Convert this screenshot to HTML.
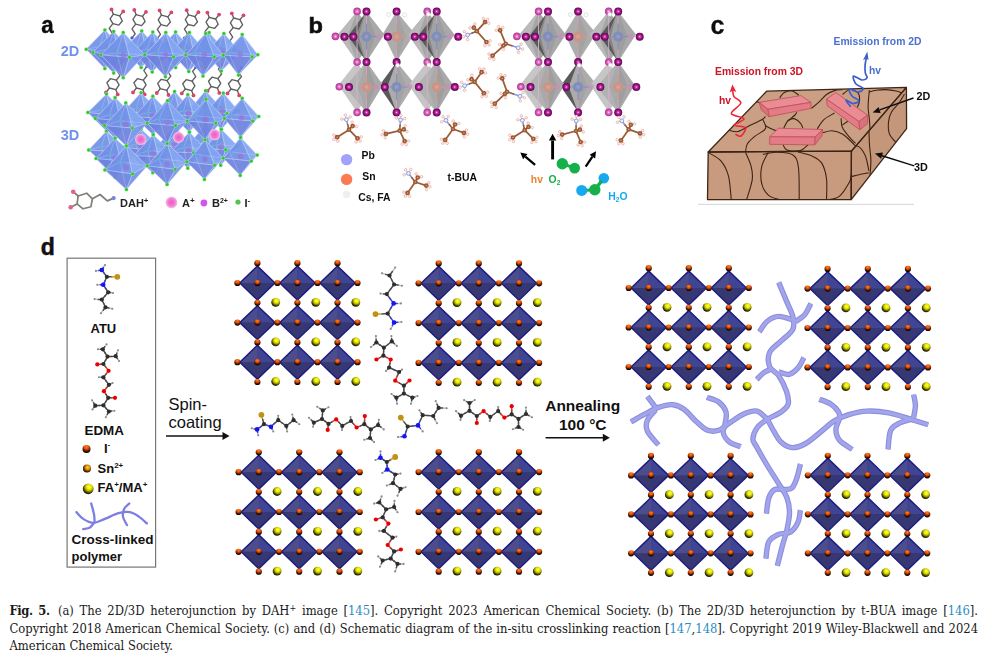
<!DOCTYPE html>
<html lang="en"><head><meta charset="utf-8"><title>Fig. 5</title>
<style>
html,body{margin:0;padding:0;background:#fff;}
body{width:985px;height:659px;position:relative;overflow:hidden;}
svg{position:absolute;left:0;top:0;}
.cap{position:absolute;left:0;top:0;width:985px;height:659px;font-family:"DejaVu Serif Condensed","Liberation Serif",serif;font-size:12.86px;color:#1a1a1a;}
.ln{position:absolute;left:9.5px;width:968.5px;height:17px;line-height:17px;white-space:nowrap;}
.j{text-align:justify;text-align-last:justify;white-space:normal;}
.r{color:#2a8dc4;}
b{letter-spacing:-0.4px;}
.sp{display:inline-block;width:8.3px;}
sup{font-size:9px;line-height:0;vertical-align:4px;}
</style></head>
<body>
<svg width="985" height="659" viewBox="0 0 985 659">

<defs>
 <filter id="b3" x="-5%" y="-5%" width="110%" height="110%"><feGaussianBlur stdDeviation="0.45"/></filter>
 <filter id="b5" x="-5%" y="-5%" width="110%" height="110%"><feGaussianBlur stdDeviation="0.6"/></filter>
 <filter id="b8" x="-5%" y="-5%" width="110%" height="110%"><feGaussianBlur stdDeviation="0.8"/></filter>
 <radialGradient id="gO" cx="0.5" cy="0.22" r="0.8"><stop offset="0" stop-color="#ff801c"/><stop offset="0.3" stop-color="#ee5a0a"/><stop offset="0.5" stop-color="#b03a04"/><stop offset="0.68" stop-color="#4e1800"/><stop offset="0.85" stop-color="#1a0600"/><stop offset="1" stop-color="#000"/></radialGradient>
 <radialGradient id="gY" cx="0.58" cy="0.34" r="0.74"><stop offset="0" stop-color="#ffff60"/><stop offset="0.3" stop-color="#eaea00"/><stop offset="0.5" stop-color="#a8a800"/><stop offset="0.7" stop-color="#484800"/><stop offset="0.88" stop-color="#141400"/><stop offset="1" stop-color="#000"/></radialGradient>
 <radialGradient id="gSn" cx="0.58" cy="0.36" r="0.74"><stop offset="0" stop-color="#ffd038"/><stop offset="0.3" stop-color="#eca000"/><stop offset="0.5" stop-color="#a86400"/><stop offset="0.7" stop-color="#482400"/><stop offset="0.88" stop-color="#140800"/><stop offset="1" stop-color="#000"/></radialGradient>
 <radialGradient id="gI" cx="0.5" cy="0.5" r="0.5"><stop offset="0" stop-color="#ffd8f4"/><stop offset="0.22" stop-color="#d848b4"/><stop offset="0.55" stop-color="#a01486"/><stop offset="1" stop-color="#5a0450"/></radialGradient>
 <radialGradient id="gIb" cx="0.5" cy="0.5" r="0.5"><stop offset="0" stop-color="#ffe8fa"/><stop offset="0.25" stop-color="#ee88d2"/><stop offset="0.6" stop-color="#d250b0"/><stop offset="1" stop-color="#a83890"/></radialGradient>
 <radialGradient id="gPb" cx="0.5" cy="0.5" r="0.5"><stop offset="0" stop-color="#9aa4c6"/><stop offset="0.6" stop-color="#7f8cba"/><stop offset="1" stop-color="#8a92b4"/></radialGradient>
 <radialGradient id="gSnb" cx="0.5" cy="0.5" r="0.5"><stop offset="0" stop-color="#d8a89c"/><stop offset="0.6" stop-color="#cc9286"/><stop offset="1" stop-color="#c09a92"/></radialGradient>
 <radialGradient id="gA" cx="0.5" cy="0.5" r="0.5"><stop offset="0" stop-color="#ec5cc2"/><stop offset="0.55" stop-color="#f07ad0"/><stop offset="0.85" stop-color="#f6a6e0"/><stop offset="1" stop-color="#fbd0f0"/></radialGradient>
 <radialGradient id="gG" cx="0.5" cy="0.5" r="0.5"><stop offset="0" stop-color="#28b428"/><stop offset="0.55" stop-color="#38d038"/><stop offset="1" stop-color="#8ce88c"/></radialGradient>
</defs>

<!-- panel d lattice blocks -->
<g filter="url(#b3)"><polygon points="239.8,283.0 257.4,266.1 275.0,283.0 257.4,299.9" fill="#3f407f"/><polygon points="239.8,283.0 257.4,266.1 257.4,283.0" fill="#4b4e8c"/><polygon points="257.4,266.1 275.0,283.0 257.4,283.0" fill="#414493"/><polygon points="239.8,283.0 257.4,299.9 257.4,283.0" fill="#38396f"/><polygon points="257.4,299.9 275.0,283.0 257.4,283.0" fill="#353775"/><polygon points="239.8,283.0 257.4,266.1 275.0,283.0 257.4,299.9" fill="none" stroke="#1f1f80" stroke-width="1.5" stroke-linejoin="round"/><polygon points="279.8,283.0 297.4,266.1 315.1,283.0 297.4,299.9" fill="#3f407f"/><polygon points="279.8,283.0 297.4,266.1 297.4,283.0" fill="#4b4e8c"/><polygon points="297.4,266.1 315.1,283.0 297.4,283.0" fill="#414493"/><polygon points="279.8,283.0 297.4,299.9 297.4,283.0" fill="#38396f"/><polygon points="297.4,299.9 315.1,283.0 297.4,283.0" fill="#353775"/><polygon points="279.8,283.0 297.4,266.1 315.1,283.0 297.4,299.9" fill="none" stroke="#1f1f80" stroke-width="1.5" stroke-linejoin="round"/><polygon points="319.9,283.0 337.5,266.1 355.1,283.0 337.5,299.9" fill="#3f407f"/><polygon points="319.9,283.0 337.5,266.1 337.5,283.0" fill="#4b4e8c"/><polygon points="337.5,266.1 355.1,283.0 337.5,283.0" fill="#414493"/><polygon points="319.9,283.0 337.5,299.9 337.5,283.0" fill="#38396f"/><polygon points="337.5,299.9 355.1,283.0 337.5,283.0" fill="#353775"/><polygon points="319.9,283.0 337.5,266.1 355.1,283.0 337.5,299.9" fill="none" stroke="#1f1f80" stroke-width="1.5" stroke-linejoin="round"/><polygon points="239.8,322.6 257.4,305.7 275.0,322.6 257.4,339.5" fill="#3f407f"/><polygon points="239.8,322.6 257.4,305.7 257.4,322.6" fill="#4b4e8c"/><polygon points="257.4,305.7 275.0,322.6 257.4,322.6" fill="#414493"/><polygon points="239.8,322.6 257.4,339.5 257.4,322.6" fill="#38396f"/><polygon points="257.4,339.5 275.0,322.6 257.4,322.6" fill="#353775"/><polygon points="239.8,322.6 257.4,305.7 275.0,322.6 257.4,339.5" fill="none" stroke="#1f1f80" stroke-width="1.5" stroke-linejoin="round"/><polygon points="279.8,322.6 297.4,305.7 315.1,322.6 297.4,339.5" fill="#3f407f"/><polygon points="279.8,322.6 297.4,305.7 297.4,322.6" fill="#4b4e8c"/><polygon points="297.4,305.7 315.1,322.6 297.4,322.6" fill="#414493"/><polygon points="279.8,322.6 297.4,339.5 297.4,322.6" fill="#38396f"/><polygon points="297.4,339.5 315.1,322.6 297.4,322.6" fill="#353775"/><polygon points="279.8,322.6 297.4,305.7 315.1,322.6 297.4,339.5" fill="none" stroke="#1f1f80" stroke-width="1.5" stroke-linejoin="round"/><polygon points="319.9,322.6 337.5,305.7 355.1,322.6 337.5,339.5" fill="#3f407f"/><polygon points="319.9,322.6 337.5,305.7 337.5,322.6" fill="#4b4e8c"/><polygon points="337.5,305.7 355.1,322.6 337.5,322.6" fill="#414493"/><polygon points="319.9,322.6 337.5,339.5 337.5,322.6" fill="#38396f"/><polygon points="337.5,339.5 355.1,322.6 337.5,322.6" fill="#353775"/><polygon points="319.9,322.6 337.5,305.7 355.1,322.6 337.5,339.5" fill="none" stroke="#1f1f80" stroke-width="1.5" stroke-linejoin="round"/><polygon points="239.8,362.2 257.4,345.3 275.0,362.2 257.4,379.1" fill="#3f407f"/><polygon points="239.8,362.2 257.4,345.3 257.4,362.2" fill="#4b4e8c"/><polygon points="257.4,345.3 275.0,362.2 257.4,362.2" fill="#414493"/><polygon points="239.8,362.2 257.4,379.1 257.4,362.2" fill="#38396f"/><polygon points="257.4,379.1 275.0,362.2 257.4,362.2" fill="#353775"/><polygon points="239.8,362.2 257.4,345.3 275.0,362.2 257.4,379.1" fill="none" stroke="#1f1f80" stroke-width="1.5" stroke-linejoin="round"/><polygon points="279.8,362.2 297.4,345.3 315.1,362.2 297.4,379.1" fill="#3f407f"/><polygon points="279.8,362.2 297.4,345.3 297.4,362.2" fill="#4b4e8c"/><polygon points="297.4,345.3 315.1,362.2 297.4,362.2" fill="#414493"/><polygon points="279.8,362.2 297.4,379.1 297.4,362.2" fill="#38396f"/><polygon points="297.4,379.1 315.1,362.2 297.4,362.2" fill="#353775"/><polygon points="279.8,362.2 297.4,345.3 315.1,362.2 297.4,379.1" fill="none" stroke="#1f1f80" stroke-width="1.5" stroke-linejoin="round"/><polygon points="319.9,362.2 337.5,345.3 355.1,362.2 337.5,379.1" fill="#3f407f"/><polygon points="319.9,362.2 337.5,345.3 337.5,362.2" fill="#4b4e8c"/><polygon points="337.5,345.3 355.1,362.2 337.5,362.2" fill="#414493"/><polygon points="319.9,362.2 337.5,379.1 337.5,362.2" fill="#38396f"/><polygon points="337.5,379.1 355.1,362.2 337.5,362.2" fill="#353775"/><polygon points="319.9,362.2 337.5,345.3 355.1,362.2 337.5,379.1" fill="none" stroke="#1f1f80" stroke-width="1.5" stroke-linejoin="round"/><circle cx="237.4" cy="283.0" r="3.1" fill="url(#gO)"/><circle cx="237.4" cy="322.6" r="3.1" fill="url(#gO)"/><circle cx="237.4" cy="362.2" r="3.1" fill="url(#gO)"/><circle cx="257.4" cy="263.2" r="3.1" fill="url(#gO)"/><circle cx="257.4" cy="283.0" r="3.1" fill="url(#gO)"/><circle cx="257.4" cy="302.8" r="3.1" fill="url(#gO)"/><circle cx="257.4" cy="322.6" r="3.1" fill="url(#gO)"/><circle cx="257.4" cy="342.4" r="3.1" fill="url(#gO)"/><circle cx="257.4" cy="362.2" r="3.1" fill="url(#gO)"/><circle cx="257.4" cy="382.0" r="3.1" fill="url(#gO)"/><circle cx="277.4" cy="283.0" r="3.1" fill="url(#gO)"/><circle cx="277.4" cy="322.6" r="3.1" fill="url(#gO)"/><circle cx="277.4" cy="362.2" r="3.1" fill="url(#gO)"/><circle cx="297.4" cy="263.2" r="3.1" fill="url(#gO)"/><circle cx="297.4" cy="283.0" r="3.1" fill="url(#gO)"/><circle cx="297.4" cy="302.8" r="3.1" fill="url(#gO)"/><circle cx="297.4" cy="322.6" r="3.1" fill="url(#gO)"/><circle cx="297.4" cy="342.4" r="3.1" fill="url(#gO)"/><circle cx="297.4" cy="362.2" r="3.1" fill="url(#gO)"/><circle cx="297.4" cy="382.0" r="3.1" fill="url(#gO)"/><circle cx="317.5" cy="283.0" r="3.1" fill="url(#gO)"/><circle cx="317.5" cy="322.6" r="3.1" fill="url(#gO)"/><circle cx="317.5" cy="362.2" r="3.1" fill="url(#gO)"/><circle cx="337.5" cy="263.2" r="3.1" fill="url(#gO)"/><circle cx="337.5" cy="283.0" r="3.1" fill="url(#gO)"/><circle cx="337.5" cy="302.8" r="3.1" fill="url(#gO)"/><circle cx="337.5" cy="322.6" r="3.1" fill="url(#gO)"/><circle cx="337.5" cy="342.4" r="3.1" fill="url(#gO)"/><circle cx="337.5" cy="362.2" r="3.1" fill="url(#gO)"/><circle cx="337.5" cy="382.0" r="3.1" fill="url(#gO)"/><circle cx="357.5" cy="283.0" r="3.1" fill="url(#gO)"/><circle cx="357.5" cy="322.6" r="3.1" fill="url(#gO)"/><circle cx="357.5" cy="362.2" r="3.1" fill="url(#gO)"/><circle cx="275.7" cy="302.3" r="4.4" fill="url(#gY)"/><circle cx="315.8" cy="302.3" r="4.4" fill="url(#gY)"/><circle cx="355.8" cy="302.3" r="4.4" fill="url(#gY)"/><circle cx="275.7" cy="341.9" r="4.4" fill="url(#gY)"/><circle cx="315.8" cy="341.9" r="4.4" fill="url(#gY)"/><circle cx="355.8" cy="341.9" r="4.4" fill="url(#gY)"/><circle cx="275.7" cy="381.5" r="4.4" fill="url(#gY)"/><circle cx="315.8" cy="381.5" r="4.4" fill="url(#gY)"/><circle cx="355.8" cy="381.5" r="4.4" fill="url(#gY)"/></g>
<g filter="url(#b3)"><polygon points="421.1,283.3 438.7,266.4 456.3,283.3 438.7,300.2" fill="#3f407f"/><polygon points="421.1,283.3 438.7,266.4 438.7,283.3" fill="#4b4e8c"/><polygon points="438.7,266.4 456.3,283.3 438.7,283.3" fill="#414493"/><polygon points="421.1,283.3 438.7,300.2 438.7,283.3" fill="#38396f"/><polygon points="438.7,300.2 456.3,283.3 438.7,283.3" fill="#353775"/><polygon points="421.1,283.3 438.7,266.4 456.3,283.3 438.7,300.2" fill="none" stroke="#1f1f80" stroke-width="1.5" stroke-linejoin="round"/><polygon points="461.2,283.3 478.8,266.4 496.4,283.3 478.8,300.2" fill="#3f407f"/><polygon points="461.2,283.3 478.8,266.4 478.8,283.3" fill="#4b4e8c"/><polygon points="478.8,266.4 496.4,283.3 478.8,283.3" fill="#414493"/><polygon points="461.2,283.3 478.8,300.2 478.8,283.3" fill="#38396f"/><polygon points="478.8,300.2 496.4,283.3 478.8,283.3" fill="#353775"/><polygon points="461.2,283.3 478.8,266.4 496.4,283.3 478.8,300.2" fill="none" stroke="#1f1f80" stroke-width="1.5" stroke-linejoin="round"/><polygon points="501.4,283.3 519.0,266.4 536.6,283.3 519.0,300.2" fill="#3f407f"/><polygon points="501.4,283.3 519.0,266.4 519.0,283.3" fill="#4b4e8c"/><polygon points="519.0,266.4 536.6,283.3 519.0,283.3" fill="#414493"/><polygon points="501.4,283.3 519.0,300.2 519.0,283.3" fill="#38396f"/><polygon points="519.0,300.2 536.6,283.3 519.0,283.3" fill="#353775"/><polygon points="501.4,283.3 519.0,266.4 536.6,283.3 519.0,300.2" fill="none" stroke="#1f1f80" stroke-width="1.5" stroke-linejoin="round"/><polygon points="421.1,323.1 438.7,306.2 456.3,323.1 438.7,340.0" fill="#3f407f"/><polygon points="421.1,323.1 438.7,306.2 438.7,323.1" fill="#4b4e8c"/><polygon points="438.7,306.2 456.3,323.1 438.7,323.1" fill="#414493"/><polygon points="421.1,323.1 438.7,340.0 438.7,323.1" fill="#38396f"/><polygon points="438.7,340.0 456.3,323.1 438.7,323.1" fill="#353775"/><polygon points="421.1,323.1 438.7,306.2 456.3,323.1 438.7,340.0" fill="none" stroke="#1f1f80" stroke-width="1.5" stroke-linejoin="round"/><polygon points="461.2,323.1 478.8,306.2 496.4,323.1 478.8,340.0" fill="#3f407f"/><polygon points="461.2,323.1 478.8,306.2 478.8,323.1" fill="#4b4e8c"/><polygon points="478.8,306.2 496.4,323.1 478.8,323.1" fill="#414493"/><polygon points="461.2,323.1 478.8,340.0 478.8,323.1" fill="#38396f"/><polygon points="478.8,340.0 496.4,323.1 478.8,323.1" fill="#353775"/><polygon points="461.2,323.1 478.8,306.2 496.4,323.1 478.8,340.0" fill="none" stroke="#1f1f80" stroke-width="1.5" stroke-linejoin="round"/><polygon points="501.4,323.1 519.0,306.2 536.6,323.1 519.0,340.0" fill="#3f407f"/><polygon points="501.4,323.1 519.0,306.2 519.0,323.1" fill="#4b4e8c"/><polygon points="519.0,306.2 536.6,323.1 519.0,323.1" fill="#414493"/><polygon points="501.4,323.1 519.0,340.0 519.0,323.1" fill="#38396f"/><polygon points="519.0,340.0 536.6,323.1 519.0,323.1" fill="#353775"/><polygon points="501.4,323.1 519.0,306.2 536.6,323.1 519.0,340.0" fill="none" stroke="#1f1f80" stroke-width="1.5" stroke-linejoin="round"/><polygon points="421.1,362.9 438.7,346.0 456.3,362.9 438.7,379.8" fill="#3f407f"/><polygon points="421.1,362.9 438.7,346.0 438.7,362.9" fill="#4b4e8c"/><polygon points="438.7,346.0 456.3,362.9 438.7,362.9" fill="#414493"/><polygon points="421.1,362.9 438.7,379.8 438.7,362.9" fill="#38396f"/><polygon points="438.7,379.8 456.3,362.9 438.7,362.9" fill="#353775"/><polygon points="421.1,362.9 438.7,346.0 456.3,362.9 438.7,379.8" fill="none" stroke="#1f1f80" stroke-width="1.5" stroke-linejoin="round"/><polygon points="461.2,362.9 478.8,346.0 496.4,362.9 478.8,379.8" fill="#3f407f"/><polygon points="461.2,362.9 478.8,346.0 478.8,362.9" fill="#4b4e8c"/><polygon points="478.8,346.0 496.4,362.9 478.8,362.9" fill="#414493"/><polygon points="461.2,362.9 478.8,379.8 478.8,362.9" fill="#38396f"/><polygon points="478.8,379.8 496.4,362.9 478.8,362.9" fill="#353775"/><polygon points="461.2,362.9 478.8,346.0 496.4,362.9 478.8,379.8" fill="none" stroke="#1f1f80" stroke-width="1.5" stroke-linejoin="round"/><polygon points="501.4,362.9 519.0,346.0 536.6,362.9 519.0,379.8" fill="#3f407f"/><polygon points="501.4,362.9 519.0,346.0 519.0,362.9" fill="#4b4e8c"/><polygon points="519.0,346.0 536.6,362.9 519.0,362.9" fill="#414493"/><polygon points="501.4,362.9 519.0,379.8 519.0,362.9" fill="#38396f"/><polygon points="519.0,379.8 536.6,362.9 519.0,362.9" fill="#353775"/><polygon points="501.4,362.9 519.0,346.0 536.6,362.9 519.0,379.8" fill="none" stroke="#1f1f80" stroke-width="1.5" stroke-linejoin="round"/><circle cx="418.6" cy="283.3" r="3.1" fill="url(#gO)"/><circle cx="418.6" cy="323.1" r="3.1" fill="url(#gO)"/><circle cx="418.6" cy="362.9" r="3.1" fill="url(#gO)"/><circle cx="438.7" cy="263.4" r="3.1" fill="url(#gO)"/><circle cx="438.7" cy="283.3" r="3.1" fill="url(#gO)"/><circle cx="438.7" cy="303.2" r="3.1" fill="url(#gO)"/><circle cx="438.7" cy="323.1" r="3.1" fill="url(#gO)"/><circle cx="438.7" cy="343.0" r="3.1" fill="url(#gO)"/><circle cx="438.7" cy="362.9" r="3.1" fill="url(#gO)"/><circle cx="438.7" cy="382.8" r="3.1" fill="url(#gO)"/><circle cx="458.8" cy="283.3" r="3.1" fill="url(#gO)"/><circle cx="458.8" cy="323.1" r="3.1" fill="url(#gO)"/><circle cx="458.8" cy="362.9" r="3.1" fill="url(#gO)"/><circle cx="478.8" cy="263.4" r="3.1" fill="url(#gO)"/><circle cx="478.8" cy="283.3" r="3.1" fill="url(#gO)"/><circle cx="478.8" cy="303.2" r="3.1" fill="url(#gO)"/><circle cx="478.8" cy="323.1" r="3.1" fill="url(#gO)"/><circle cx="478.8" cy="343.0" r="3.1" fill="url(#gO)"/><circle cx="478.8" cy="362.9" r="3.1" fill="url(#gO)"/><circle cx="478.8" cy="382.8" r="3.1" fill="url(#gO)"/><circle cx="498.9" cy="283.3" r="3.1" fill="url(#gO)"/><circle cx="498.9" cy="323.1" r="3.1" fill="url(#gO)"/><circle cx="498.9" cy="362.9" r="3.1" fill="url(#gO)"/><circle cx="519.0" cy="263.4" r="3.1" fill="url(#gO)"/><circle cx="519.0" cy="283.3" r="3.1" fill="url(#gO)"/><circle cx="519.0" cy="303.2" r="3.1" fill="url(#gO)"/><circle cx="519.0" cy="323.1" r="3.1" fill="url(#gO)"/><circle cx="519.0" cy="343.0" r="3.1" fill="url(#gO)"/><circle cx="519.0" cy="362.9" r="3.1" fill="url(#gO)"/><circle cx="519.0" cy="382.8" r="3.1" fill="url(#gO)"/><circle cx="539.1" cy="283.3" r="3.1" fill="url(#gO)"/><circle cx="539.1" cy="323.1" r="3.1" fill="url(#gO)"/><circle cx="539.1" cy="362.9" r="3.1" fill="url(#gO)"/><circle cx="457.0" cy="302.6" r="4.4" fill="url(#gY)"/><circle cx="497.1" cy="302.6" r="4.4" fill="url(#gY)"/><circle cx="537.3" cy="302.6" r="4.4" fill="url(#gY)"/><circle cx="457.0" cy="342.4" r="4.4" fill="url(#gY)"/><circle cx="497.1" cy="342.4" r="4.4" fill="url(#gY)"/><circle cx="537.3" cy="342.4" r="4.4" fill="url(#gY)"/><circle cx="457.0" cy="382.2" r="4.4" fill="url(#gY)"/><circle cx="497.1" cy="382.2" r="4.4" fill="url(#gY)"/><circle cx="537.3" cy="382.2" r="4.4" fill="url(#gY)"/></g>
<g filter="url(#b3)"><polygon points="241.2,472.2 258.8,455.3 276.4,472.2 258.8,489.1" fill="#3f407f"/><polygon points="241.2,472.2 258.8,455.3 258.8,472.2" fill="#4b4e8c"/><polygon points="258.8,455.3 276.4,472.2 258.8,472.2" fill="#414493"/><polygon points="241.2,472.2 258.8,489.1 258.8,472.2" fill="#38396f"/><polygon points="258.8,489.1 276.4,472.2 258.8,472.2" fill="#353775"/><polygon points="241.2,472.2 258.8,455.3 276.4,472.2 258.8,489.1" fill="none" stroke="#1f1f80" stroke-width="1.5" stroke-linejoin="round"/><polygon points="281.6,472.2 299.2,455.3 316.8,472.2 299.2,489.1" fill="#3f407f"/><polygon points="281.6,472.2 299.2,455.3 299.2,472.2" fill="#4b4e8c"/><polygon points="299.2,455.3 316.8,472.2 299.2,472.2" fill="#414493"/><polygon points="281.6,472.2 299.2,489.1 299.2,472.2" fill="#38396f"/><polygon points="299.2,489.1 316.8,472.2 299.2,472.2" fill="#353775"/><polygon points="281.6,472.2 299.2,455.3 316.8,472.2 299.2,489.1" fill="none" stroke="#1f1f80" stroke-width="1.5" stroke-linejoin="round"/><polygon points="321.9,472.2 339.5,455.3 357.1,472.2 339.5,489.1" fill="#3f407f"/><polygon points="321.9,472.2 339.5,455.3 339.5,472.2" fill="#4b4e8c"/><polygon points="339.5,455.3 357.1,472.2 339.5,472.2" fill="#414493"/><polygon points="321.9,472.2 339.5,489.1 339.5,472.2" fill="#38396f"/><polygon points="339.5,489.1 357.1,472.2 339.5,472.2" fill="#353775"/><polygon points="321.9,472.2 339.5,455.3 357.1,472.2 339.5,489.1" fill="none" stroke="#1f1f80" stroke-width="1.5" stroke-linejoin="round"/><polygon points="241.2,512.0 258.8,495.1 276.4,512.0 258.8,528.9" fill="#3f407f"/><polygon points="241.2,512.0 258.8,495.1 258.8,512.0" fill="#4b4e8c"/><polygon points="258.8,495.1 276.4,512.0 258.8,512.0" fill="#414493"/><polygon points="241.2,512.0 258.8,528.9 258.8,512.0" fill="#38396f"/><polygon points="258.8,528.9 276.4,512.0 258.8,512.0" fill="#353775"/><polygon points="241.2,512.0 258.8,495.1 276.4,512.0 258.8,528.9" fill="none" stroke="#1f1f80" stroke-width="1.5" stroke-linejoin="round"/><polygon points="281.6,512.0 299.2,495.1 316.8,512.0 299.2,528.9" fill="#3f407f"/><polygon points="281.6,512.0 299.2,495.1 299.2,512.0" fill="#4b4e8c"/><polygon points="299.2,495.1 316.8,512.0 299.2,512.0" fill="#414493"/><polygon points="281.6,512.0 299.2,528.9 299.2,512.0" fill="#38396f"/><polygon points="299.2,528.9 316.8,512.0 299.2,512.0" fill="#353775"/><polygon points="281.6,512.0 299.2,495.1 316.8,512.0 299.2,528.9" fill="none" stroke="#1f1f80" stroke-width="1.5" stroke-linejoin="round"/><polygon points="321.9,512.0 339.5,495.1 357.1,512.0 339.5,528.9" fill="#3f407f"/><polygon points="321.9,512.0 339.5,495.1 339.5,512.0" fill="#4b4e8c"/><polygon points="339.5,495.1 357.1,512.0 339.5,512.0" fill="#414493"/><polygon points="321.9,512.0 339.5,528.9 339.5,512.0" fill="#38396f"/><polygon points="339.5,528.9 357.1,512.0 339.5,512.0" fill="#353775"/><polygon points="321.9,512.0 339.5,495.1 357.1,512.0 339.5,528.9" fill="none" stroke="#1f1f80" stroke-width="1.5" stroke-linejoin="round"/><polygon points="241.2,551.8 258.8,534.9 276.4,551.8 258.8,568.7" fill="#3f407f"/><polygon points="241.2,551.8 258.8,534.9 258.8,551.8" fill="#4b4e8c"/><polygon points="258.8,534.9 276.4,551.8 258.8,551.8" fill="#414493"/><polygon points="241.2,551.8 258.8,568.7 258.8,551.8" fill="#38396f"/><polygon points="258.8,568.7 276.4,551.8 258.8,551.8" fill="#353775"/><polygon points="241.2,551.8 258.8,534.9 276.4,551.8 258.8,568.7" fill="none" stroke="#1f1f80" stroke-width="1.5" stroke-linejoin="round"/><polygon points="281.6,551.8 299.2,534.9 316.8,551.8 299.2,568.7" fill="#3f407f"/><polygon points="281.6,551.8 299.2,534.9 299.2,551.8" fill="#4b4e8c"/><polygon points="299.2,534.9 316.8,551.8 299.2,551.8" fill="#414493"/><polygon points="281.6,551.8 299.2,568.7 299.2,551.8" fill="#38396f"/><polygon points="299.2,568.7 316.8,551.8 299.2,551.8" fill="#353775"/><polygon points="281.6,551.8 299.2,534.9 316.8,551.8 299.2,568.7" fill="none" stroke="#1f1f80" stroke-width="1.5" stroke-linejoin="round"/><polygon points="321.9,551.8 339.5,534.9 357.1,551.8 339.5,568.7" fill="#3f407f"/><polygon points="321.9,551.8 339.5,534.9 339.5,551.8" fill="#4b4e8c"/><polygon points="339.5,534.9 357.1,551.8 339.5,551.8" fill="#414493"/><polygon points="321.9,551.8 339.5,568.7 339.5,551.8" fill="#38396f"/><polygon points="339.5,568.7 357.1,551.8 339.5,551.8" fill="#353775"/><polygon points="321.9,551.8 339.5,534.9 357.1,551.8 339.5,568.7" fill="none" stroke="#1f1f80" stroke-width="1.5" stroke-linejoin="round"/><circle cx="238.6" cy="472.2" r="3.1" fill="url(#gO)"/><circle cx="238.6" cy="512.0" r="3.1" fill="url(#gO)"/><circle cx="238.6" cy="551.8" r="3.1" fill="url(#gO)"/><circle cx="258.8" cy="452.3" r="3.1" fill="url(#gO)"/><circle cx="258.8" cy="472.2" r="3.1" fill="url(#gO)"/><circle cx="258.8" cy="492.1" r="3.1" fill="url(#gO)"/><circle cx="258.8" cy="512.0" r="3.1" fill="url(#gO)"/><circle cx="258.8" cy="531.9" r="3.1" fill="url(#gO)"/><circle cx="258.8" cy="551.8" r="3.1" fill="url(#gO)"/><circle cx="258.8" cy="571.7" r="3.1" fill="url(#gO)"/><circle cx="279.0" cy="472.2" r="3.1" fill="url(#gO)"/><circle cx="279.0" cy="512.0" r="3.1" fill="url(#gO)"/><circle cx="279.0" cy="551.8" r="3.1" fill="url(#gO)"/><circle cx="299.2" cy="452.3" r="3.1" fill="url(#gO)"/><circle cx="299.2" cy="472.2" r="3.1" fill="url(#gO)"/><circle cx="299.2" cy="492.1" r="3.1" fill="url(#gO)"/><circle cx="299.2" cy="512.0" r="3.1" fill="url(#gO)"/><circle cx="299.2" cy="531.9" r="3.1" fill="url(#gO)"/><circle cx="299.2" cy="551.8" r="3.1" fill="url(#gO)"/><circle cx="299.2" cy="571.7" r="3.1" fill="url(#gO)"/><circle cx="319.3" cy="472.2" r="3.1" fill="url(#gO)"/><circle cx="319.3" cy="512.0" r="3.1" fill="url(#gO)"/><circle cx="319.3" cy="551.8" r="3.1" fill="url(#gO)"/><circle cx="339.5" cy="452.3" r="3.1" fill="url(#gO)"/><circle cx="339.5" cy="472.2" r="3.1" fill="url(#gO)"/><circle cx="339.5" cy="492.1" r="3.1" fill="url(#gO)"/><circle cx="339.5" cy="512.0" r="3.1" fill="url(#gO)"/><circle cx="339.5" cy="531.9" r="3.1" fill="url(#gO)"/><circle cx="339.5" cy="551.8" r="3.1" fill="url(#gO)"/><circle cx="339.5" cy="571.7" r="3.1" fill="url(#gO)"/><circle cx="359.7" cy="472.2" r="3.1" fill="url(#gO)"/><circle cx="359.7" cy="512.0" r="3.1" fill="url(#gO)"/><circle cx="359.7" cy="551.8" r="3.1" fill="url(#gO)"/><circle cx="277.1" cy="491.5" r="4.4" fill="url(#gY)"/><circle cx="317.5" cy="491.5" r="4.4" fill="url(#gY)"/><circle cx="357.8" cy="491.5" r="4.4" fill="url(#gY)"/><circle cx="277.1" cy="531.3" r="4.4" fill="url(#gY)"/><circle cx="317.5" cy="531.3" r="4.4" fill="url(#gY)"/><circle cx="357.8" cy="531.3" r="4.4" fill="url(#gY)"/><circle cx="277.1" cy="571.1" r="4.4" fill="url(#gY)"/><circle cx="317.5" cy="571.1" r="4.4" fill="url(#gY)"/><circle cx="357.8" cy="571.1" r="4.4" fill="url(#gY)"/></g>
<g filter="url(#b3)"><polygon points="421.1,472.1 438.7,455.2 456.3,472.1 438.7,489.0" fill="#3f407f"/><polygon points="421.1,472.1 438.7,455.2 438.7,472.1" fill="#4b4e8c"/><polygon points="438.7,455.2 456.3,472.1 438.7,472.1" fill="#414493"/><polygon points="421.1,472.1 438.7,489.0 438.7,472.1" fill="#38396f"/><polygon points="438.7,489.0 456.3,472.1 438.7,472.1" fill="#353775"/><polygon points="421.1,472.1 438.7,455.2 456.3,472.1 438.7,489.0" fill="none" stroke="#1f1f80" stroke-width="1.5" stroke-linejoin="round"/><polygon points="461.2,472.1 478.8,455.2 496.4,472.1 478.8,489.0" fill="#3f407f"/><polygon points="461.2,472.1 478.8,455.2 478.8,472.1" fill="#4b4e8c"/><polygon points="478.8,455.2 496.4,472.1 478.8,472.1" fill="#414493"/><polygon points="461.2,472.1 478.8,489.0 478.8,472.1" fill="#38396f"/><polygon points="478.8,489.0 496.4,472.1 478.8,472.1" fill="#353775"/><polygon points="461.2,472.1 478.8,455.2 496.4,472.1 478.8,489.0" fill="none" stroke="#1f1f80" stroke-width="1.5" stroke-linejoin="round"/><polygon points="501.4,472.1 519.0,455.2 536.6,472.1 519.0,489.0" fill="#3f407f"/><polygon points="501.4,472.1 519.0,455.2 519.0,472.1" fill="#4b4e8c"/><polygon points="519.0,455.2 536.6,472.1 519.0,472.1" fill="#414493"/><polygon points="501.4,472.1 519.0,489.0 519.0,472.1" fill="#38396f"/><polygon points="519.0,489.0 536.6,472.1 519.0,472.1" fill="#353775"/><polygon points="501.4,472.1 519.0,455.2 536.6,472.1 519.0,489.0" fill="none" stroke="#1f1f80" stroke-width="1.5" stroke-linejoin="round"/><polygon points="421.1,512.0 438.7,495.1 456.3,512.0 438.7,528.9" fill="#3f407f"/><polygon points="421.1,512.0 438.7,495.1 438.7,512.0" fill="#4b4e8c"/><polygon points="438.7,495.1 456.3,512.0 438.7,512.0" fill="#414493"/><polygon points="421.1,512.0 438.7,528.9 438.7,512.0" fill="#38396f"/><polygon points="438.7,528.9 456.3,512.0 438.7,512.0" fill="#353775"/><polygon points="421.1,512.0 438.7,495.1 456.3,512.0 438.7,528.9" fill="none" stroke="#1f1f80" stroke-width="1.5" stroke-linejoin="round"/><polygon points="461.2,512.0 478.8,495.1 496.4,512.0 478.8,528.9" fill="#3f407f"/><polygon points="461.2,512.0 478.8,495.1 478.8,512.0" fill="#4b4e8c"/><polygon points="478.8,495.1 496.4,512.0 478.8,512.0" fill="#414493"/><polygon points="461.2,512.0 478.8,528.9 478.8,512.0" fill="#38396f"/><polygon points="478.8,528.9 496.4,512.0 478.8,512.0" fill="#353775"/><polygon points="461.2,512.0 478.8,495.1 496.4,512.0 478.8,528.9" fill="none" stroke="#1f1f80" stroke-width="1.5" stroke-linejoin="round"/><polygon points="501.4,512.0 519.0,495.1 536.6,512.0 519.0,528.9" fill="#3f407f"/><polygon points="501.4,512.0 519.0,495.1 519.0,512.0" fill="#4b4e8c"/><polygon points="519.0,495.1 536.6,512.0 519.0,512.0" fill="#414493"/><polygon points="501.4,512.0 519.0,528.9 519.0,512.0" fill="#38396f"/><polygon points="519.0,528.9 536.6,512.0 519.0,512.0" fill="#353775"/><polygon points="501.4,512.0 519.0,495.1 536.6,512.0 519.0,528.9" fill="none" stroke="#1f1f80" stroke-width="1.5" stroke-linejoin="round"/><polygon points="421.1,551.8 438.7,534.9 456.3,551.8 438.7,568.7" fill="#3f407f"/><polygon points="421.1,551.8 438.7,534.9 438.7,551.8" fill="#4b4e8c"/><polygon points="438.7,534.9 456.3,551.8 438.7,551.8" fill="#414493"/><polygon points="421.1,551.8 438.7,568.7 438.7,551.8" fill="#38396f"/><polygon points="438.7,568.7 456.3,551.8 438.7,551.8" fill="#353775"/><polygon points="421.1,551.8 438.7,534.9 456.3,551.8 438.7,568.7" fill="none" stroke="#1f1f80" stroke-width="1.5" stroke-linejoin="round"/><polygon points="461.2,551.8 478.8,534.9 496.4,551.8 478.8,568.7" fill="#3f407f"/><polygon points="461.2,551.8 478.8,534.9 478.8,551.8" fill="#4b4e8c"/><polygon points="478.8,534.9 496.4,551.8 478.8,551.8" fill="#414493"/><polygon points="461.2,551.8 478.8,568.7 478.8,551.8" fill="#38396f"/><polygon points="478.8,568.7 496.4,551.8 478.8,551.8" fill="#353775"/><polygon points="461.2,551.8 478.8,534.9 496.4,551.8 478.8,568.7" fill="none" stroke="#1f1f80" stroke-width="1.5" stroke-linejoin="round"/><polygon points="501.4,551.8 519.0,534.9 536.6,551.8 519.0,568.7" fill="#3f407f"/><polygon points="501.4,551.8 519.0,534.9 519.0,551.8" fill="#4b4e8c"/><polygon points="519.0,534.9 536.6,551.8 519.0,551.8" fill="#414493"/><polygon points="501.4,551.8 519.0,568.7 519.0,551.8" fill="#38396f"/><polygon points="519.0,568.7 536.6,551.8 519.0,551.8" fill="#353775"/><polygon points="501.4,551.8 519.0,534.9 536.6,551.8 519.0,568.7" fill="none" stroke="#1f1f80" stroke-width="1.5" stroke-linejoin="round"/><circle cx="418.6" cy="472.1" r="3.1" fill="url(#gO)"/><circle cx="418.6" cy="512.0" r="3.1" fill="url(#gO)"/><circle cx="418.6" cy="551.8" r="3.1" fill="url(#gO)"/><circle cx="438.7" cy="452.2" r="3.1" fill="url(#gO)"/><circle cx="438.7" cy="472.1" r="3.1" fill="url(#gO)"/><circle cx="438.7" cy="492.0" r="3.1" fill="url(#gO)"/><circle cx="438.7" cy="512.0" r="3.1" fill="url(#gO)"/><circle cx="438.7" cy="531.9" r="3.1" fill="url(#gO)"/><circle cx="438.7" cy="551.8" r="3.1" fill="url(#gO)"/><circle cx="438.7" cy="571.7" r="3.1" fill="url(#gO)"/><circle cx="458.8" cy="472.1" r="3.1" fill="url(#gO)"/><circle cx="458.8" cy="512.0" r="3.1" fill="url(#gO)"/><circle cx="458.8" cy="551.8" r="3.1" fill="url(#gO)"/><circle cx="478.8" cy="452.2" r="3.1" fill="url(#gO)"/><circle cx="478.8" cy="472.1" r="3.1" fill="url(#gO)"/><circle cx="478.8" cy="492.0" r="3.1" fill="url(#gO)"/><circle cx="478.8" cy="512.0" r="3.1" fill="url(#gO)"/><circle cx="478.8" cy="531.9" r="3.1" fill="url(#gO)"/><circle cx="478.8" cy="551.8" r="3.1" fill="url(#gO)"/><circle cx="478.8" cy="571.7" r="3.1" fill="url(#gO)"/><circle cx="498.9" cy="472.1" r="3.1" fill="url(#gO)"/><circle cx="498.9" cy="512.0" r="3.1" fill="url(#gO)"/><circle cx="498.9" cy="551.8" r="3.1" fill="url(#gO)"/><circle cx="519.0" cy="452.2" r="3.1" fill="url(#gO)"/><circle cx="519.0" cy="472.1" r="3.1" fill="url(#gO)"/><circle cx="519.0" cy="492.0" r="3.1" fill="url(#gO)"/><circle cx="519.0" cy="512.0" r="3.1" fill="url(#gO)"/><circle cx="519.0" cy="531.9" r="3.1" fill="url(#gO)"/><circle cx="519.0" cy="551.8" r="3.1" fill="url(#gO)"/><circle cx="519.0" cy="571.7" r="3.1" fill="url(#gO)"/><circle cx="539.1" cy="472.1" r="3.1" fill="url(#gO)"/><circle cx="539.1" cy="512.0" r="3.1" fill="url(#gO)"/><circle cx="539.1" cy="551.8" r="3.1" fill="url(#gO)"/><circle cx="457.0" cy="491.4" r="4.4" fill="url(#gY)"/><circle cx="497.1" cy="491.4" r="4.4" fill="url(#gY)"/><circle cx="537.3" cy="491.4" r="4.4" fill="url(#gY)"/><circle cx="457.0" cy="531.2" r="4.4" fill="url(#gY)"/><circle cx="497.1" cy="531.2" r="4.4" fill="url(#gY)"/><circle cx="537.3" cy="531.2" r="4.4" fill="url(#gY)"/><circle cx="457.0" cy="571.1" r="4.4" fill="url(#gY)"/><circle cx="497.1" cy="571.1" r="4.4" fill="url(#gY)"/><circle cx="537.3" cy="571.1" r="4.4" fill="url(#gY)"/></g>
<g filter="url(#b3)"><polygon points="631.1,288.0 648.7,271.1 666.3,288.0 648.7,304.9" fill="#3f407f"/><polygon points="631.1,288.0 648.7,271.1 648.7,288.0" fill="#4b4e8c"/><polygon points="648.7,271.1 666.3,288.0 648.7,288.0" fill="#414493"/><polygon points="631.1,288.0 648.7,304.9 648.7,288.0" fill="#38396f"/><polygon points="648.7,304.9 666.3,288.0 648.7,288.0" fill="#353775"/><polygon points="631.1,288.0 648.7,271.1 666.3,288.0 648.7,304.9" fill="none" stroke="#1f1f80" stroke-width="1.5" stroke-linejoin="round"/><polygon points="671.1,288.0 688.8,271.1 706.4,288.0 688.8,304.9" fill="#3f407f"/><polygon points="671.1,288.0 688.8,271.1 688.8,288.0" fill="#4b4e8c"/><polygon points="688.8,271.1 706.4,288.0 688.8,288.0" fill="#414493"/><polygon points="671.1,288.0 688.8,304.9 688.8,288.0" fill="#38396f"/><polygon points="688.8,304.9 706.4,288.0 688.8,288.0" fill="#353775"/><polygon points="671.1,288.0 688.8,271.1 706.4,288.0 688.8,304.9" fill="none" stroke="#1f1f80" stroke-width="1.5" stroke-linejoin="round"/><polygon points="711.2,288.0 728.8,271.1 746.4,288.0 728.8,304.9" fill="#3f407f"/><polygon points="711.2,288.0 728.8,271.1 728.8,288.0" fill="#4b4e8c"/><polygon points="728.8,271.1 746.4,288.0 728.8,288.0" fill="#414493"/><polygon points="711.2,288.0 728.8,304.9 728.8,288.0" fill="#38396f"/><polygon points="728.8,304.9 746.4,288.0 728.8,288.0" fill="#353775"/><polygon points="711.2,288.0 728.8,271.1 746.4,288.0 728.8,304.9" fill="none" stroke="#1f1f80" stroke-width="1.5" stroke-linejoin="round"/><polygon points="631.1,327.5 648.7,310.6 666.3,327.5 648.7,344.4" fill="#3f407f"/><polygon points="631.1,327.5 648.7,310.6 648.7,327.5" fill="#4b4e8c"/><polygon points="648.7,310.6 666.3,327.5 648.7,327.5" fill="#414493"/><polygon points="631.1,327.5 648.7,344.4 648.7,327.5" fill="#38396f"/><polygon points="648.7,344.4 666.3,327.5 648.7,327.5" fill="#353775"/><polygon points="631.1,327.5 648.7,310.6 666.3,327.5 648.7,344.4" fill="none" stroke="#1f1f80" stroke-width="1.5" stroke-linejoin="round"/><polygon points="671.1,327.5 688.8,310.6 706.4,327.5 688.8,344.4" fill="#3f407f"/><polygon points="671.1,327.5 688.8,310.6 688.8,327.5" fill="#4b4e8c"/><polygon points="688.8,310.6 706.4,327.5 688.8,327.5" fill="#414493"/><polygon points="671.1,327.5 688.8,344.4 688.8,327.5" fill="#38396f"/><polygon points="688.8,344.4 706.4,327.5 688.8,327.5" fill="#353775"/><polygon points="671.1,327.5 688.8,310.6 706.4,327.5 688.8,344.4" fill="none" stroke="#1f1f80" stroke-width="1.5" stroke-linejoin="round"/><polygon points="711.2,327.5 728.8,310.6 746.4,327.5 728.8,344.4" fill="#3f407f"/><polygon points="711.2,327.5 728.8,310.6 728.8,327.5" fill="#4b4e8c"/><polygon points="728.8,310.6 746.4,327.5 728.8,327.5" fill="#414493"/><polygon points="711.2,327.5 728.8,344.4 728.8,327.5" fill="#38396f"/><polygon points="728.8,344.4 746.4,327.5 728.8,327.5" fill="#353775"/><polygon points="711.2,327.5 728.8,310.6 746.4,327.5 728.8,344.4" fill="none" stroke="#1f1f80" stroke-width="1.5" stroke-linejoin="round"/><polygon points="631.1,367.0 648.7,350.1 666.3,367.0 648.7,383.9" fill="#3f407f"/><polygon points="631.1,367.0 648.7,350.1 648.7,367.0" fill="#4b4e8c"/><polygon points="648.7,350.1 666.3,367.0 648.7,367.0" fill="#414493"/><polygon points="631.1,367.0 648.7,383.9 648.7,367.0" fill="#38396f"/><polygon points="648.7,383.9 666.3,367.0 648.7,367.0" fill="#353775"/><polygon points="631.1,367.0 648.7,350.1 666.3,367.0 648.7,383.9" fill="none" stroke="#1f1f80" stroke-width="1.5" stroke-linejoin="round"/><polygon points="671.1,367.0 688.8,350.1 706.4,367.0 688.8,383.9" fill="#3f407f"/><polygon points="671.1,367.0 688.8,350.1 688.8,367.0" fill="#4b4e8c"/><polygon points="688.8,350.1 706.4,367.0 688.8,367.0" fill="#414493"/><polygon points="671.1,367.0 688.8,383.9 688.8,367.0" fill="#38396f"/><polygon points="688.8,383.9 706.4,367.0 688.8,367.0" fill="#353775"/><polygon points="671.1,367.0 688.8,350.1 706.4,367.0 688.8,383.9" fill="none" stroke="#1f1f80" stroke-width="1.5" stroke-linejoin="round"/><polygon points="711.2,367.0 728.8,350.1 746.4,367.0 728.8,383.9" fill="#3f407f"/><polygon points="711.2,367.0 728.8,350.1 728.8,367.0" fill="#4b4e8c"/><polygon points="728.8,350.1 746.4,367.0 728.8,367.0" fill="#414493"/><polygon points="711.2,367.0 728.8,383.9 728.8,367.0" fill="#38396f"/><polygon points="728.8,383.9 746.4,367.0 728.8,367.0" fill="#353775"/><polygon points="711.2,367.0 728.8,350.1 746.4,367.0 728.8,383.9" fill="none" stroke="#1f1f80" stroke-width="1.5" stroke-linejoin="round"/><circle cx="628.7" cy="288.0" r="3.1" fill="url(#gO)"/><circle cx="628.7" cy="327.5" r="3.1" fill="url(#gO)"/><circle cx="628.7" cy="367.0" r="3.1" fill="url(#gO)"/><circle cx="648.7" cy="268.2" r="3.1" fill="url(#gO)"/><circle cx="648.7" cy="288.0" r="3.1" fill="url(#gO)"/><circle cx="648.7" cy="307.8" r="3.1" fill="url(#gO)"/><circle cx="648.7" cy="327.5" r="3.1" fill="url(#gO)"/><circle cx="648.7" cy="347.2" r="3.1" fill="url(#gO)"/><circle cx="648.7" cy="367.0" r="3.1" fill="url(#gO)"/><circle cx="648.7" cy="386.8" r="3.1" fill="url(#gO)"/><circle cx="668.7" cy="288.0" r="3.1" fill="url(#gO)"/><circle cx="668.7" cy="327.5" r="3.1" fill="url(#gO)"/><circle cx="668.7" cy="367.0" r="3.1" fill="url(#gO)"/><circle cx="688.8" cy="268.2" r="3.1" fill="url(#gO)"/><circle cx="688.8" cy="288.0" r="3.1" fill="url(#gO)"/><circle cx="688.8" cy="307.8" r="3.1" fill="url(#gO)"/><circle cx="688.8" cy="327.5" r="3.1" fill="url(#gO)"/><circle cx="688.8" cy="347.2" r="3.1" fill="url(#gO)"/><circle cx="688.8" cy="367.0" r="3.1" fill="url(#gO)"/><circle cx="688.8" cy="386.8" r="3.1" fill="url(#gO)"/><circle cx="708.8" cy="288.0" r="3.1" fill="url(#gO)"/><circle cx="708.8" cy="327.5" r="3.1" fill="url(#gO)"/><circle cx="708.8" cy="367.0" r="3.1" fill="url(#gO)"/><circle cx="728.8" cy="268.2" r="3.1" fill="url(#gO)"/><circle cx="728.8" cy="288.0" r="3.1" fill="url(#gO)"/><circle cx="728.8" cy="307.8" r="3.1" fill="url(#gO)"/><circle cx="728.8" cy="327.5" r="3.1" fill="url(#gO)"/><circle cx="728.8" cy="347.2" r="3.1" fill="url(#gO)"/><circle cx="728.8" cy="367.0" r="3.1" fill="url(#gO)"/><circle cx="728.8" cy="386.8" r="3.1" fill="url(#gO)"/><circle cx="748.8" cy="288.0" r="3.1" fill="url(#gO)"/><circle cx="748.8" cy="327.5" r="3.1" fill="url(#gO)"/><circle cx="748.8" cy="367.0" r="3.1" fill="url(#gO)"/><circle cx="667.0" cy="307.3" r="4.4" fill="url(#gY)"/><circle cx="707.0" cy="307.3" r="4.4" fill="url(#gY)"/><circle cx="747.1" cy="307.3" r="4.4" fill="url(#gY)"/><circle cx="667.0" cy="346.8" r="4.4" fill="url(#gY)"/><circle cx="707.0" cy="346.8" r="4.4" fill="url(#gY)"/><circle cx="747.1" cy="346.8" r="4.4" fill="url(#gY)"/><circle cx="667.0" cy="386.3" r="4.4" fill="url(#gY)"/><circle cx="707.0" cy="386.3" r="4.4" fill="url(#gY)"/><circle cx="747.1" cy="386.3" r="4.4" fill="url(#gY)"/></g>
<g filter="url(#b3)"><polygon points="810.0,288.6 827.6,271.7 845.2,288.6 827.6,305.5" fill="#3f407f"/><polygon points="810.0,288.6 827.6,271.7 827.6,288.6" fill="#4b4e8c"/><polygon points="827.6,271.7 845.2,288.6 827.6,288.6" fill="#414493"/><polygon points="810.0,288.6 827.6,305.5 827.6,288.6" fill="#38396f"/><polygon points="827.6,305.5 845.2,288.6 827.6,288.6" fill="#353775"/><polygon points="810.0,288.6 827.6,271.7 845.2,288.6 827.6,305.5" fill="none" stroke="#1f1f80" stroke-width="1.5" stroke-linejoin="round"/><polygon points="850.1,288.6 867.8,271.7 885.4,288.6 867.8,305.5" fill="#3f407f"/><polygon points="850.1,288.6 867.8,271.7 867.8,288.6" fill="#4b4e8c"/><polygon points="867.8,271.7 885.4,288.6 867.8,288.6" fill="#414493"/><polygon points="850.1,288.6 867.8,305.5 867.8,288.6" fill="#38396f"/><polygon points="867.8,305.5 885.4,288.6 867.8,288.6" fill="#353775"/><polygon points="850.1,288.6 867.8,271.7 885.4,288.6 867.8,305.5" fill="none" stroke="#1f1f80" stroke-width="1.5" stroke-linejoin="round"/><polygon points="890.3,288.6 907.9,271.7 925.5,288.6 907.9,305.5" fill="#3f407f"/><polygon points="890.3,288.6 907.9,271.7 907.9,288.6" fill="#4b4e8c"/><polygon points="907.9,271.7 925.5,288.6 907.9,288.6" fill="#414493"/><polygon points="890.3,288.6 907.9,305.5 907.9,288.6" fill="#38396f"/><polygon points="907.9,305.5 925.5,288.6 907.9,288.6" fill="#353775"/><polygon points="890.3,288.6 907.9,271.7 925.5,288.6 907.9,305.5" fill="none" stroke="#1f1f80" stroke-width="1.5" stroke-linejoin="round"/><polygon points="810.0,328.0 827.6,311.1 845.2,328.0 827.6,344.9" fill="#3f407f"/><polygon points="810.0,328.0 827.6,311.1 827.6,328.0" fill="#4b4e8c"/><polygon points="827.6,311.1 845.2,328.0 827.6,328.0" fill="#414493"/><polygon points="810.0,328.0 827.6,344.9 827.6,328.0" fill="#38396f"/><polygon points="827.6,344.9 845.2,328.0 827.6,328.0" fill="#353775"/><polygon points="810.0,328.0 827.6,311.1 845.2,328.0 827.6,344.9" fill="none" stroke="#1f1f80" stroke-width="1.5" stroke-linejoin="round"/><polygon points="850.1,328.0 867.8,311.1 885.4,328.0 867.8,344.9" fill="#3f407f"/><polygon points="850.1,328.0 867.8,311.1 867.8,328.0" fill="#4b4e8c"/><polygon points="867.8,311.1 885.4,328.0 867.8,328.0" fill="#414493"/><polygon points="850.1,328.0 867.8,344.9 867.8,328.0" fill="#38396f"/><polygon points="867.8,344.9 885.4,328.0 867.8,328.0" fill="#353775"/><polygon points="850.1,328.0 867.8,311.1 885.4,328.0 867.8,344.9" fill="none" stroke="#1f1f80" stroke-width="1.5" stroke-linejoin="round"/><polygon points="890.3,328.0 907.9,311.1 925.5,328.0 907.9,344.9" fill="#3f407f"/><polygon points="890.3,328.0 907.9,311.1 907.9,328.0" fill="#4b4e8c"/><polygon points="907.9,311.1 925.5,328.0 907.9,328.0" fill="#414493"/><polygon points="890.3,328.0 907.9,344.9 907.9,328.0" fill="#38396f"/><polygon points="907.9,344.9 925.5,328.0 907.9,328.0" fill="#353775"/><polygon points="890.3,328.0 907.9,311.1 925.5,328.0 907.9,344.9" fill="none" stroke="#1f1f80" stroke-width="1.5" stroke-linejoin="round"/><polygon points="810.0,367.4 827.6,350.5 845.2,367.4 827.6,384.3" fill="#3f407f"/><polygon points="810.0,367.4 827.6,350.5 827.6,367.4" fill="#4b4e8c"/><polygon points="827.6,350.5 845.2,367.4 827.6,367.4" fill="#414493"/><polygon points="810.0,367.4 827.6,384.3 827.6,367.4" fill="#38396f"/><polygon points="827.6,384.3 845.2,367.4 827.6,367.4" fill="#353775"/><polygon points="810.0,367.4 827.6,350.5 845.2,367.4 827.6,384.3" fill="none" stroke="#1f1f80" stroke-width="1.5" stroke-linejoin="round"/><polygon points="850.1,367.4 867.8,350.5 885.4,367.4 867.8,384.3" fill="#3f407f"/><polygon points="850.1,367.4 867.8,350.5 867.8,367.4" fill="#4b4e8c"/><polygon points="867.8,350.5 885.4,367.4 867.8,367.4" fill="#414493"/><polygon points="850.1,367.4 867.8,384.3 867.8,367.4" fill="#38396f"/><polygon points="867.8,384.3 885.4,367.4 867.8,367.4" fill="#353775"/><polygon points="850.1,367.4 867.8,350.5 885.4,367.4 867.8,384.3" fill="none" stroke="#1f1f80" stroke-width="1.5" stroke-linejoin="round"/><polygon points="890.3,367.4 907.9,350.5 925.5,367.4 907.9,384.3" fill="#3f407f"/><polygon points="890.3,367.4 907.9,350.5 907.9,367.4" fill="#4b4e8c"/><polygon points="907.9,350.5 925.5,367.4 907.9,367.4" fill="#414493"/><polygon points="890.3,367.4 907.9,384.3 907.9,367.4" fill="#38396f"/><polygon points="907.9,384.3 925.5,367.4 907.9,367.4" fill="#353775"/><polygon points="890.3,367.4 907.9,350.5 925.5,367.4 907.9,384.3" fill="none" stroke="#1f1f80" stroke-width="1.5" stroke-linejoin="round"/><circle cx="807.5" cy="288.6" r="3.1" fill="url(#gO)"/><circle cx="807.5" cy="328.0" r="3.1" fill="url(#gO)"/><circle cx="807.5" cy="367.4" r="3.1" fill="url(#gO)"/><circle cx="827.6" cy="268.9" r="3.1" fill="url(#gO)"/><circle cx="827.6" cy="288.6" r="3.1" fill="url(#gO)"/><circle cx="827.6" cy="308.3" r="3.1" fill="url(#gO)"/><circle cx="827.6" cy="328.0" r="3.1" fill="url(#gO)"/><circle cx="827.6" cy="347.7" r="3.1" fill="url(#gO)"/><circle cx="827.6" cy="367.4" r="3.1" fill="url(#gO)"/><circle cx="827.6" cy="387.1" r="3.1" fill="url(#gO)"/><circle cx="847.7" cy="288.6" r="3.1" fill="url(#gO)"/><circle cx="847.7" cy="328.0" r="3.1" fill="url(#gO)"/><circle cx="847.7" cy="367.4" r="3.1" fill="url(#gO)"/><circle cx="867.8" cy="268.9" r="3.1" fill="url(#gO)"/><circle cx="867.8" cy="288.6" r="3.1" fill="url(#gO)"/><circle cx="867.8" cy="308.3" r="3.1" fill="url(#gO)"/><circle cx="867.8" cy="328.0" r="3.1" fill="url(#gO)"/><circle cx="867.8" cy="347.7" r="3.1" fill="url(#gO)"/><circle cx="867.8" cy="367.4" r="3.1" fill="url(#gO)"/><circle cx="867.8" cy="387.1" r="3.1" fill="url(#gO)"/><circle cx="887.8" cy="288.6" r="3.1" fill="url(#gO)"/><circle cx="887.8" cy="328.0" r="3.1" fill="url(#gO)"/><circle cx="887.8" cy="367.4" r="3.1" fill="url(#gO)"/><circle cx="907.9" cy="268.9" r="3.1" fill="url(#gO)"/><circle cx="907.9" cy="288.6" r="3.1" fill="url(#gO)"/><circle cx="907.9" cy="308.3" r="3.1" fill="url(#gO)"/><circle cx="907.9" cy="328.0" r="3.1" fill="url(#gO)"/><circle cx="907.9" cy="347.7" r="3.1" fill="url(#gO)"/><circle cx="907.9" cy="367.4" r="3.1" fill="url(#gO)"/><circle cx="907.9" cy="387.1" r="3.1" fill="url(#gO)"/><circle cx="928.0" cy="288.6" r="3.1" fill="url(#gO)"/><circle cx="928.0" cy="328.0" r="3.1" fill="url(#gO)"/><circle cx="928.0" cy="367.4" r="3.1" fill="url(#gO)"/><circle cx="845.9" cy="307.9" r="4.4" fill="url(#gY)"/><circle cx="886.0" cy="307.9" r="4.4" fill="url(#gY)"/><circle cx="926.2" cy="307.9" r="4.4" fill="url(#gY)"/><circle cx="845.9" cy="347.3" r="4.4" fill="url(#gY)"/><circle cx="886.0" cy="347.3" r="4.4" fill="url(#gY)"/><circle cx="926.2" cy="347.3" r="4.4" fill="url(#gY)"/><circle cx="845.9" cy="386.7" r="4.4" fill="url(#gY)"/><circle cx="886.0" cy="386.7" r="4.4" fill="url(#gY)"/><circle cx="926.2" cy="386.7" r="4.4" fill="url(#gY)"/></g>
<g filter="url(#b3)"><polygon points="633.4,475.4 651.0,458.5 668.6,475.4 651.0,492.3" fill="#3f407f"/><polygon points="633.4,475.4 651.0,458.5 651.0,475.4" fill="#4b4e8c"/><polygon points="651.0,458.5 668.6,475.4 651.0,475.4" fill="#414493"/><polygon points="633.4,475.4 651.0,492.3 651.0,475.4" fill="#38396f"/><polygon points="651.0,492.3 668.6,475.4 651.0,475.4" fill="#353775"/><polygon points="633.4,475.4 651.0,458.5 668.6,475.4 651.0,492.3" fill="none" stroke="#1f1f80" stroke-width="1.5" stroke-linejoin="round"/><polygon points="673.2,475.4 690.8,458.5 708.4,475.4 690.8,492.3" fill="#3f407f"/><polygon points="673.2,475.4 690.8,458.5 690.8,475.4" fill="#4b4e8c"/><polygon points="690.8,458.5 708.4,475.4 690.8,475.4" fill="#414493"/><polygon points="673.2,475.4 690.8,492.3 690.8,475.4" fill="#38396f"/><polygon points="690.8,492.3 708.4,475.4 690.8,475.4" fill="#353775"/><polygon points="673.2,475.4 690.8,458.5 708.4,475.4 690.8,492.3" fill="none" stroke="#1f1f80" stroke-width="1.5" stroke-linejoin="round"/><polygon points="713.0,475.4 730.6,458.5 748.2,475.4 730.6,492.3" fill="#3f407f"/><polygon points="713.0,475.4 730.6,458.5 730.6,475.4" fill="#4b4e8c"/><polygon points="730.6,458.5 748.2,475.4 730.6,475.4" fill="#414493"/><polygon points="713.0,475.4 730.6,492.3 730.6,475.4" fill="#38396f"/><polygon points="730.6,492.3 748.2,475.4 730.6,475.4" fill="#353775"/><polygon points="713.0,475.4 730.6,458.5 748.2,475.4 730.6,492.3" fill="none" stroke="#1f1f80" stroke-width="1.5" stroke-linejoin="round"/><polygon points="633.4,514.4 651.0,497.5 668.6,514.4 651.0,531.2" fill="#3f407f"/><polygon points="633.4,514.4 651.0,497.5 651.0,514.4" fill="#4b4e8c"/><polygon points="651.0,497.5 668.6,514.4 651.0,514.4" fill="#414493"/><polygon points="633.4,514.4 651.0,531.2 651.0,514.4" fill="#38396f"/><polygon points="651.0,531.2 668.6,514.4 651.0,514.4" fill="#353775"/><polygon points="633.4,514.4 651.0,497.5 668.6,514.4 651.0,531.2" fill="none" stroke="#1f1f80" stroke-width="1.5" stroke-linejoin="round"/><polygon points="673.2,514.4 690.8,497.5 708.4,514.4 690.8,531.2" fill="#3f407f"/><polygon points="673.2,514.4 690.8,497.5 690.8,514.4" fill="#4b4e8c"/><polygon points="690.8,497.5 708.4,514.4 690.8,514.4" fill="#414493"/><polygon points="673.2,514.4 690.8,531.2 690.8,514.4" fill="#38396f"/><polygon points="690.8,531.2 708.4,514.4 690.8,514.4" fill="#353775"/><polygon points="673.2,514.4 690.8,497.5 708.4,514.4 690.8,531.2" fill="none" stroke="#1f1f80" stroke-width="1.5" stroke-linejoin="round"/><polygon points="713.0,514.4 730.6,497.5 748.2,514.4 730.6,531.2" fill="#3f407f"/><polygon points="713.0,514.4 730.6,497.5 730.6,514.4" fill="#4b4e8c"/><polygon points="730.6,497.5 748.2,514.4 730.6,514.4" fill="#414493"/><polygon points="713.0,514.4 730.6,531.2 730.6,514.4" fill="#38396f"/><polygon points="730.6,531.2 748.2,514.4 730.6,514.4" fill="#353775"/><polygon points="713.0,514.4 730.6,497.5 748.2,514.4 730.6,531.2" fill="none" stroke="#1f1f80" stroke-width="1.5" stroke-linejoin="round"/><polygon points="633.4,553.3 651.0,536.4 668.6,553.3 651.0,570.2" fill="#3f407f"/><polygon points="633.4,553.3 651.0,536.4 651.0,553.3" fill="#4b4e8c"/><polygon points="651.0,536.4 668.6,553.3 651.0,553.3" fill="#414493"/><polygon points="633.4,553.3 651.0,570.2 651.0,553.3" fill="#38396f"/><polygon points="651.0,570.2 668.6,553.3 651.0,553.3" fill="#353775"/><polygon points="633.4,553.3 651.0,536.4 668.6,553.3 651.0,570.2" fill="none" stroke="#1f1f80" stroke-width="1.5" stroke-linejoin="round"/><polygon points="673.2,553.3 690.8,536.4 708.4,553.3 690.8,570.2" fill="#3f407f"/><polygon points="673.2,553.3 690.8,536.4 690.8,553.3" fill="#4b4e8c"/><polygon points="690.8,536.4 708.4,553.3 690.8,553.3" fill="#414493"/><polygon points="673.2,553.3 690.8,570.2 690.8,553.3" fill="#38396f"/><polygon points="690.8,570.2 708.4,553.3 690.8,553.3" fill="#353775"/><polygon points="673.2,553.3 690.8,536.4 708.4,553.3 690.8,570.2" fill="none" stroke="#1f1f80" stroke-width="1.5" stroke-linejoin="round"/><polygon points="713.0,553.3 730.6,536.4 748.2,553.3 730.6,570.2" fill="#3f407f"/><polygon points="713.0,553.3 730.6,536.4 730.6,553.3" fill="#4b4e8c"/><polygon points="730.6,536.4 748.2,553.3 730.6,553.3" fill="#414493"/><polygon points="713.0,553.3 730.6,570.2 730.6,553.3" fill="#38396f"/><polygon points="730.6,570.2 748.2,553.3 730.6,553.3" fill="#353775"/><polygon points="713.0,553.3 730.6,536.4 748.2,553.3 730.6,570.2" fill="none" stroke="#1f1f80" stroke-width="1.5" stroke-linejoin="round"/><circle cx="631.1" cy="475.4" r="3.1" fill="url(#gO)"/><circle cx="631.1" cy="514.4" r="3.1" fill="url(#gO)"/><circle cx="631.1" cy="553.3" r="3.1" fill="url(#gO)"/><circle cx="651.0" cy="455.9" r="3.1" fill="url(#gO)"/><circle cx="651.0" cy="475.4" r="3.1" fill="url(#gO)"/><circle cx="651.0" cy="494.9" r="3.1" fill="url(#gO)"/><circle cx="651.0" cy="514.4" r="3.1" fill="url(#gO)"/><circle cx="651.0" cy="533.8" r="3.1" fill="url(#gO)"/><circle cx="651.0" cy="553.3" r="3.1" fill="url(#gO)"/><circle cx="651.0" cy="572.8" r="3.1" fill="url(#gO)"/><circle cx="670.9" cy="475.4" r="3.1" fill="url(#gO)"/><circle cx="670.9" cy="514.4" r="3.1" fill="url(#gO)"/><circle cx="670.9" cy="553.3" r="3.1" fill="url(#gO)"/><circle cx="690.8" cy="455.9" r="3.1" fill="url(#gO)"/><circle cx="690.8" cy="475.4" r="3.1" fill="url(#gO)"/><circle cx="690.8" cy="494.9" r="3.1" fill="url(#gO)"/><circle cx="690.8" cy="514.4" r="3.1" fill="url(#gO)"/><circle cx="690.8" cy="533.8" r="3.1" fill="url(#gO)"/><circle cx="690.8" cy="553.3" r="3.1" fill="url(#gO)"/><circle cx="690.8" cy="572.8" r="3.1" fill="url(#gO)"/><circle cx="710.7" cy="475.4" r="3.1" fill="url(#gO)"/><circle cx="710.7" cy="514.4" r="3.1" fill="url(#gO)"/><circle cx="710.7" cy="553.3" r="3.1" fill="url(#gO)"/><circle cx="730.6" cy="455.9" r="3.1" fill="url(#gO)"/><circle cx="730.6" cy="475.4" r="3.1" fill="url(#gO)"/><circle cx="730.6" cy="494.9" r="3.1" fill="url(#gO)"/><circle cx="730.6" cy="514.4" r="3.1" fill="url(#gO)"/><circle cx="730.6" cy="533.8" r="3.1" fill="url(#gO)"/><circle cx="730.6" cy="553.3" r="3.1" fill="url(#gO)"/><circle cx="730.6" cy="572.8" r="3.1" fill="url(#gO)"/><circle cx="750.5" cy="475.4" r="3.1" fill="url(#gO)"/><circle cx="750.5" cy="514.4" r="3.1" fill="url(#gO)"/><circle cx="750.5" cy="553.3" r="3.1" fill="url(#gO)"/><circle cx="669.3" cy="494.7" r="4.4" fill="url(#gY)"/><circle cx="709.1" cy="494.7" r="4.4" fill="url(#gY)"/><circle cx="748.9" cy="494.7" r="4.4" fill="url(#gY)"/><circle cx="669.3" cy="533.6" r="4.4" fill="url(#gY)"/><circle cx="709.1" cy="533.6" r="4.4" fill="url(#gY)"/><circle cx="748.9" cy="533.6" r="4.4" fill="url(#gY)"/><circle cx="669.3" cy="572.6" r="4.4" fill="url(#gY)"/><circle cx="709.1" cy="572.6" r="4.4" fill="url(#gY)"/><circle cx="748.9" cy="572.6" r="4.4" fill="url(#gY)"/></g>
<g filter="url(#b3)"><polygon points="810.2,475.3 827.8,458.4 845.4,475.3 827.8,492.2" fill="#3f407f"/><polygon points="810.2,475.3 827.8,458.4 827.8,475.3" fill="#4b4e8c"/><polygon points="827.8,458.4 845.4,475.3 827.8,475.3" fill="#414493"/><polygon points="810.2,475.3 827.8,492.2 827.8,475.3" fill="#38396f"/><polygon points="827.8,492.2 845.4,475.3 827.8,475.3" fill="#353775"/><polygon points="810.2,475.3 827.8,458.4 845.4,475.3 827.8,492.2" fill="none" stroke="#1f1f80" stroke-width="1.5" stroke-linejoin="round"/><polygon points="849.9,475.3 867.5,458.4 885.1,475.3 867.5,492.2" fill="#3f407f"/><polygon points="849.9,475.3 867.5,458.4 867.5,475.3" fill="#4b4e8c"/><polygon points="867.5,458.4 885.1,475.3 867.5,475.3" fill="#414493"/><polygon points="849.9,475.3 867.5,492.2 867.5,475.3" fill="#38396f"/><polygon points="867.5,492.2 885.1,475.3 867.5,475.3" fill="#353775"/><polygon points="849.9,475.3 867.5,458.4 885.1,475.3 867.5,492.2" fill="none" stroke="#1f1f80" stroke-width="1.5" stroke-linejoin="round"/><polygon points="889.7,475.3 907.3,458.4 924.9,475.3 907.3,492.2" fill="#3f407f"/><polygon points="889.7,475.3 907.3,458.4 907.3,475.3" fill="#4b4e8c"/><polygon points="907.3,458.4 924.9,475.3 907.3,475.3" fill="#414493"/><polygon points="889.7,475.3 907.3,492.2 907.3,475.3" fill="#38396f"/><polygon points="907.3,492.2 924.9,475.3 907.3,475.3" fill="#353775"/><polygon points="889.7,475.3 907.3,458.4 924.9,475.3 907.3,492.2" fill="none" stroke="#1f1f80" stroke-width="1.5" stroke-linejoin="round"/><polygon points="810.2,514.3 827.8,497.4 845.4,514.3 827.8,531.2" fill="#3f407f"/><polygon points="810.2,514.3 827.8,497.4 827.8,514.3" fill="#4b4e8c"/><polygon points="827.8,497.4 845.4,514.3 827.8,514.3" fill="#414493"/><polygon points="810.2,514.3 827.8,531.2 827.8,514.3" fill="#38396f"/><polygon points="827.8,531.2 845.4,514.3 827.8,514.3" fill="#353775"/><polygon points="810.2,514.3 827.8,497.4 845.4,514.3 827.8,531.2" fill="none" stroke="#1f1f80" stroke-width="1.5" stroke-linejoin="round"/><polygon points="849.9,514.3 867.5,497.4 885.1,514.3 867.5,531.2" fill="#3f407f"/><polygon points="849.9,514.3 867.5,497.4 867.5,514.3" fill="#4b4e8c"/><polygon points="867.5,497.4 885.1,514.3 867.5,514.3" fill="#414493"/><polygon points="849.9,514.3 867.5,531.2 867.5,514.3" fill="#38396f"/><polygon points="867.5,531.2 885.1,514.3 867.5,514.3" fill="#353775"/><polygon points="849.9,514.3 867.5,497.4 885.1,514.3 867.5,531.2" fill="none" stroke="#1f1f80" stroke-width="1.5" stroke-linejoin="round"/><polygon points="889.7,514.3 907.3,497.4 924.9,514.3 907.3,531.2" fill="#3f407f"/><polygon points="889.7,514.3 907.3,497.4 907.3,514.3" fill="#4b4e8c"/><polygon points="907.3,497.4 924.9,514.3 907.3,514.3" fill="#414493"/><polygon points="889.7,514.3 907.3,531.2 907.3,514.3" fill="#38396f"/><polygon points="907.3,531.2 924.9,514.3 907.3,514.3" fill="#353775"/><polygon points="889.7,514.3 907.3,497.4 924.9,514.3 907.3,531.2" fill="none" stroke="#1f1f80" stroke-width="1.5" stroke-linejoin="round"/><polygon points="810.2,553.3 827.8,536.4 845.4,553.3 827.8,570.2" fill="#3f407f"/><polygon points="810.2,553.3 827.8,536.4 827.8,553.3" fill="#4b4e8c"/><polygon points="827.8,536.4 845.4,553.3 827.8,553.3" fill="#414493"/><polygon points="810.2,553.3 827.8,570.2 827.8,553.3" fill="#38396f"/><polygon points="827.8,570.2 845.4,553.3 827.8,553.3" fill="#353775"/><polygon points="810.2,553.3 827.8,536.4 845.4,553.3 827.8,570.2" fill="none" stroke="#1f1f80" stroke-width="1.5" stroke-linejoin="round"/><polygon points="849.9,553.3 867.5,536.4 885.1,553.3 867.5,570.2" fill="#3f407f"/><polygon points="849.9,553.3 867.5,536.4 867.5,553.3" fill="#4b4e8c"/><polygon points="867.5,536.4 885.1,553.3 867.5,553.3" fill="#414493"/><polygon points="849.9,553.3 867.5,570.2 867.5,553.3" fill="#38396f"/><polygon points="867.5,570.2 885.1,553.3 867.5,553.3" fill="#353775"/><polygon points="849.9,553.3 867.5,536.4 885.1,553.3 867.5,570.2" fill="none" stroke="#1f1f80" stroke-width="1.5" stroke-linejoin="round"/><polygon points="889.7,553.3 907.3,536.4 924.9,553.3 907.3,570.2" fill="#3f407f"/><polygon points="889.7,553.3 907.3,536.4 907.3,553.3" fill="#4b4e8c"/><polygon points="907.3,536.4 924.9,553.3 907.3,553.3" fill="#414493"/><polygon points="889.7,553.3 907.3,570.2 907.3,553.3" fill="#38396f"/><polygon points="907.3,570.2 924.9,553.3 907.3,553.3" fill="#353775"/><polygon points="889.7,553.3 907.3,536.4 924.9,553.3 907.3,570.2" fill="none" stroke="#1f1f80" stroke-width="1.5" stroke-linejoin="round"/><circle cx="807.9" cy="475.3" r="3.1" fill="url(#gO)"/><circle cx="807.9" cy="514.3" r="3.1" fill="url(#gO)"/><circle cx="807.9" cy="553.3" r="3.1" fill="url(#gO)"/><circle cx="827.8" cy="455.8" r="3.1" fill="url(#gO)"/><circle cx="827.8" cy="475.3" r="3.1" fill="url(#gO)"/><circle cx="827.8" cy="494.8" r="3.1" fill="url(#gO)"/><circle cx="827.8" cy="514.3" r="3.1" fill="url(#gO)"/><circle cx="827.8" cy="533.8" r="3.1" fill="url(#gO)"/><circle cx="827.8" cy="553.3" r="3.1" fill="url(#gO)"/><circle cx="827.8" cy="572.8" r="3.1" fill="url(#gO)"/><circle cx="847.7" cy="475.3" r="3.1" fill="url(#gO)"/><circle cx="847.7" cy="514.3" r="3.1" fill="url(#gO)"/><circle cx="847.7" cy="553.3" r="3.1" fill="url(#gO)"/><circle cx="867.5" cy="455.8" r="3.1" fill="url(#gO)"/><circle cx="867.5" cy="475.3" r="3.1" fill="url(#gO)"/><circle cx="867.5" cy="494.8" r="3.1" fill="url(#gO)"/><circle cx="867.5" cy="514.3" r="3.1" fill="url(#gO)"/><circle cx="867.5" cy="533.8" r="3.1" fill="url(#gO)"/><circle cx="867.5" cy="553.3" r="3.1" fill="url(#gO)"/><circle cx="867.5" cy="572.8" r="3.1" fill="url(#gO)"/><circle cx="887.4" cy="475.3" r="3.1" fill="url(#gO)"/><circle cx="887.4" cy="514.3" r="3.1" fill="url(#gO)"/><circle cx="887.4" cy="553.3" r="3.1" fill="url(#gO)"/><circle cx="907.3" cy="455.8" r="3.1" fill="url(#gO)"/><circle cx="907.3" cy="475.3" r="3.1" fill="url(#gO)"/><circle cx="907.3" cy="494.8" r="3.1" fill="url(#gO)"/><circle cx="907.3" cy="514.3" r="3.1" fill="url(#gO)"/><circle cx="907.3" cy="533.8" r="3.1" fill="url(#gO)"/><circle cx="907.3" cy="553.3" r="3.1" fill="url(#gO)"/><circle cx="907.3" cy="572.8" r="3.1" fill="url(#gO)"/><circle cx="927.2" cy="475.3" r="3.1" fill="url(#gO)"/><circle cx="927.2" cy="514.3" r="3.1" fill="url(#gO)"/><circle cx="927.2" cy="553.3" r="3.1" fill="url(#gO)"/><circle cx="846.1" cy="494.6" r="4.4" fill="url(#gY)"/><circle cx="885.8" cy="494.6" r="4.4" fill="url(#gY)"/><circle cx="925.6" cy="494.6" r="4.4" fill="url(#gY)"/><circle cx="846.1" cy="533.6" r="4.4" fill="url(#gY)"/><circle cx="885.8" cy="533.6" r="4.4" fill="url(#gY)"/><circle cx="925.6" cy="533.6" r="4.4" fill="url(#gY)"/><circle cx="846.1" cy="572.6" r="4.4" fill="url(#gY)"/><circle cx="885.8" cy="572.6" r="4.4" fill="url(#gY)"/><circle cx="925.6" cy="572.6" r="4.4" fill="url(#gY)"/></g>
<!-- panel d legend -->
<rect x="67.1" y="258.2" width="88.5" height="308.9" fill="#fff" stroke="#777" stroke-width="1.2"/>
<g font-family="'Liberation Sans', Arial, sans-serif" fill="#111">
<text x="40.8" y="255" font-size="23" font-weight="700" stroke="#111" stroke-width="0.5">d</text>
<text x="90.5" y="332.5" font-size="13" font-weight="700">ATU</text>
<text x="84.5" y="435.3" font-size="13.4" font-weight="700">EDMA</text>
<text x="104" y="453.3" font-size="13" font-weight="700">I<tspan font-size="7" dy="-6">-</tspan></text>
<text x="97.5" y="472.6" font-size="13" font-weight="700">Sn<tspan font-size="8" dy="-5">2+</tspan></text>
<text x="97.5" y="492.3" font-size="13" font-weight="700">FA<tspan font-size="8" dy="-5">+</tspan><tspan dy="5">/MA</tspan><tspan font-size="8" dy="-5">+</tspan></text>
<text x="71.5" y="544" font-size="13" font-weight="700" textLength="82" lengthAdjust="spacingAndGlyphs">Cross-linked</text>
<text x="71.5" y="560.5" font-size="13" font-weight="700">polymer</text>
<text x="168.5" y="410" font-size="16.5">Spin-</text>
<text x="168.5" y="427.5" font-size="16.5">coating</text>
<text x="545.2" y="411.3" font-size="15.5" font-weight="700">Annealing</text>
<text x="559" y="429.8" font-size="15.5" font-weight="700">100 °C</text>
</g>
<g filter="url(#b3)">
<circle cx="86.5" cy="449" r="4" fill="url(#gO)"/>
<circle cx="87" cy="468.6" r="4" fill="url(#gSn)"/>
<circle cx="88.2" cy="488.8" r="5.4" fill="url(#gY)"/>
</g>
<line x1="166" y1="436" x2="225.5" y2="436" stroke="#111" stroke-width="1.6"/><polygon points="229.5,436 222.5,432 222.5,440" fill="#111"/>
<line x1="545.6" y1="437.8" x2="605.8" y2="437.8" stroke="#111" stroke-width="1.6"/><polygon points="609.8,437.8 602.8,433.8 602.8,441.8" fill="#111"/>
<!-- panel d molecules -->
<g filter="url(#b3)"><g stroke-width="1.5" stroke-linecap="round"><line x1="101.8" y1="270.0" x2="104.3" y2="273.4" stroke="#3a3af0"/><line x1="104.3" y1="273.4" x2="106.9" y2="276.8" stroke="#4a4a4a"/><line x1="105.0" y1="265.0" x2="103.4" y2="267.5" stroke="#c4c4c4"/><line x1="103.4" y1="267.5" x2="101.8" y2="270.0" stroke="#3a3af0"/><line x1="95.9" y1="270.9" x2="98.8" y2="270.4" stroke="#c4c4c4"/><line x1="98.8" y1="270.4" x2="101.8" y2="270.0" stroke="#3a3af0"/><line x1="106.9" y1="276.8" x2="112.1" y2="276.8" stroke="#4a4a4a"/><line x1="112.1" y1="276.8" x2="117.3" y2="276.8" stroke="#c8a030"/><line x1="106.9" y1="276.8" x2="105.1" y2="280.8" stroke="#4a4a4a"/><line x1="105.1" y1="280.8" x2="103.2" y2="284.7" stroke="#3a3af0"/><line x1="103.2" y1="284.7" x2="105.7" y2="288.5" stroke="#3a3af0"/><line x1="105.7" y1="288.5" x2="108.2" y2="292.3" stroke="#4a4a4a"/><line x1="97.3" y1="284.7" x2="100.2" y2="284.7" stroke="#c4c4c4"/><line x1="100.2" y1="284.7" x2="103.2" y2="284.7" stroke="#3a3af0"/><line x1="108.2" y1="292.3" x2="105.0" y2="296.0" stroke="#4a4a4a"/><line x1="105.0" y1="296.0" x2="101.8" y2="299.6" stroke="#4a4a4a"/><line x1="113.0" y1="293.0" x2="110.6" y2="292.6" stroke="#c4c4c4"/><line x1="110.6" y1="292.6" x2="108.2" y2="292.3" stroke="#4a4a4a"/><line x1="101.8" y1="299.6" x2="103.7" y2="303.5" stroke="#4a4a4a"/><line x1="103.7" y1="303.5" x2="105.5" y2="307.3" stroke="#4a4a4a"/><line x1="94.6" y1="299.1" x2="98.2" y2="299.4" stroke="#c4c4c4"/><line x1="98.2" y1="299.4" x2="101.8" y2="299.6" stroke="#4a4a4a"/><line x1="112.3" y1="308.7" x2="108.9" y2="308.0" stroke="#c4c4c4"/><line x1="108.9" y1="308.0" x2="105.5" y2="307.3" stroke="#4a4a4a"/><line x1="100.9" y1="313.2" x2="103.2" y2="310.2" stroke="#c4c4c4"/><line x1="103.2" y1="310.2" x2="105.5" y2="307.3" stroke="#4a4a4a"/></g><circle cx="101.8" cy="270.0" r="2.3" fill="#1212e6"/><circle cx="105.0" cy="265.0" r="1.05" fill="#8a8a8a"/><circle cx="95.9" cy="270.9" r="1.05" fill="#8a8a8a"/><circle cx="106.9" cy="276.8" r="2.1" fill="#2e2e2e"/><circle cx="117.3" cy="276.8" r="2.9" fill="#c29212"/><circle cx="103.2" cy="284.7" r="2.3" fill="#1212e6"/><circle cx="97.3" cy="284.7" r="1.05" fill="#8a8a8a"/><circle cx="108.2" cy="292.3" r="2.1" fill="#2e2e2e"/><circle cx="113.0" cy="293.0" r="1.05" fill="#8a8a8a"/><circle cx="101.8" cy="299.6" r="2.1" fill="#2e2e2e"/><circle cx="94.6" cy="299.1" r="1.05" fill="#8a8a8a"/><circle cx="105.5" cy="307.3" r="2.1" fill="#2e2e2e"/><circle cx="112.3" cy="308.7" r="1.05" fill="#8a8a8a"/><circle cx="100.9" cy="313.2" r="1.05" fill="#8a8a8a"/></g>
<g filter="url(#b3)"><g stroke-width="1.5" stroke-linecap="round"><line x1="102.8" y1="349.3" x2="105.2" y2="353.0" stroke="#4a4a4a"/><line x1="105.2" y1="353.0" x2="107.5" y2="356.6" stroke="#4a4a4a"/><line x1="106.6" y1="344.3" x2="104.7" y2="346.8" stroke="#c4c4c4"/><line x1="104.7" y1="346.8" x2="102.8" y2="349.3" stroke="#4a4a4a"/><line x1="98.0" y1="349.3" x2="100.4" y2="349.3" stroke="#c4c4c4"/><line x1="100.4" y1="349.3" x2="102.8" y2="349.3" stroke="#4a4a4a"/><line x1="107.5" y1="356.6" x2="111.6" y2="356.4" stroke="#4a4a4a"/><line x1="111.6" y1="356.4" x2="115.7" y2="356.2" stroke="#4a4a4a"/><line x1="107.5" y1="356.6" x2="105.5" y2="360.3" stroke="#4a4a4a"/><line x1="105.5" y1="360.3" x2="103.4" y2="364.0" stroke="#4a4a4a"/><line x1="118.0" y1="350.3" x2="116.8" y2="353.2" stroke="#c4c4c4"/><line x1="116.8" y1="353.2" x2="115.7" y2="356.2" stroke="#4a4a4a"/><line x1="119.1" y1="361.0" x2="117.4" y2="358.6" stroke="#c4c4c4"/><line x1="117.4" y1="358.6" x2="115.7" y2="356.2" stroke="#4a4a4a"/><line x1="103.4" y1="364.0" x2="100.3" y2="364.2" stroke="#4a4a4a"/><line x1="100.3" y1="364.2" x2="97.3" y2="364.4" stroke="#f03030"/><line x1="103.4" y1="364.0" x2="106.0" y2="367.4" stroke="#4a4a4a"/><line x1="106.0" y1="367.4" x2="108.6" y2="370.8" stroke="#f03030"/><line x1="108.6" y1="370.8" x2="106.0" y2="374.1" stroke="#f03030"/><line x1="106.0" y1="374.1" x2="103.4" y2="377.3" stroke="#4a4a4a"/><line x1="103.4" y1="377.3" x2="106.2" y2="381.1" stroke="#4a4a4a"/><line x1="106.2" y1="381.1" x2="108.9" y2="384.8" stroke="#4a4a4a"/><line x1="98.9" y1="377.3" x2="101.2" y2="377.3" stroke="#c4c4c4"/><line x1="101.2" y1="377.3" x2="103.4" y2="377.3" stroke="#4a4a4a"/><line x1="108.9" y1="384.8" x2="106.4" y2="388.0" stroke="#4a4a4a"/><line x1="106.4" y1="388.0" x2="103.9" y2="391.2" stroke="#f03030"/><line x1="112.6" y1="383.0" x2="110.8" y2="383.9" stroke="#c4c4c4"/><line x1="110.8" y1="383.9" x2="108.9" y2="384.8" stroke="#4a4a4a"/><line x1="103.9" y1="391.2" x2="106.1" y2="394.5" stroke="#f03030"/><line x1="106.1" y1="394.5" x2="108.2" y2="397.8" stroke="#4a4a4a"/><line x1="108.2" y1="397.8" x2="111.6" y2="397.8" stroke="#4a4a4a"/><line x1="111.6" y1="397.8" x2="115.0" y2="397.8" stroke="#f03030"/><line x1="108.2" y1="397.8" x2="105.8" y2="401.6" stroke="#4a4a4a"/><line x1="105.8" y1="401.6" x2="103.4" y2="405.3" stroke="#4a4a4a"/><line x1="103.4" y1="405.3" x2="99.3" y2="405.5" stroke="#4a4a4a"/><line x1="99.3" y1="405.5" x2="95.3" y2="405.7" stroke="#4a4a4a"/><line x1="103.4" y1="405.3" x2="106.2" y2="408.4" stroke="#4a4a4a"/><line x1="106.2" y1="408.4" x2="108.9" y2="411.5" stroke="#4a4a4a"/><line x1="92.1" y1="400.3" x2="93.7" y2="403.0" stroke="#c4c4c4"/><line x1="93.7" y1="403.0" x2="95.3" y2="405.7" stroke="#4a4a4a"/><line x1="92.5" y1="409.4" x2="93.9" y2="407.5" stroke="#c4c4c4"/><line x1="93.9" y1="407.5" x2="95.3" y2="405.7" stroke="#4a4a4a"/><line x1="114.4" y1="410.8" x2="111.7" y2="411.1" stroke="#c4c4c4"/><line x1="111.7" y1="411.1" x2="108.9" y2="411.5" stroke="#4a4a4a"/><line x1="105.8" y1="417.2" x2="107.3" y2="414.4" stroke="#c4c4c4"/><line x1="107.3" y1="414.4" x2="108.9" y2="411.5" stroke="#4a4a4a"/></g><circle cx="102.8" cy="349.3" r="2.1" fill="#2e2e2e"/><circle cx="106.6" cy="344.3" r="1.05" fill="#8a8a8a"/><circle cx="98.0" cy="349.3" r="1.05" fill="#8a8a8a"/><circle cx="107.5" cy="356.6" r="2.1" fill="#2e2e2e"/><circle cx="115.7" cy="356.2" r="2.1" fill="#2e2e2e"/><circle cx="118.0" cy="350.3" r="1.05" fill="#8a8a8a"/><circle cx="119.1" cy="361.0" r="1.05" fill="#8a8a8a"/><circle cx="103.4" cy="364.0" r="2.1" fill="#2e2e2e"/><circle cx="97.3" cy="364.4" r="2.1" fill="#e60000"/><circle cx="108.6" cy="370.8" r="2.1" fill="#e60000"/><circle cx="103.4" cy="377.3" r="2.1" fill="#2e2e2e"/><circle cx="98.9" cy="377.3" r="1.05" fill="#8a8a8a"/><circle cx="108.9" cy="384.8" r="2.1" fill="#2e2e2e"/><circle cx="112.6" cy="383.0" r="1.05" fill="#8a8a8a"/><circle cx="103.9" cy="391.2" r="2.1" fill="#e60000"/><circle cx="108.2" cy="397.8" r="2.1" fill="#2e2e2e"/><circle cx="115.0" cy="397.8" r="2.1" fill="#e60000"/><circle cx="103.4" cy="405.3" r="2.1" fill="#2e2e2e"/><circle cx="95.3" cy="405.7" r="2.1" fill="#2e2e2e"/><circle cx="92.1" cy="400.3" r="1.05" fill="#8a8a8a"/><circle cx="92.5" cy="409.4" r="1.05" fill="#8a8a8a"/><circle cx="108.9" cy="411.5" r="2.1" fill="#2e2e2e"/><circle cx="114.4" cy="410.8" r="1.05" fill="#8a8a8a"/><circle cx="105.8" cy="417.2" r="1.05" fill="#8a8a8a"/></g>
<g filter="url(#b3)"><g stroke-width="1.5" stroke-linecap="round"><line x1="395.2" y1="267.5" x2="392.4" y2="271.5" stroke="#c4c4c4"/><line x1="392.4" y1="271.5" x2="389.5" y2="275.5" stroke="#4a4a4a"/><line x1="389.5" y1="275.5" x2="391.8" y2="280.0" stroke="#4a4a4a"/><line x1="391.8" y1="280.0" x2="394.1" y2="284.5" stroke="#4a4a4a"/><line x1="382.0" y1="273.2" x2="385.8" y2="274.4" stroke="#c4c4c4"/><line x1="385.8" y1="274.4" x2="389.5" y2="275.5" stroke="#4a4a4a"/><line x1="394.1" y1="284.5" x2="390.5" y2="289.3" stroke="#4a4a4a"/><line x1="390.5" y1="289.3" x2="386.8" y2="294.1" stroke="#4a4a4a"/><line x1="402.0" y1="285.7" x2="398.1" y2="285.1" stroke="#c4c4c4"/><line x1="398.1" y1="285.1" x2="394.1" y2="284.5" stroke="#4a4a4a"/><line x1="386.8" y1="294.1" x2="390.2" y2="298.8" stroke="#4a4a4a"/><line x1="390.2" y1="298.8" x2="393.6" y2="303.4" stroke="#3a3af0"/><line x1="380.5" y1="293.6" x2="383.6" y2="293.9" stroke="#c4c4c4"/><line x1="383.6" y1="293.9" x2="386.8" y2="294.1" stroke="#4a4a4a"/><line x1="393.6" y1="303.4" x2="390.6" y2="308.5" stroke="#3a3af0"/><line x1="390.6" y1="308.5" x2="387.7" y2="313.6" stroke="#4a4a4a"/><line x1="400.9" y1="303.4" x2="397.2" y2="303.4" stroke="#c4c4c4"/><line x1="397.2" y1="303.4" x2="393.6" y2="303.4" stroke="#3a3af0"/><line x1="387.7" y1="313.6" x2="381.6" y2="313.9" stroke="#4a4a4a"/><line x1="381.6" y1="313.9" x2="375.5" y2="314.1" stroke="#c8a030"/><line x1="387.7" y1="313.6" x2="390.9" y2="318.1" stroke="#4a4a4a"/><line x1="390.9" y1="318.1" x2="394.1" y2="322.5" stroke="#3a3af0"/><line x1="401.4" y1="322.0" x2="397.8" y2="322.2" stroke="#c4c4c4"/><line x1="397.8" y1="322.2" x2="394.1" y2="322.5" stroke="#3a3af0"/><line x1="390.7" y1="328.9" x2="392.4" y2="325.7" stroke="#c4c4c4"/><line x1="392.4" y1="325.7" x2="394.1" y2="322.5" stroke="#3a3af0"/></g><circle cx="395.2" cy="267.5" r="1.05" fill="#8a8a8a"/><circle cx="389.5" cy="275.5" r="2.1" fill="#2e2e2e"/><circle cx="382.0" cy="273.2" r="1.05" fill="#8a8a8a"/><circle cx="394.1" cy="284.5" r="2.1" fill="#2e2e2e"/><circle cx="402.0" cy="285.7" r="1.05" fill="#8a8a8a"/><circle cx="386.8" cy="294.1" r="2.1" fill="#2e2e2e"/><circle cx="380.5" cy="293.6" r="1.05" fill="#8a8a8a"/><circle cx="393.6" cy="303.4" r="2.3" fill="#1212e6"/><circle cx="400.9" cy="303.4" r="1.05" fill="#8a8a8a"/><circle cx="387.7" cy="313.6" r="2.1" fill="#2e2e2e"/><circle cx="375.5" cy="314.1" r="2.9" fill="#c29212"/><circle cx="394.1" cy="322.5" r="2.3" fill="#1212e6"/><circle cx="401.4" cy="322.0" r="1.05" fill="#8a8a8a"/><circle cx="390.7" cy="328.9" r="1.05" fill="#8a8a8a"/></g>
<g filter="url(#b3)"><g stroke-width="1.5" stroke-linecap="round"><line x1="375.9" y1="336.1" x2="376.1" y2="339.3" stroke="#c4c4c4"/><line x1="376.1" y1="339.3" x2="376.4" y2="342.5" stroke="#4a4a4a"/><line x1="391.4" y1="336.1" x2="391.6" y2="338.8" stroke="#c4c4c4"/><line x1="391.6" y1="338.8" x2="391.8" y2="341.4" stroke="#4a4a4a"/><line x1="376.4" y1="342.5" x2="380.1" y2="345.1" stroke="#4a4a4a"/><line x1="380.1" y1="345.1" x2="383.9" y2="347.7" stroke="#4a4a4a"/><line x1="370.9" y1="347.0" x2="373.6" y2="344.8" stroke="#c4c4c4"/><line x1="373.6" y1="344.8" x2="376.4" y2="342.5" stroke="#4a4a4a"/><line x1="391.8" y1="341.4" x2="387.9" y2="344.5" stroke="#4a4a4a"/><line x1="387.9" y1="344.5" x2="383.9" y2="347.7" stroke="#4a4a4a"/><line x1="396.8" y1="345.9" x2="394.3" y2="343.6" stroke="#c4c4c4"/><line x1="394.3" y1="343.6" x2="391.8" y2="341.4" stroke="#4a4a4a"/><line x1="383.9" y1="347.7" x2="383.6" y2="351.7" stroke="#4a4a4a"/><line x1="383.6" y1="351.7" x2="383.4" y2="355.7" stroke="#4a4a4a"/><line x1="383.4" y1="355.7" x2="379.9" y2="357.6" stroke="#4a4a4a"/><line x1="379.9" y1="357.6" x2="376.4" y2="359.5" stroke="#f03030"/><line x1="383.4" y1="355.7" x2="387.0" y2="357.6" stroke="#4a4a4a"/><line x1="387.0" y1="357.6" x2="390.7" y2="359.5" stroke="#f03030"/><line x1="390.7" y1="359.5" x2="389.9" y2="363.5" stroke="#f03030"/><line x1="389.9" y1="363.5" x2="389.1" y2="367.5" stroke="#4a4a4a"/><line x1="389.1" y1="367.5" x2="394.1" y2="369.8" stroke="#4a4a4a"/><line x1="394.1" y1="369.8" x2="399.1" y2="372.0" stroke="#4a4a4a"/><line x1="386.0" y1="371.0" x2="387.6" y2="369.2" stroke="#c4c4c4"/><line x1="387.6" y1="369.2" x2="389.1" y2="367.5" stroke="#4a4a4a"/><line x1="399.1" y1="372.0" x2="397.1" y2="376.4" stroke="#4a4a4a"/><line x1="397.1" y1="376.4" x2="395.2" y2="380.7" stroke="#f03030"/><line x1="402.0" y1="369.6" x2="400.6" y2="370.8" stroke="#c4c4c4"/><line x1="400.6" y1="370.8" x2="399.1" y2="372.0" stroke="#4a4a4a"/><line x1="395.2" y1="380.7" x2="399.5" y2="383.2" stroke="#f03030"/><line x1="399.5" y1="383.2" x2="403.9" y2="385.7" stroke="#4a4a4a"/><line x1="403.9" y1="385.7" x2="406.7" y2="383.1" stroke="#4a4a4a"/><line x1="406.7" y1="383.1" x2="409.5" y2="380.5" stroke="#f03030"/><line x1="403.9" y1="385.7" x2="403.9" y2="389.6" stroke="#4a4a4a"/><line x1="403.9" y1="389.6" x2="403.9" y2="393.6" stroke="#4a4a4a"/><line x1="403.9" y1="393.6" x2="400.1" y2="395.6" stroke="#4a4a4a"/><line x1="400.1" y1="395.6" x2="396.4" y2="397.7" stroke="#4a4a4a"/><line x1="403.9" y1="393.6" x2="408.1" y2="395.6" stroke="#4a4a4a"/><line x1="408.1" y1="395.6" x2="412.3" y2="397.7" stroke="#4a4a4a"/><line x1="391.5" y1="394.0" x2="393.9" y2="395.9" stroke="#c4c4c4"/><line x1="393.9" y1="395.9" x2="396.4" y2="397.7" stroke="#4a4a4a"/><line x1="417.5" y1="396.0" x2="414.9" y2="396.9" stroke="#c4c4c4"/><line x1="414.9" y1="396.9" x2="412.3" y2="397.7" stroke="#4a4a4a"/><line x1="397.0" y1="403.8" x2="396.7" y2="400.8" stroke="#c4c4c4"/><line x1="396.7" y1="400.8" x2="396.4" y2="397.7" stroke="#4a4a4a"/><line x1="411.0" y1="403.8" x2="411.6" y2="400.8" stroke="#c4c4c4"/><line x1="411.6" y1="400.8" x2="412.3" y2="397.7" stroke="#4a4a4a"/></g><circle cx="375.9" cy="336.1" r="1.05" fill="#8a8a8a"/><circle cx="391.4" cy="336.1" r="1.05" fill="#8a8a8a"/><circle cx="376.4" cy="342.5" r="2.1" fill="#2e2e2e"/><circle cx="370.9" cy="347.0" r="1.05" fill="#8a8a8a"/><circle cx="391.8" cy="341.4" r="2.1" fill="#2e2e2e"/><circle cx="396.8" cy="345.9" r="1.05" fill="#8a8a8a"/><circle cx="383.9" cy="347.7" r="2.1" fill="#2e2e2e"/><circle cx="383.4" cy="355.7" r="2.1" fill="#2e2e2e"/><circle cx="376.4" cy="359.5" r="2.1" fill="#e60000"/><circle cx="390.7" cy="359.5" r="2.1" fill="#e60000"/><circle cx="389.1" cy="367.5" r="2.1" fill="#2e2e2e"/><circle cx="386.0" cy="371.0" r="1.05" fill="#8a8a8a"/><circle cx="399.1" cy="372.0" r="2.1" fill="#2e2e2e"/><circle cx="402.0" cy="369.6" r="1.05" fill="#8a8a8a"/><circle cx="395.2" cy="380.7" r="2.1" fill="#e60000"/><circle cx="403.9" cy="385.7" r="2.1" fill="#2e2e2e"/><circle cx="409.5" cy="380.5" r="2.1" fill="#e60000"/><circle cx="403.9" cy="393.6" r="2.1" fill="#2e2e2e"/><circle cx="396.4" cy="397.7" r="2.1" fill="#2e2e2e"/><circle cx="412.3" cy="397.7" r="2.1" fill="#2e2e2e"/><circle cx="391.5" cy="394.0" r="1.05" fill="#8a8a8a"/><circle cx="417.5" cy="396.0" r="1.05" fill="#8a8a8a"/><circle cx="397.0" cy="403.8" r="1.05" fill="#8a8a8a"/><circle cx="411.0" cy="403.8" r="1.05" fill="#8a8a8a"/></g>
<g filter="url(#b3)"><g stroke-width="1.5" stroke-linecap="round"><line x1="261.4" y1="414.8" x2="262.7" y2="419.5" stroke="#c8a030"/><line x1="262.7" y1="419.5" x2="264.0" y2="424.2" stroke="#4a4a4a"/><line x1="264.0" y1="424.2" x2="260.6" y2="426.8" stroke="#4a4a4a"/><line x1="260.6" y1="426.8" x2="257.1" y2="429.4" stroke="#3a3af0"/><line x1="264.0" y1="424.2" x2="267.4" y2="425.4" stroke="#4a4a4a"/><line x1="267.4" y1="425.4" x2="270.9" y2="426.7" stroke="#3a3af0"/><line x1="251.7" y1="428.3" x2="254.4" y2="428.9" stroke="#c4c4c4"/><line x1="254.4" y1="428.9" x2="257.1" y2="429.4" stroke="#3a3af0"/><line x1="258.2" y1="435.3" x2="257.6" y2="432.4" stroke="#c4c4c4"/><line x1="257.6" y1="432.4" x2="257.1" y2="429.4" stroke="#3a3af0"/><line x1="270.9" y1="426.7" x2="274.5" y2="423.4" stroke="#3a3af0"/><line x1="274.5" y1="423.4" x2="278.2" y2="420.2" stroke="#4a4a4a"/><line x1="273.3" y1="431.5" x2="272.1" y2="429.1" stroke="#c4c4c4"/><line x1="272.1" y1="429.1" x2="270.9" y2="426.7" stroke="#3a3af0"/><line x1="278.2" y1="420.2" x2="282.2" y2="423.0" stroke="#4a4a4a"/><line x1="282.2" y1="423.0" x2="286.3" y2="425.9" stroke="#4a4a4a"/><line x1="278.2" y1="415.8" x2="278.2" y2="418.0" stroke="#c4c4c4"/><line x1="278.2" y1="418.0" x2="278.2" y2="420.2" stroke="#4a4a4a"/><line x1="286.3" y1="425.9" x2="290.0" y2="423.0" stroke="#4a4a4a"/><line x1="290.0" y1="423.0" x2="293.6" y2="420.2" stroke="#4a4a4a"/><line x1="287.1" y1="431.5" x2="286.7" y2="428.7" stroke="#c4c4c4"/><line x1="286.7" y1="428.7" x2="286.3" y2="425.9" stroke="#4a4a4a"/><line x1="292.3" y1="414.5" x2="293.0" y2="417.4" stroke="#c4c4c4"/><line x1="293.0" y1="417.4" x2="293.6" y2="420.2" stroke="#4a4a4a"/><line x1="299.3" y1="424.2" x2="296.5" y2="422.2" stroke="#c4c4c4"/><line x1="296.5" y1="422.2" x2="293.6" y2="420.2" stroke="#4a4a4a"/></g><circle cx="261.4" cy="414.8" r="2.9" fill="#c29212"/><circle cx="264.0" cy="424.2" r="2.1" fill="#2e2e2e"/><circle cx="257.1" cy="429.4" r="2.3" fill="#1212e6"/><circle cx="251.7" cy="428.3" r="1.05" fill="#8a8a8a"/><circle cx="258.2" cy="435.3" r="1.05" fill="#8a8a8a"/><circle cx="270.9" cy="426.7" r="2.3" fill="#1212e6"/><circle cx="273.3" cy="431.5" r="1.05" fill="#8a8a8a"/><circle cx="278.2" cy="420.2" r="2.1" fill="#2e2e2e"/><circle cx="278.2" cy="415.8" r="1.05" fill="#8a8a8a"/><circle cx="286.3" cy="425.9" r="2.1" fill="#2e2e2e"/><circle cx="287.1" cy="431.5" r="1.05" fill="#8a8a8a"/><circle cx="293.6" cy="420.2" r="2.1" fill="#2e2e2e"/><circle cx="292.3" cy="414.5" r="1.05" fill="#8a8a8a"/><circle cx="299.3" cy="424.2" r="1.05" fill="#8a8a8a"/></g>
<g filter="url(#b3)"><g stroke-width="1.5" stroke-linecap="round"><line x1="317.2" y1="406.7" x2="320.0" y2="408.5" stroke="#c4c4c4"/><line x1="320.0" y1="408.5" x2="322.8" y2="410.4" stroke="#4a4a4a"/><line x1="328.5" y1="407.2" x2="325.6" y2="408.8" stroke="#c4c4c4"/><line x1="325.6" y1="408.8" x2="322.8" y2="410.4" stroke="#4a4a4a"/><line x1="322.8" y1="410.4" x2="322.4" y2="414.7" stroke="#4a4a4a"/><line x1="322.4" y1="414.7" x2="322.0" y2="419.0" stroke="#4a4a4a"/><line x1="322.0" y1="419.0" x2="317.9" y2="420.8" stroke="#4a4a4a"/><line x1="317.9" y1="420.8" x2="313.9" y2="422.6" stroke="#4a4a4a"/><line x1="322.0" y1="419.0" x2="325.2" y2="421.4" stroke="#4a4a4a"/><line x1="325.2" y1="421.4" x2="328.5" y2="423.9" stroke="#4a4a4a"/><line x1="309.0" y1="417.7" x2="311.4" y2="420.1" stroke="#c4c4c4"/><line x1="311.4" y1="420.1" x2="313.9" y2="422.6" stroke="#4a4a4a"/><line x1="313.1" y1="426.7" x2="313.5" y2="424.6" stroke="#c4c4c4"/><line x1="313.5" y1="424.6" x2="313.9" y2="422.6" stroke="#4a4a4a"/><line x1="328.5" y1="423.9" x2="328.1" y2="426.9" stroke="#4a4a4a"/><line x1="328.1" y1="426.9" x2="327.7" y2="429.9" stroke="#f03030"/><line x1="328.5" y1="423.9" x2="332.4" y2="421.6" stroke="#4a4a4a"/><line x1="332.4" y1="421.6" x2="336.2" y2="419.4" stroke="#f03030"/><line x1="336.2" y1="419.4" x2="339.2" y2="422.6" stroke="#f03030"/><line x1="339.2" y1="422.6" x2="342.3" y2="425.9" stroke="#4a4a4a"/><line x1="342.3" y1="425.9" x2="346.6" y2="423.4" stroke="#4a4a4a"/><line x1="346.6" y1="423.4" x2="351.0" y2="421.0" stroke="#4a4a4a"/><line x1="342.0" y1="430.0" x2="342.1" y2="427.9" stroke="#c4c4c4"/><line x1="342.1" y1="427.9" x2="342.3" y2="425.9" stroke="#4a4a4a"/><line x1="351.0" y1="421.0" x2="353.8" y2="424.2" stroke="#4a4a4a"/><line x1="353.8" y1="424.2" x2="356.6" y2="427.5" stroke="#f03030"/><line x1="350.5" y1="417.0" x2="350.8" y2="419.0" stroke="#c4c4c4"/><line x1="350.8" y1="419.0" x2="351.0" y2="421.0" stroke="#4a4a4a"/><line x1="356.6" y1="427.5" x2="360.5" y2="425.9" stroke="#f03030"/><line x1="360.5" y1="425.9" x2="364.3" y2="424.2" stroke="#4a4a4a"/><line x1="364.3" y1="424.2" x2="364.6" y2="420.1" stroke="#4a4a4a"/><line x1="364.6" y1="420.1" x2="364.8" y2="416.1" stroke="#f03030"/><line x1="364.3" y1="424.2" x2="367.6" y2="426.8" stroke="#4a4a4a"/><line x1="367.6" y1="426.8" x2="370.8" y2="429.4" stroke="#4a4a4a"/><line x1="370.8" y1="429.4" x2="374.5" y2="427.2" stroke="#4a4a4a"/><line x1="374.5" y1="427.2" x2="378.1" y2="425.1" stroke="#4a4a4a"/><line x1="370.8" y1="429.4" x2="370.4" y2="433.7" stroke="#4a4a4a"/><line x1="370.4" y1="433.7" x2="370.0" y2="438.0" stroke="#4a4a4a"/><line x1="378.9" y1="419.7" x2="378.5" y2="422.4" stroke="#c4c4c4"/><line x1="378.5" y1="422.4" x2="378.1" y2="425.1" stroke="#4a4a4a"/><line x1="383.8" y1="429.4" x2="381.0" y2="427.2" stroke="#c4c4c4"/><line x1="381.0" y1="427.2" x2="378.1" y2="425.1" stroke="#4a4a4a"/><line x1="364.3" y1="439.7" x2="367.1" y2="438.9" stroke="#c4c4c4"/><line x1="367.1" y1="438.9" x2="370.0" y2="438.0" stroke="#4a4a4a"/><line x1="374.0" y1="442.1" x2="372.0" y2="440.1" stroke="#c4c4c4"/><line x1="372.0" y1="440.1" x2="370.0" y2="438.0" stroke="#4a4a4a"/></g><circle cx="317.2" cy="406.7" r="1.05" fill="#8a8a8a"/><circle cx="328.5" cy="407.2" r="1.05" fill="#8a8a8a"/><circle cx="322.8" cy="410.4" r="2.1" fill="#2e2e2e"/><circle cx="322.0" cy="419.0" r="2.1" fill="#2e2e2e"/><circle cx="313.9" cy="422.6" r="2.1" fill="#2e2e2e"/><circle cx="309.0" cy="417.7" r="1.05" fill="#8a8a8a"/><circle cx="313.1" cy="426.7" r="1.05" fill="#8a8a8a"/><circle cx="328.5" cy="423.9" r="2.1" fill="#2e2e2e"/><circle cx="327.7" cy="429.9" r="2.1" fill="#e60000"/><circle cx="336.2" cy="419.4" r="2.1" fill="#e60000"/><circle cx="342.3" cy="425.9" r="2.1" fill="#2e2e2e"/><circle cx="342.0" cy="430.0" r="1.05" fill="#8a8a8a"/><circle cx="351.0" cy="421.0" r="2.1" fill="#2e2e2e"/><circle cx="350.5" cy="417.0" r="1.05" fill="#8a8a8a"/><circle cx="356.6" cy="427.5" r="2.1" fill="#e60000"/><circle cx="364.3" cy="424.2" r="2.1" fill="#2e2e2e"/><circle cx="364.8" cy="416.1" r="2.1" fill="#e60000"/><circle cx="370.8" cy="429.4" r="2.1" fill="#2e2e2e"/><circle cx="378.1" cy="425.1" r="2.1" fill="#2e2e2e"/><circle cx="378.9" cy="419.7" r="1.05" fill="#8a8a8a"/><circle cx="383.8" cy="429.4" r="1.05" fill="#8a8a8a"/><circle cx="370.0" cy="438.0" r="2.1" fill="#2e2e2e"/><circle cx="364.3" cy="439.7" r="1.05" fill="#8a8a8a"/><circle cx="374.0" cy="442.1" r="1.05" fill="#8a8a8a"/></g>
<g filter="url(#b3)"><g stroke-width="1.5" stroke-linecap="round"><line x1="400.8" y1="417.6" x2="404.2" y2="422.1" stroke="#c8a030"/><line x1="404.2" y1="422.1" x2="407.7" y2="426.5" stroke="#4a4a4a"/><line x1="407.7" y1="426.5" x2="406.1" y2="431.4" stroke="#4a4a4a"/><line x1="406.1" y1="431.4" x2="404.5" y2="436.3" stroke="#3a3af0"/><line x1="407.7" y1="426.5" x2="412.9" y2="425.9" stroke="#4a4a4a"/><line x1="412.9" y1="425.9" x2="418.0" y2="425.4" stroke="#3a3af0"/><line x1="398.0" y1="437.1" x2="401.2" y2="436.7" stroke="#c4c4c4"/><line x1="401.2" y1="436.7" x2="404.5" y2="436.3" stroke="#3a3af0"/><line x1="418.0" y1="425.4" x2="420.4" y2="420.3" stroke="#3a3af0"/><line x1="420.4" y1="420.3" x2="422.7" y2="415.2" stroke="#4a4a4a"/><line x1="422.7" y1="431.4" x2="420.4" y2="428.4" stroke="#c4c4c4"/><line x1="420.4" y1="428.4" x2="418.0" y2="425.4" stroke="#3a3af0"/><line x1="422.7" y1="415.2" x2="427.9" y2="415.6" stroke="#4a4a4a"/><line x1="427.9" y1="415.6" x2="433.2" y2="416.0" stroke="#4a4a4a"/><line x1="419.4" y1="410.3" x2="421.0" y2="412.8" stroke="#c4c4c4"/><line x1="421.0" y1="412.8" x2="422.7" y2="415.2" stroke="#4a4a4a"/><line x1="433.2" y1="416.0" x2="435.9" y2="411.9" stroke="#4a4a4a"/><line x1="435.9" y1="411.9" x2="438.6" y2="407.9" stroke="#4a4a4a"/><line x1="437.0" y1="423.3" x2="435.1" y2="419.6" stroke="#c4c4c4"/><line x1="435.1" y1="419.6" x2="433.2" y2="416.0" stroke="#4a4a4a"/><line x1="435.7" y1="401.0" x2="437.1" y2="404.4" stroke="#c4c4c4"/><line x1="437.1" y1="404.4" x2="438.6" y2="407.9" stroke="#4a4a4a"/><line x1="446.7" y1="408.2" x2="442.6" y2="408.0" stroke="#c4c4c4"/><line x1="442.6" y1="408.0" x2="438.6" y2="407.9" stroke="#4a4a4a"/></g><circle cx="400.8" cy="417.6" r="2.9" fill="#c29212"/><circle cx="407.7" cy="426.5" r="2.1" fill="#2e2e2e"/><circle cx="404.5" cy="436.3" r="2.3" fill="#1212e6"/><circle cx="398.0" cy="437.1" r="1.05" fill="#8a8a8a"/><circle cx="418.0" cy="425.4" r="2.3" fill="#1212e6"/><circle cx="422.7" cy="431.4" r="1.05" fill="#8a8a8a"/><circle cx="422.7" cy="415.2" r="2.1" fill="#2e2e2e"/><circle cx="419.4" cy="410.3" r="1.05" fill="#8a8a8a"/><circle cx="433.2" cy="416.0" r="2.1" fill="#2e2e2e"/><circle cx="437.0" cy="423.3" r="1.05" fill="#8a8a8a"/><circle cx="438.6" cy="407.9" r="2.1" fill="#2e2e2e"/><circle cx="435.7" cy="401.0" r="1.05" fill="#8a8a8a"/><circle cx="446.7" cy="408.2" r="1.05" fill="#8a8a8a"/></g>
<g filter="url(#b3)"><g stroke-width="1.5" stroke-linecap="round"><line x1="464.1" y1="400.1" x2="466.8" y2="401.6" stroke="#c4c4c4"/><line x1="466.8" y1="401.6" x2="469.5" y2="403.0" stroke="#4a4a4a"/><line x1="474.7" y1="400.1" x2="472.1" y2="401.6" stroke="#c4c4c4"/><line x1="472.1" y1="401.6" x2="469.5" y2="403.0" stroke="#4a4a4a"/><line x1="469.5" y1="403.0" x2="469.5" y2="406.9" stroke="#4a4a4a"/><line x1="469.5" y1="406.9" x2="469.5" y2="410.8" stroke="#4a4a4a"/><line x1="469.5" y1="410.8" x2="465.2" y2="413.2" stroke="#4a4a4a"/><line x1="465.2" y1="413.2" x2="461.0" y2="415.7" stroke="#4a4a4a"/><line x1="469.5" y1="410.8" x2="473.1" y2="413.4" stroke="#4a4a4a"/><line x1="473.1" y1="413.4" x2="476.8" y2="416.0" stroke="#4a4a4a"/><line x1="456.0" y1="411.1" x2="458.5" y2="413.4" stroke="#c4c4c4"/><line x1="458.5" y1="413.4" x2="461.0" y2="415.7" stroke="#4a4a4a"/><line x1="460.5" y1="420.0" x2="460.8" y2="417.9" stroke="#c4c4c4"/><line x1="460.8" y1="417.9" x2="461.0" y2="415.7" stroke="#4a4a4a"/><line x1="476.8" y1="416.0" x2="476.8" y2="419.5" stroke="#4a4a4a"/><line x1="476.8" y1="419.5" x2="476.8" y2="423.0" stroke="#f03030"/><line x1="476.8" y1="416.0" x2="480.2" y2="413.6" stroke="#4a4a4a"/><line x1="480.2" y1="413.6" x2="483.6" y2="411.1" stroke="#f03030"/><line x1="483.6" y1="411.1" x2="487.0" y2="414.0" stroke="#f03030"/><line x1="487.0" y1="414.0" x2="490.3" y2="416.8" stroke="#4a4a4a"/><line x1="490.3" y1="416.8" x2="494.2" y2="414.0" stroke="#4a4a4a"/><line x1="494.2" y1="414.0" x2="498.2" y2="411.1" stroke="#4a4a4a"/><line x1="489.8" y1="420.9" x2="490.1" y2="418.9" stroke="#c4c4c4"/><line x1="490.1" y1="418.9" x2="490.3" y2="416.8" stroke="#4a4a4a"/><line x1="498.2" y1="411.1" x2="501.3" y2="414.4" stroke="#4a4a4a"/><line x1="501.3" y1="414.4" x2="504.4" y2="417.6" stroke="#f03030"/><line x1="498.2" y1="407.0" x2="498.2" y2="409.1" stroke="#c4c4c4"/><line x1="498.2" y1="409.1" x2="498.2" y2="411.1" stroke="#4a4a4a"/><line x1="504.4" y1="417.6" x2="508.0" y2="416.0" stroke="#f03030"/><line x1="508.0" y1="416.0" x2="511.7" y2="414.4" stroke="#4a4a4a"/><line x1="511.7" y1="414.4" x2="511.7" y2="410.3" stroke="#4a4a4a"/><line x1="511.7" y1="410.3" x2="511.7" y2="406.2" stroke="#f03030"/><line x1="511.7" y1="414.4" x2="515.1" y2="416.6" stroke="#4a4a4a"/><line x1="515.1" y1="416.6" x2="518.5" y2="418.9" stroke="#4a4a4a"/><line x1="518.5" y1="418.9" x2="522.2" y2="416.4" stroke="#4a4a4a"/><line x1="522.2" y1="416.4" x2="526.0" y2="414.0" stroke="#4a4a4a"/><line x1="518.5" y1="418.9" x2="518.5" y2="422.9" stroke="#4a4a4a"/><line x1="518.5" y1="422.9" x2="518.5" y2="427.0" stroke="#4a4a4a"/><line x1="526.0" y1="407.5" x2="526.0" y2="410.8" stroke="#c4c4c4"/><line x1="526.0" y1="410.8" x2="526.0" y2="414.0" stroke="#4a4a4a"/><line x1="532.0" y1="417.3" x2="529.0" y2="415.6" stroke="#c4c4c4"/><line x1="529.0" y1="415.6" x2="526.0" y2="414.0" stroke="#4a4a4a"/><line x1="512.8" y1="429.3" x2="515.6" y2="428.1" stroke="#c4c4c4"/><line x1="515.6" y1="428.1" x2="518.5" y2="427.0" stroke="#4a4a4a"/><line x1="523.1" y1="429.8" x2="520.8" y2="428.4" stroke="#c4c4c4"/><line x1="520.8" y1="428.4" x2="518.5" y2="427.0" stroke="#4a4a4a"/></g><circle cx="464.1" cy="400.1" r="1.05" fill="#8a8a8a"/><circle cx="474.7" cy="400.1" r="1.05" fill="#8a8a8a"/><circle cx="469.5" cy="403.0" r="2.1" fill="#2e2e2e"/><circle cx="469.5" cy="410.8" r="2.1" fill="#2e2e2e"/><circle cx="461.0" cy="415.7" r="2.1" fill="#2e2e2e"/><circle cx="456.0" cy="411.1" r="1.05" fill="#8a8a8a"/><circle cx="460.5" cy="420.0" r="1.05" fill="#8a8a8a"/><circle cx="476.8" cy="416.0" r="2.1" fill="#2e2e2e"/><circle cx="476.8" cy="423.0" r="2.1" fill="#e60000"/><circle cx="483.6" cy="411.1" r="2.1" fill="#e60000"/><circle cx="490.3" cy="416.8" r="2.1" fill="#2e2e2e"/><circle cx="489.8" cy="420.9" r="1.05" fill="#8a8a8a"/><circle cx="498.2" cy="411.1" r="2.1" fill="#2e2e2e"/><circle cx="498.2" cy="407.0" r="1.05" fill="#8a8a8a"/><circle cx="504.4" cy="417.6" r="2.1" fill="#e60000"/><circle cx="511.7" cy="414.4" r="2.1" fill="#2e2e2e"/><circle cx="511.7" cy="406.2" r="2.1" fill="#e60000"/><circle cx="518.5" cy="418.9" r="2.1" fill="#2e2e2e"/><circle cx="526.0" cy="414.0" r="2.1" fill="#2e2e2e"/><circle cx="526.0" cy="407.5" r="1.05" fill="#8a8a8a"/><circle cx="532.0" cy="417.3" r="1.05" fill="#8a8a8a"/><circle cx="518.5" cy="427.0" r="2.1" fill="#2e2e2e"/><circle cx="512.8" cy="429.3" r="1.05" fill="#8a8a8a"/><circle cx="523.1" cy="429.8" r="1.05" fill="#8a8a8a"/></g>
<g filter="url(#b3)"><g stroke-width="1.5" stroke-linecap="round"><line x1="380.5" y1="451.4" x2="380.5" y2="454.5" stroke="#c4c4c4"/><line x1="380.5" y1="454.5" x2="380.5" y2="457.7" stroke="#3a3af0"/><line x1="375.5" y1="460.0" x2="378.0" y2="458.9" stroke="#c4c4c4"/><line x1="378.0" y1="458.9" x2="380.5" y2="457.7" stroke="#3a3af0"/><line x1="380.5" y1="457.7" x2="383.6" y2="459.9" stroke="#3a3af0"/><line x1="383.6" y1="459.9" x2="386.8" y2="462.0" stroke="#4a4a4a"/><line x1="386.8" y1="462.0" x2="391.0" y2="459.5" stroke="#4a4a4a"/><line x1="391.0" y1="459.5" x2="395.2" y2="457.0" stroke="#c8a030"/><line x1="386.8" y1="462.0" x2="387.1" y2="465.8" stroke="#4a4a4a"/><line x1="387.1" y1="465.8" x2="387.3" y2="469.5" stroke="#3a3af0"/><line x1="387.3" y1="469.5" x2="391.2" y2="472.0" stroke="#3a3af0"/><line x1="391.2" y1="472.0" x2="395.2" y2="474.5" stroke="#4a4a4a"/><line x1="382.3" y1="473.0" x2="384.8" y2="471.2" stroke="#c4c4c4"/><line x1="384.8" y1="471.2" x2="387.3" y2="469.5" stroke="#3a3af0"/><line x1="395.2" y1="474.5" x2="394.1" y2="478.9" stroke="#4a4a4a"/><line x1="394.1" y1="478.9" x2="393.0" y2="483.2" stroke="#4a4a4a"/><line x1="400.5" y1="473.6" x2="397.9" y2="474.1" stroke="#c4c4c4"/><line x1="397.9" y1="474.1" x2="395.2" y2="474.5" stroke="#4a4a4a"/><line x1="393.0" y1="483.2" x2="396.8" y2="486.0" stroke="#4a4a4a"/><line x1="396.8" y1="486.0" x2="400.5" y2="488.9" stroke="#4a4a4a"/><line x1="386.8" y1="485.5" x2="389.9" y2="484.4" stroke="#c4c4c4"/><line x1="389.9" y1="484.4" x2="393.0" y2="483.2" stroke="#4a4a4a"/><line x1="405.5" y1="487.3" x2="403.0" y2="488.1" stroke="#c4c4c4"/><line x1="403.0" y1="488.1" x2="400.5" y2="488.9" stroke="#4a4a4a"/><line x1="397.5" y1="495.7" x2="399.0" y2="492.3" stroke="#c4c4c4"/><line x1="399.0" y1="492.3" x2="400.5" y2="488.9" stroke="#4a4a4a"/></g><circle cx="380.5" cy="451.4" r="1.05" fill="#8a8a8a"/><circle cx="375.5" cy="460.0" r="1.05" fill="#8a8a8a"/><circle cx="380.5" cy="457.7" r="2.3" fill="#1212e6"/><circle cx="386.8" cy="462.0" r="2.1" fill="#2e2e2e"/><circle cx="395.2" cy="457.0" r="2.9" fill="#c29212"/><circle cx="387.3" cy="469.5" r="2.3" fill="#1212e6"/><circle cx="382.3" cy="473.0" r="1.05" fill="#8a8a8a"/><circle cx="395.2" cy="474.5" r="2.1" fill="#2e2e2e"/><circle cx="400.5" cy="473.6" r="1.05" fill="#8a8a8a"/><circle cx="393.0" cy="483.2" r="2.1" fill="#2e2e2e"/><circle cx="386.8" cy="485.5" r="1.05" fill="#8a8a8a"/><circle cx="400.5" cy="488.9" r="2.1" fill="#2e2e2e"/><circle cx="405.5" cy="487.3" r="1.05" fill="#8a8a8a"/><circle cx="397.5" cy="495.7" r="1.05" fill="#8a8a8a"/></g>
<g filter="url(#b3)"><g stroke-width="1.5" stroke-linecap="round"><line x1="381.6" y1="496.4" x2="380.5" y2="499.4" stroke="#c4c4c4"/><line x1="380.5" y1="499.4" x2="379.3" y2="502.5" stroke="#4a4a4a"/><line x1="394.5" y1="500.9" x2="394.3" y2="503.9" stroke="#c4c4c4"/><line x1="394.3" y1="503.9" x2="394.1" y2="507.0" stroke="#4a4a4a"/><line x1="379.3" y1="502.5" x2="382.7" y2="505.9" stroke="#4a4a4a"/><line x1="382.7" y1="505.9" x2="386.1" y2="509.3" stroke="#4a4a4a"/><line x1="374.1" y1="503.6" x2="376.7" y2="503.1" stroke="#c4c4c4"/><line x1="376.7" y1="503.1" x2="379.3" y2="502.5" stroke="#4a4a4a"/><line x1="386.1" y1="509.3" x2="390.1" y2="508.1" stroke="#4a4a4a"/><line x1="390.1" y1="508.1" x2="394.1" y2="507.0" stroke="#4a4a4a"/><line x1="386.1" y1="509.3" x2="384.4" y2="513.3" stroke="#4a4a4a"/><line x1="384.4" y1="513.3" x2="382.7" y2="517.3" stroke="#4a4a4a"/><line x1="397.5" y1="512.3" x2="395.8" y2="509.6" stroke="#c4c4c4"/><line x1="395.8" y1="509.6" x2="394.1" y2="507.0" stroke="#4a4a4a"/><line x1="382.7" y1="517.3" x2="379.3" y2="518.4" stroke="#4a4a4a"/><line x1="379.3" y1="518.4" x2="375.9" y2="519.5" stroke="#f03030"/><line x1="382.7" y1="517.3" x2="385.5" y2="520.5" stroke="#4a4a4a"/><line x1="385.5" y1="520.5" x2="388.4" y2="523.6" stroke="#f03030"/><line x1="388.4" y1="523.6" x2="386.1" y2="527.2" stroke="#f03030"/><line x1="386.1" y1="527.2" x2="383.9" y2="530.9" stroke="#4a4a4a"/><line x1="383.9" y1="530.9" x2="388.2" y2="534.3" stroke="#4a4a4a"/><line x1="388.2" y1="534.3" x2="392.5" y2="537.7" stroke="#4a4a4a"/><line x1="379.3" y1="530.9" x2="381.6" y2="530.9" stroke="#c4c4c4"/><line x1="381.6" y1="530.9" x2="383.9" y2="530.9" stroke="#4a4a4a"/><line x1="392.5" y1="537.7" x2="390.1" y2="541.4" stroke="#4a4a4a"/><line x1="390.1" y1="541.4" x2="387.7" y2="545.0" stroke="#f03030"/><line x1="396.4" y1="536.6" x2="394.4" y2="537.2" stroke="#c4c4c4"/><line x1="394.4" y1="537.2" x2="392.5" y2="537.7" stroke="#4a4a4a"/><line x1="387.7" y1="545.0" x2="390.9" y2="548.2" stroke="#f03030"/><line x1="390.9" y1="548.2" x2="394.1" y2="551.4" stroke="#4a4a4a"/><line x1="394.1" y1="551.4" x2="397.5" y2="550.5" stroke="#4a4a4a"/><line x1="397.5" y1="550.5" x2="400.9" y2="549.5" stroke="#f03030"/><line x1="394.1" y1="551.4" x2="392.4" y2="555.0" stroke="#4a4a4a"/><line x1="392.4" y1="555.0" x2="390.7" y2="558.6" stroke="#4a4a4a"/><line x1="390.7" y1="558.6" x2="386.7" y2="559.5" stroke="#4a4a4a"/><line x1="386.7" y1="559.5" x2="382.7" y2="560.5" stroke="#4a4a4a"/><line x1="390.7" y1="558.6" x2="394.1" y2="561.2" stroke="#4a4a4a"/><line x1="394.1" y1="561.2" x2="397.5" y2="563.9" stroke="#4a4a4a"/><line x1="378.2" y1="556.4" x2="380.4" y2="558.5" stroke="#c4c4c4"/><line x1="380.4" y1="558.5" x2="382.7" y2="560.5" stroke="#4a4a4a"/><line x1="380.0" y1="566.8" x2="381.4" y2="563.6" stroke="#c4c4c4"/><line x1="381.4" y1="563.6" x2="382.7" y2="560.5" stroke="#4a4a4a"/><line x1="403.6" y1="563.9" x2="400.6" y2="563.9" stroke="#c4c4c4"/><line x1="400.6" y1="563.9" x2="397.5" y2="563.9" stroke="#4a4a4a"/><line x1="395.2" y1="571.4" x2="396.4" y2="567.6" stroke="#c4c4c4"/><line x1="396.4" y1="567.6" x2="397.5" y2="563.9" stroke="#4a4a4a"/></g><circle cx="381.6" cy="496.4" r="1.05" fill="#8a8a8a"/><circle cx="394.5" cy="500.9" r="1.05" fill="#8a8a8a"/><circle cx="379.3" cy="502.5" r="2.1" fill="#2e2e2e"/><circle cx="374.1" cy="503.6" r="1.05" fill="#8a8a8a"/><circle cx="386.1" cy="509.3" r="2.1" fill="#2e2e2e"/><circle cx="394.1" cy="507.0" r="2.1" fill="#2e2e2e"/><circle cx="397.5" cy="512.3" r="1.05" fill="#8a8a8a"/><circle cx="382.7" cy="517.3" r="2.1" fill="#2e2e2e"/><circle cx="375.9" cy="519.5" r="2.1" fill="#e60000"/><circle cx="388.4" cy="523.6" r="2.1" fill="#e60000"/><circle cx="383.9" cy="530.9" r="2.1" fill="#2e2e2e"/><circle cx="379.3" cy="530.9" r="1.05" fill="#8a8a8a"/><circle cx="392.5" cy="537.7" r="2.1" fill="#2e2e2e"/><circle cx="396.4" cy="536.6" r="1.05" fill="#8a8a8a"/><circle cx="387.7" cy="545.0" r="2.1" fill="#e60000"/><circle cx="394.1" cy="551.4" r="2.1" fill="#2e2e2e"/><circle cx="400.9" cy="549.5" r="2.1" fill="#e60000"/><circle cx="390.7" cy="558.6" r="2.1" fill="#2e2e2e"/><circle cx="382.7" cy="560.5" r="2.1" fill="#2e2e2e"/><circle cx="378.2" cy="556.4" r="1.05" fill="#8a8a8a"/><circle cx="380.0" cy="566.8" r="1.05" fill="#8a8a8a"/><circle cx="397.5" cy="563.9" r="2.1" fill="#2e2e2e"/><circle cx="403.6" cy="563.9" r="1.05" fill="#8a8a8a"/><circle cx="395.2" cy="571.4" r="1.05" fill="#8a8a8a"/></g>
<!-- panel d polymer -->
<g filter="url(#b3)" fill="none" stroke-linejoin="round">
<path d="M778.7,282.4 C780.0,285.5 784.0,295.2 786.4,300.9 C788.8,306.6 791.7,311.7 792.8,316.4 C793.9,321.1 794.7,325.2 792.8,329.3 C790.9,333.4 785.1,337.0 781.2,340.9 C777.3,344.8 771.5,348.2 769.6,352.5 C767.7,356.8 768.1,362.7 769.6,366.6 C771.1,370.5 775.9,371.6 778.7,375.7 C781.5,379.8 784.8,386.4 786.4,391.1 C788.0,395.8 789.1,400.5 788.2,404.0 C787.3,407.5 784.5,409.4 781.0,412.0 C777.5,414.6 771.4,416.7 767.4,419.3 C763.4,421.9 759.7,424.2 757.3,427.5 C754.9,430.8 753.0,435.8 752.9,439.0 C752.8,442.2 754.5,442.8 756.7,447.0 C759.0,451.2 762.8,457.9 766.4,464.0 C770.0,470.1 775.1,477.7 778.5,483.4 C781.9,489.1 785.2,493.1 787.0,498.0 C788.8,502.9 789.5,507.2 789.5,512.5 C789.5,517.8 788.2,523.8 787.0,529.5 C785.8,535.2 783.8,540.4 782.2,546.5 C780.6,552.6 778.1,562.7 777.3,565.9" stroke="#8c8edc" stroke-width="5.4"/>
<path d="M792.8,320.0 C790.4,319.4 783.0,316.1 778.7,316.4 C774.4,316.6 770.2,318.9 767.0,321.5 C763.8,324.1 760.6,330.2 759.3,331.9" stroke="#8c8edc" stroke-width="5.4"/>
<path d="M795.4,321.5 C796.9,320.4 801.8,318.1 804.4,315.1 C807.0,312.1 809.8,305.4 810.9,303.5" stroke="#8c8edc" stroke-width="5.4"/>
<path d="M770.9,369.2 C769.6,369.9 765.6,371.4 763.2,373.1 C760.9,374.8 757.9,378.4 756.8,379.5" stroke="#8c8edc" stroke-width="5.4"/>
<path d="M778.7,371.8 C780.4,372.2 785.8,375.0 789.0,374.4 C792.2,373.8 795.5,370.7 798.0,367.9 C800.5,365.1 802.9,359.3 803.9,357.6" stroke="#8c8edc" stroke-width="5.4"/>
<path d="M631.0,422.0 C633.1,420.8 639.2,417.1 643.8,414.7 C648.4,412.3 653.5,409.1 658.4,407.4 C663.3,405.7 668.7,404.4 673.0,404.7 C677.3,405.0 680.0,406.3 684.0,409.2 C688.0,412.1 692.8,418.5 696.8,422.0 C700.8,425.5 704.1,428.9 707.7,430.3 C711.4,431.7 715.1,431.5 718.7,430.3 C722.4,429.1 725.3,425.6 729.6,422.9 C733.9,420.1 739.7,415.8 744.3,413.8 C748.9,411.8 753.2,410.2 757.1,411.1 C761.0,412.0 765.7,417.9 767.4,419.3" stroke="#8c8edc" stroke-width="5.4"/>
<path d="M655.6,407.4 C654.2,405.6 648.8,398.2 647.4,396.4" stroke="#8c8edc" stroke-width="5.4"/>
<path d="M655.6,410.0 C654.2,411.7 648.8,416.7 647.4,420.2 C646.0,423.7 645.6,427.1 647.4,431.2 C649.2,435.3 656.6,442.6 658.4,444.9" stroke="#8c8edc" stroke-width="5.4"/>
<path d="M706.8,397.4 C708.8,398.2 715.5,399.6 718.7,402.0 C721.9,404.4 724.9,408.4 726.0,412.0 C727.1,415.6 725.6,420.4 725.1,423.9 C724.6,427.4 722.5,430.0 723.3,433.0 C724.0,436.0 726.7,439.8 729.6,442.1 C732.5,444.4 738.8,445.9 740.6,446.7" stroke="#8c8edc" stroke-width="5.4"/>
<path d="M767.4,419.3 C768.5,421.3 771.5,427.4 773.8,431.2 C776.1,435.0 778.0,439.4 781.0,442.1 C784.0,444.8 788.0,447.3 792.0,447.6 C796.0,447.9 800.2,446.4 804.8,444.0 C809.4,441.6 814.5,436.8 819.4,433.0 C824.3,429.2 829.1,424.2 834.0,421.1 C838.9,418.1 843.2,416.4 848.7,414.7 C854.2,413.0 860.3,411.4 867.0,411.1 C873.7,410.8 881.6,411.5 888.9,412.9 C896.2,414.3 904.2,417.3 910.8,419.3 C917.3,421.3 925.3,423.9 928.2,424.8" stroke="#8c8edc" stroke-width="5.4"/>
<path d="M819.4,399.2 C821.2,400.0 827.2,401.7 830.4,403.8 C833.6,405.9 837.1,409.6 838.6,412.0 C840.1,414.4 840.0,415.5 839.5,418.4 C839.0,421.3 835.9,425.6 835.9,429.3 C835.9,433.0 836.8,437.0 839.5,440.3 C842.2,443.6 850.2,447.9 852.3,449.4" stroke="#8c8edc" stroke-width="5.4"/>
<path d="M913.6,394.6 C913.9,396.4 915.4,401.8 915.4,405.6 C915.4,409.4 913.9,415.5 913.6,417.5" stroke="#8c8edc" stroke-width="5.4"/>
<path d="M912.7,418.8 C910.6,419.5 903.6,421.0 899.9,422.9 C896.2,424.8 892.7,425.9 890.7,430.3 C888.7,434.7 888.5,446.2 888.0,449.4" stroke="#8c8edc" stroke-width="5.4"/>
<path d="M800.4,464.0 C799.8,466.4 798.1,474.5 796.7,478.5 C795.3,482.5 793.9,486.2 791.9,488.0 C789.9,489.8 787.4,489.2 784.6,489.5 C781.8,489.8 777.5,488.1 774.9,489.5 C772.3,490.9 770.2,494.0 768.8,498.0 C767.4,502.0 766.8,511.1 766.4,513.7" stroke="#8c8edc" stroke-width="5.4"/>
<path d="M800.4,510.1 C800.0,512.1 799.6,518.6 798.0,522.2 C796.4,525.8 794.0,529.9 790.7,531.9 C787.5,533.9 782.1,532.8 778.5,534.4 C774.9,536.0 770.9,537.7 768.8,541.7 C766.7,545.7 766.4,555.8 765.9,558.6" stroke="#8c8edc" stroke-width="5.4"/>
<path d="M778.7,282.4 C780.0,285.5 784.0,295.2 786.4,300.9 C788.8,306.6 791.7,311.7 792.8,316.4 C793.9,321.1 794.7,325.2 792.8,329.3 C790.9,333.4 785.1,337.0 781.2,340.9 C777.3,344.8 771.5,348.2 769.6,352.5 C767.7,356.8 768.1,362.7 769.6,366.6 C771.1,370.5 775.9,371.6 778.7,375.7 C781.5,379.8 784.8,386.4 786.4,391.1 C788.0,395.8 789.1,400.5 788.2,404.0 C787.3,407.5 784.5,409.4 781.0,412.0 C777.5,414.6 771.4,416.7 767.4,419.3 C763.4,421.9 759.7,424.2 757.3,427.5 C754.9,430.8 753.0,435.8 752.9,439.0 C752.8,442.2 754.5,442.8 756.7,447.0 C759.0,451.2 762.8,457.9 766.4,464.0 C770.0,470.1 775.1,477.7 778.5,483.4 C781.9,489.1 785.2,493.1 787.0,498.0 C788.8,502.9 789.5,507.2 789.5,512.5 C789.5,517.8 788.2,523.8 787.0,529.5 C785.8,535.2 783.8,540.4 782.2,546.5 C780.6,552.6 778.1,562.7 777.3,565.9" stroke="#a3a5ec" stroke-width="3.2"/>
<path d="M792.8,320.0 C790.4,319.4 783.0,316.1 778.7,316.4 C774.4,316.6 770.2,318.9 767.0,321.5 C763.8,324.1 760.6,330.2 759.3,331.9" stroke="#a3a5ec" stroke-width="3.2"/>
<path d="M795.4,321.5 C796.9,320.4 801.8,318.1 804.4,315.1 C807.0,312.1 809.8,305.4 810.9,303.5" stroke="#a3a5ec" stroke-width="3.2"/>
<path d="M770.9,369.2 C769.6,369.9 765.6,371.4 763.2,373.1 C760.9,374.8 757.9,378.4 756.8,379.5" stroke="#a3a5ec" stroke-width="3.2"/>
<path d="M778.7,371.8 C780.4,372.2 785.8,375.0 789.0,374.4 C792.2,373.8 795.5,370.7 798.0,367.9 C800.5,365.1 802.9,359.3 803.9,357.6" stroke="#a3a5ec" stroke-width="3.2"/>
<path d="M631.0,422.0 C633.1,420.8 639.2,417.1 643.8,414.7 C648.4,412.3 653.5,409.1 658.4,407.4 C663.3,405.7 668.7,404.4 673.0,404.7 C677.3,405.0 680.0,406.3 684.0,409.2 C688.0,412.1 692.8,418.5 696.8,422.0 C700.8,425.5 704.1,428.9 707.7,430.3 C711.4,431.7 715.1,431.5 718.7,430.3 C722.4,429.1 725.3,425.6 729.6,422.9 C733.9,420.1 739.7,415.8 744.3,413.8 C748.9,411.8 753.2,410.2 757.1,411.1 C761.0,412.0 765.7,417.9 767.4,419.3" stroke="#a3a5ec" stroke-width="3.2"/>
<path d="M655.6,407.4 C654.2,405.6 648.8,398.2 647.4,396.4" stroke="#a3a5ec" stroke-width="3.2"/>
<path d="M655.6,410.0 C654.2,411.7 648.8,416.7 647.4,420.2 C646.0,423.7 645.6,427.1 647.4,431.2 C649.2,435.3 656.6,442.6 658.4,444.9" stroke="#a3a5ec" stroke-width="3.2"/>
<path d="M706.8,397.4 C708.8,398.2 715.5,399.6 718.7,402.0 C721.9,404.4 724.9,408.4 726.0,412.0 C727.1,415.6 725.6,420.4 725.1,423.9 C724.6,427.4 722.5,430.0 723.3,433.0 C724.0,436.0 726.7,439.8 729.6,442.1 C732.5,444.4 738.8,445.9 740.6,446.7" stroke="#a3a5ec" stroke-width="3.2"/>
<path d="M767.4,419.3 C768.5,421.3 771.5,427.4 773.8,431.2 C776.1,435.0 778.0,439.4 781.0,442.1 C784.0,444.8 788.0,447.3 792.0,447.6 C796.0,447.9 800.2,446.4 804.8,444.0 C809.4,441.6 814.5,436.8 819.4,433.0 C824.3,429.2 829.1,424.2 834.0,421.1 C838.9,418.1 843.2,416.4 848.7,414.7 C854.2,413.0 860.3,411.4 867.0,411.1 C873.7,410.8 881.6,411.5 888.9,412.9 C896.2,414.3 904.2,417.3 910.8,419.3 C917.3,421.3 925.3,423.9 928.2,424.8" stroke="#a3a5ec" stroke-width="3.2"/>
<path d="M819.4,399.2 C821.2,400.0 827.2,401.7 830.4,403.8 C833.6,405.9 837.1,409.6 838.6,412.0 C840.1,414.4 840.0,415.5 839.5,418.4 C839.0,421.3 835.9,425.6 835.9,429.3 C835.9,433.0 836.8,437.0 839.5,440.3 C842.2,443.6 850.2,447.9 852.3,449.4" stroke="#a3a5ec" stroke-width="3.2"/>
<path d="M913.6,394.6 C913.9,396.4 915.4,401.8 915.4,405.6 C915.4,409.4 913.9,415.5 913.6,417.5" stroke="#a3a5ec" stroke-width="3.2"/>
<path d="M912.7,418.8 C910.6,419.5 903.6,421.0 899.9,422.9 C896.2,424.8 892.7,425.9 890.7,430.3 C888.7,434.7 888.5,446.2 888.0,449.4" stroke="#a3a5ec" stroke-width="3.2"/>
<path d="M800.4,464.0 C799.8,466.4 798.1,474.5 796.7,478.5 C795.3,482.5 793.9,486.2 791.9,488.0 C789.9,489.8 787.4,489.2 784.6,489.5 C781.8,489.8 777.5,488.1 774.9,489.5 C772.3,490.9 770.2,494.0 768.8,498.0 C767.4,502.0 766.8,511.1 766.4,513.7" stroke="#a3a5ec" stroke-width="3.2"/>
<path d="M800.4,510.1 C800.0,512.1 799.6,518.6 798.0,522.2 C796.4,525.8 794.0,529.9 790.7,531.9 C787.5,533.9 782.1,532.8 778.5,534.4 C774.9,536.0 770.9,537.7 768.8,541.7 C766.7,545.7 766.4,555.8 765.9,558.6" stroke="#a3a5ec" stroke-width="3.2"/>
</g>
<g filter="url(#b3)" fill="none" stroke="#7c7ee2" stroke-width="2.3" stroke-linecap="round">
<path d="M76.4,512.1 C77.5,513.2 80.4,517.1 83.2,518.9 C86.0,520.7 89.8,522.9 93.4,522.9 C97.0,522.9 100.6,520.5 104.8,518.9 C109.0,517.3 114.3,514.3 118.5,513.2 C122.7,512.1 126.4,511.5 129.8,512.1 C133.2,512.7 136.1,514.7 138.9,516.6 C141.8,518.5 145.6,522.3 146.9,523.4"/>
<path d="M91.2,503.5 C91.7,505.3 93.4,511.2 94.0,514.3 C94.6,517.4 94.5,521.0 94.6,522.3"/>
<path d="M83.2,529.1 C84.3,528.8 88.2,528.4 90.0,527.4 C91.8,526.4 93.3,523.6 94.0,522.9"/>
<path d="M129.3,503.5 C128.5,504.4 125.2,506.5 124.2,508.7 C123.2,510.9 122.5,513.9 123.0,516.6 C123.5,519.3 126.3,523.7 127.0,525.1"/>
</g>
<!-- panel c -->
<clipPath id="cT"><polygon points="766.6,91.2 906.4,87.4 851.4,151.2 708.2,152.0" /></clipPath><clipPath id="cF"><polygon points="708.2,152.0 851.4,151.2 851.2,199.6 707.5,199.6" /></clipPath><clipPath id="cR"><polygon points="851.4,151.2 906.4,87.4 906.6,128.6 851.2,199.6" /></clipPath>
<g filter="url(#b3)">
<line x1="698" y1="204.3" x2="914" y2="204.3" stroke="#d4d4d4" stroke-width="1"/>
<polygon points="766.6,91.2 906.4,87.4 851.4,151.2 708.2,152.0" fill="#cb9f83"/>
<polygon points="708.2,152.0 851.4,151.2 851.2,199.6 707.5,199.6" fill="#c89a7e"/>
<polygon points="851.4,151.2 906.4,87.4 906.6,128.6 851.2,199.6" fill="#c4967a"/>
<g clip-path="url(#cT)" fill="none" stroke="#3d2416" stroke-width="1.1">
<path d="M779.7,97.8 C780.5,96.9 782.2,93.6 784.3,92.5 C786.4,91.4 789.8,90.5 792.2,91.0 C794.6,91.5 797.7,94.5 798.8,95.2"/>
<path d="M729.4,130.5 C730.8,130.7 734.7,132.3 738.0,131.5 C741.3,130.7 745.2,127.8 749.3,125.8 C753.4,123.8 759.9,120.8 762.6,119.2 C765.3,117.6 765.0,116.8 765.5,116.3"/>
<path d="M762.6,119.2 C763.1,120.8 766.8,125.8 765.5,128.6 C764.2,131.4 758.0,133.7 755.0,136.2 C752.0,138.7 749.0,141.1 747.4,143.8 C745.8,146.5 745.8,151.0 745.5,152.4"/>
<path d="M765.5,125.8 C767.2,126.6 772.6,129.9 775.9,130.5 C779.2,131.1 783.8,129.8 785.4,129.6"/>
<path d="M783.7,128.2 C784.5,126.9 786.4,121.8 788.3,120.3 C790.2,118.8 792.8,118.4 794.9,118.9 C797.0,119.5 799.5,122.0 800.8,123.6 C802.1,125.1 802.5,127.4 802.8,128.2"/>
<path d="M788.3,120.9 C789.4,119.9 793.5,116.4 794.9,115.0 C796.3,113.6 796.6,112.8 796.9,112.3"/>
<path d="M811.4,108.4 C812.6,107.4 816.1,104.7 818.6,102.4 C821.1,100.1 823.9,96.5 826.5,94.5 C829.1,92.5 831.9,91.4 834.5,90.6 C837.1,89.8 841.1,89.8 842.4,89.6"/>
<path d="M817.3,128.8 C818.4,127.3 821.0,122.2 823.9,119.6 C826.8,117.0 832.7,114.1 834.5,113.0"/>
<path d="M822.6,132.8 C824.1,132.5 828.5,130.6 831.8,130.8 C835.1,131.0 839.1,132.2 842.4,134.1 C845.7,136.0 849.4,140.0 851.6,142.0 C853.8,144.0 854.9,145.3 855.6,146.0"/>
<path d="M842.4,94.5 C843.7,93.6 847.7,89.4 850.3,89.2 C852.9,89.0 856.7,91.2 858.2,93.2 C859.7,95.2 859.7,98.6 859.5,101.1 C859.3,103.6 857.4,106.8 857.0,108.0"/>
<path d="M841.1,118.3 C841.3,119.8 840.9,124.2 842.4,127.5 C843.9,130.8 848.1,135.5 850.3,138.1 C852.5,140.7 854.7,142.4 855.6,143.3"/>
<path d="M842.4,124.9 C843.7,124.0 849.0,120.5 850.3,119.6"/>
<path d="M783.0,144.7 C783.7,145.6 784.1,149.0 787.0,150.0 C789.9,151.0 796.7,151.5 800.2,150.6 C803.7,149.7 806.8,145.7 808.1,144.7"/>
<path d="M869.4,90.0 C869.2,92.7 868.1,101.5 868.1,106.4 C868.1,111.3 869.1,115.3 869.4,119.6 C869.7,123.9 870.0,130.1 870.1,132.2"/>
<path d="M752.0,100.0 C753.7,100.7 759.3,102.0 762.0,104.0 C764.7,106.0 767.0,110.7 768.0,112.0"/>
<path d="M869.2,92.0 C870.3,91.7 873.2,90.7 876.0,90.3 C878.8,89.9 882.7,89.5 886.0,89.6 C889.3,89.7 892.9,90.3 896.0,91.0 C899.1,91.7 903.1,93.5 904.5,94.0"/>
</g>
<g clip-path="url(#cF)" fill="none" stroke="#3d2416" stroke-width="1.1">
<path d="M708.0,152.4 C710.1,153.8 717.5,157.0 720.9,160.9 C724.3,164.8 726.8,169.6 728.5,176.1 C730.2,182.6 730.8,195.9 731.3,199.9"/>
<path d="M745.5,152.4 C746.5,154.8 750.1,162.0 751.2,166.6 C752.3,171.2 753.0,174.3 752.2,179.9 C751.4,185.5 747.5,196.6 746.5,199.9"/>
<path d="M768.3,152.3 C767.2,154.7 762.8,161.4 761.7,166.6 C760.6,171.8 760.6,178.9 761.7,183.7 C762.8,188.4 765.3,192.4 768.3,195.1 C771.3,197.8 777.8,199.1 779.7,199.9"/>
<path d="M762.8,154.5 C765.0,154.1 771.2,152.2 776.2,152.3 C781.2,152.4 789.3,152.4 793.0,155.0 C796.7,157.6 797.5,160.5 798.5,168.0 C799.5,175.5 799.1,194.6 799.2,199.9"/>
<path d="M798.0,152.0 C800.3,152.7 808.1,154.2 812.0,156.0 C815.9,157.8 819.2,159.1 821.6,162.9 C824.0,166.7 825.7,172.5 826.5,178.7 C827.3,184.9 826.5,196.4 826.5,199.9"/>
<path d="M826.5,199.9 C828.6,199.3 835.5,199.3 839.3,196.4 C843.1,193.5 847.2,186.2 849.2,182.6 C851.2,179.0 850.9,176.0 851.2,174.7"/>
</g>
<g clip-path="url(#cR)" fill="none" stroke="#3d2416" stroke-width="1.1">
<path d="M868.9,128.0 C869.0,130.8 869.2,139.7 869.5,145.0 C869.8,150.3 870.8,154.7 870.9,160.0 C871.0,165.3 870.1,173.9 869.9,176.7"/>
<path d="M904.5,94.0 C903.6,95.5 901.2,100.0 899.0,103.0 C896.8,106.0 893.2,108.8 891.5,112.0 C889.8,115.2 888.8,118.3 888.5,122.0 C888.2,125.7 888.1,130.5 889.5,134.0 C890.9,137.5 895.4,141.7 896.6,143.2"/>
<path d="M851.2,152.0 C852.2,151.0 854.8,145.5 857.1,146.0 C859.4,146.5 863.0,150.9 865.0,155.0 C867.0,159.1 868.2,168.2 868.9,170.8"/>
<path d="M851.2,176.7 C852.5,176.4 856.2,175.3 859.1,174.7 C862.0,174.0 867.3,173.1 868.9,172.8"/>
</g>
<polygon points="766.6,91.2 906.4,87.4 851.4,151.2 708.2,152.0" fill="none" stroke="#3d2416" stroke-width="1.3" stroke-linejoin="round"/>
<polygon points="708.2,152.0 851.4,151.2 851.2,199.6 707.5,199.6" fill="none" stroke="#3d2416" stroke-width="1.3" stroke-linejoin="round"/>
<polygon points="851.4,151.2 906.4,87.4 906.6,128.6 851.2,199.6" fill="none" stroke="#3d2416" stroke-width="1.3" stroke-linejoin="round"/>
<polygon points="759.2,102.4 800.8,95.6 811.0,102.4 767.8,109.3" fill="#ea8c93" stroke="#c2525f" stroke-width="0.9" stroke-linejoin="round"/><polygon points="767.8,109.3 811.0,102.4 811.0,108.4 769.1,116.7" fill="#e37c86" stroke="#c2525f" stroke-width="0.9" stroke-linejoin="round"/><polygon points="759.2,102.4 767.8,109.3 769.1,116.7 761.2,109.7" fill="#da727c" stroke="#c2525f" stroke-width="0.9" stroke-linejoin="round"/>
<polygon points="778.4,128.2 822.6,129.5 815.3,137.0 769.8,136.8" fill="#ea8c93" stroke="#c2525f" stroke-width="0.9" stroke-linejoin="round"/><polygon points="769.8,136.8 815.3,137.0 814.7,144.9 769.5,144.3" fill="#e37c86" stroke="#c2525f" stroke-width="0.9" stroke-linejoin="round"/><polygon points="822.6,129.5 815.3,137.0 814.7,144.9 821.9,136.1" fill="#da727c" stroke="#c2525f" stroke-width="0.9" stroke-linejoin="round"/>
<polygon points="835.8,92.5 867.5,115.0 858.9,121.6 826.5,99.1" fill="#ea8c93" stroke="#c2525f" stroke-width="0.9" stroke-linejoin="round"/><polygon points="826.5,99.1 858.9,121.6 859.8,129.9 827.2,105.7" fill="#e37c86" stroke="#c2525f" stroke-width="0.9" stroke-linejoin="round"/><polygon points="867.5,115.0 858.9,121.6 859.8,129.9 867.5,123.6" fill="#da727c" stroke="#c2525f" stroke-width="0.9" stroke-linejoin="round"/>
<path d="M732.8,90.0 C733.0,91.1 732.5,94.2 733.8,96.4 C735.1,98.6 741.2,100.2 740.8,103.0 C740.4,105.8 730.8,110.9 731.3,113.5 C731.8,116.1 743.5,116.8 744.0,118.8 C744.5,120.8 734.0,123.7 734.2,125.2 C734.5,126.7 744.4,125.9 745.5,127.7 C746.6,129.5 742.6,134.9 741.0,136.0 C739.4,137.1 736.8,134.8 736.0,134.5" fill="none" stroke="#ee2433" stroke-width="1.6" stroke-linecap="round"/>
<polygon points="732.4,84.5 729.6,92.5 732.9,90.5 736.4,92.0" fill="#ee2433"/>
<path d="M866.4,58.0 C866.2,59.1 865.3,62.1 865.1,64.6 C864.9,67.1 865.0,70.6 865.3,72.8 C865.6,75.0 867.6,76.4 867.1,77.6 C866.6,78.8 864.3,80.2 862.0,80.0 C859.7,79.8 854.4,75.5 853.4,76.2 C852.4,76.9 854.3,82.0 856.0,84.0 C857.7,86.0 863.1,87.2 863.4,88.5 C863.7,89.8 860.3,91.9 858.0,92.0 C855.7,92.1 850.4,88.5 849.4,89.2 C848.4,89.9 850.4,94.1 852.0,96.0 C853.6,97.9 858.7,99.5 858.9,100.8 C859.1,102.0 855.2,103.6 853.0,103.5 C850.8,103.4 846.4,99.6 845.9,100.1 C845.4,100.5 849.6,105.2 850.3,106.2" fill="none" stroke="#3c5fca" stroke-width="1.7" stroke-linecap="round"/>
<polygon points="867.3,51.5 863.0,60.2 866.2,58.5 868.6,60.0" fill="#3c5fca"/>
<line x1="913.5" y1="98.0" x2="879.7" y2="109.9" stroke="#111" stroke-width="1.5"/><polygon points="872.6,112.4 878.6,106.9 880.7,112.9" fill="#111"/>
<line x1="914.3" y1="165.9" x2="882.0" y2="155.7" stroke="#111" stroke-width="1.5"/><polygon points="874.9,153.4 883.0,152.6 881.1,158.7" fill="#111"/>
</g>
<g font-family="'Liberation Sans', Arial, sans-serif" font-weight="700" filter="url(#b3)">
<text x="710.6" y="33.6" font-size="25" fill="#111" stroke="#111" stroke-width="0.3">c</text>
<text x="833.5" y="44.9" font-size="10.35" fill="#4a70d2">Emission from 2D</text>
<text x="715" y="75" font-size="10.35" fill="#cc1424">Emission from 3D</text>
<text x="869" y="73.9" font-size="10.3" fill="#4a70d2">hv</text>
<text x="719" y="104.4" font-size="10.3" fill="#cc1424">hv</text>
<text x="916.5" y="99.5" font-size="10.8" fill="#111">2D</text>
<text x="914" y="170.8" font-size="10.8" fill="#111">3D</text>
</g>
<!-- panel b -->
<g filter="url(#b3)">
<g><polygon points="357.0,11.4 338.0,34.6 357.0,61.8 376.5,36.6" fill="#a6a6a6" fill-opacity="1"/><polygon points="357.0,11.4 338.0,34.6 357.0,61.8 347.5,36.6" fill="#bababa" fill-opacity="1"/><polygon points="366.5,11.4 353.0,36.6 366.5,61.8 384.3,34.6" fill="#a9a9a9" fill-opacity="1"/><polygon points="366.5,11.4 353.0,36.6 366.5,61.8" fill="#a2a2a2" fill-opacity="1"/><polygon points="366.5,11.4 375.5,35.6 366.5,61.8" fill="#9e9e9e" fill-opacity="1"/><polygon points="365.0,13.4 348.0,36.1 365.0,59.8 356.0,36.6" fill="#5a5a5a" fill-opacity="1"/><polygon points="365.0,13.4 356.0,36.6 365.0,59.8 359.0,36.6" fill="#868686" fill-opacity="1"/><path d="M366.5,23.6V49.6M359.5,36.6H377.5" stroke="#7d8fc8" stroke-width="1" fill="none"/><path d="M366.5,11.400000000000002V23.6M366.5,49.6V61.8M377.5,36.6H383.5" stroke="#d4a0c4" stroke-width="1" fill="none"/><path d="M357.0,11.400000000000002V61.8" stroke="#d8b0cc" stroke-width="0.9" fill="none"/><circle cx="366.5" cy="36.6" r="5.3" fill="url(#gPb)"/><polygon points="396.6,11.4 383.0,33.6 396.6,61.8 414.6,33.6" fill="#acacac" fill-opacity="1"/><polygon points="396.6,11.4 405.6,35.6 396.6,61.8" fill="#a3a3a3" fill-opacity="1"/><path d="M396.6,23.6V49.6M389.6,36.6H407.6" stroke="#d89a8c" stroke-width="1" fill="none"/><path d="M396.6,11.400000000000002V23.6M396.6,49.6V61.8M407.6,36.6H413.6" stroke="#d4a0c4" stroke-width="1" fill="none"/><circle cx="396.6" cy="36.6" r="5.3" fill="url(#gSnb)"/><polygon points="427.2,11.4 408.2,34.6 427.2,61.8 446.7,36.6" fill="#a6a6a6" fill-opacity="1"/><polygon points="427.2,11.4 408.2,34.6 427.2,61.8 417.7,36.6" fill="#bababa" fill-opacity="1"/><polygon points="436.7,11.4 423.2,36.6 436.7,61.8 454.5,34.6" fill="#a9a9a9" fill-opacity="1"/><polygon points="436.7,11.4 423.2,36.6 436.7,61.8" fill="#a2a2a2" fill-opacity="1"/><polygon points="436.7,11.4 445.7,35.6 436.7,61.8" fill="#9e9e9e" fill-opacity="1"/><polygon points="435.2,13.4 418.2,36.1 435.2,59.8 426.2,36.6" fill="#5a5a5a" fill-opacity="1"/><polygon points="435.2,13.4 426.2,36.6 435.2,59.8 429.2,36.6" fill="#868686" fill-opacity="1"/><path d="M436.7,23.6V49.6M429.7,36.6H447.7" stroke="#7d8fc8" stroke-width="1" fill="none"/><path d="M436.7,11.400000000000002V23.6M436.7,49.6V61.8M447.7,36.6H453.7" stroke="#d4a0c4" stroke-width="1" fill="none"/><path d="M427.2,11.400000000000002V61.8" stroke="#d8b0cc" stroke-width="0.9" fill="none"/><circle cx="436.7" cy="36.6" r="5.3" fill="url(#gPb)"/><polygon points="357.0,61.8 338.5,85.0 357.0,112.2 372.5,87.0" fill="#c6c6c6" fill-opacity="1"/><polygon points="366.5,61.8 345.5,87.0 366.5,112.2 383.0,85.0" fill="#a9a9a9" fill-opacity="1"/><polygon points="366.5,61.8 345.5,87.0 366.5,112.2 357.5,87.0" fill="#b2b2b2" fill-opacity="1"/><polygon points="366.5,61.8 375.5,86.0 366.5,112.2" fill="#9f9f9f" fill-opacity="1"/><path d="M366.5,74.0V100.0M359.5,87.0H377.5" stroke="#d89a8c" stroke-width="1" fill="none"/><path d="M366.5,61.8V74.0M366.5,100.0V112.2M377.5,87.0H383.5" stroke="#d4a0c4" stroke-width="1" fill="none"/><path d="M357.0,61.8V112.2" stroke="#d8b0cc" stroke-width="0.9" fill="none"/><circle cx="366.5" cy="87.0" r="5.3" fill="url(#gSnb)"/><polygon points="396.6,61.8 383.0,84.0 396.6,112.2 414.6,84.0" fill="#acacac" fill-opacity="1"/><polygon points="396.1,62.8 381.2,83.0 387.6,86.0" fill="#5a5a5a" fill-opacity="1"/><polygon points="396.1,111.2 381.6,90.0 387.6,88.0" fill="#5a5a5a" fill-opacity="1"/><polygon points="396.6,61.8 405.6,86.0 396.6,112.2" fill="#a3a3a3" fill-opacity="1"/><path d="M396.6,74.0V100.0M389.6,87.0H407.6" stroke="#7d8fc8" stroke-width="1" fill="none"/><path d="M396.6,61.8V74.0M396.6,100.0V112.2M407.6,87.0H413.6" stroke="#d4a0c4" stroke-width="1" fill="none"/><circle cx="396.6" cy="87.0" r="5.3" fill="url(#gPb)"/><polygon points="427.2,61.8 408.7,85.0 427.2,112.2 442.7,87.0" fill="#c6c6c6" fill-opacity="1"/><polygon points="436.7,61.8 415.7,87.0 436.7,112.2 453.2,85.0" fill="#a9a9a9" fill-opacity="1"/><polygon points="436.7,61.8 415.7,87.0 436.7,112.2 427.7,87.0" fill="#b2b2b2" fill-opacity="1"/><polygon points="436.7,61.8 445.7,86.0 436.7,112.2" fill="#9f9f9f" fill-opacity="1"/><path d="M436.7,74.0V100.0M429.7,87.0H447.7" stroke="#d89a8c" stroke-width="1" fill="none"/><path d="M436.7,61.8V74.0M436.7,100.0V112.2M447.7,87.0H453.7" stroke="#d4a0c4" stroke-width="1" fill="none"/><path d="M427.2,61.8V112.2" stroke="#d8b0cc" stroke-width="0.9" fill="none"/><circle cx="436.7" cy="87.0" r="5.3" fill="url(#gSnb)"/><circle cx="357.1" cy="11.4" r="3.8" fill="url(#gIb)"/><circle cx="366.5" cy="11.4" r="4" fill="url(#gI)"/><circle cx="396.6" cy="11.4" r="4" fill="url(#gI)"/><circle cx="427.2" cy="11.4" r="3.8" fill="url(#gIb)"/><circle cx="436.7" cy="11.4" r="4" fill="url(#gI)"/><circle cx="357.1" cy="62.1" r="3.8" fill="url(#gIb)"/><circle cx="366.5" cy="62.1" r="4" fill="url(#gI)"/><circle cx="396.6" cy="62.1" r="4" fill="url(#gI)"/><circle cx="427.2" cy="62.1" r="3.8" fill="url(#gIb)"/><circle cx="436.7" cy="62.1" r="4" fill="url(#gI)"/><circle cx="357.1" cy="112.4" r="3.8" fill="url(#gIb)"/><circle cx="366.5" cy="112.4" r="4" fill="url(#gI)"/><circle cx="396.6" cy="112.4" r="4" fill="url(#gI)"/><circle cx="427.2" cy="112.4" r="3.8" fill="url(#gIb)"/><circle cx="436.7" cy="112.4" r="4" fill="url(#gI)"/><circle cx="335.4" cy="36.4" r="3.8" fill="url(#gIb)"/><circle cx="344.4" cy="36.7" r="4" fill="url(#gI)"/><circle cx="353.5" cy="36.7" r="4" fill="url(#gI)"/><circle cx="379.3" cy="36.6" r="2.6" fill="#c58fb6" fill-opacity="0.75"/><circle cx="387.9" cy="36.7" r="4" fill="url(#gI)"/><circle cx="414.8" cy="36.7" r="4" fill="url(#gI)"/><circle cx="423.3" cy="36.7" r="4" fill="url(#gI)"/><circle cx="449.3" cy="36.6" r="2.6" fill="#c58fb6" fill-opacity="0.75"/><circle cx="458.2" cy="36.7" r="4" fill="url(#gI)"/><circle cx="339.3" cy="86.7" r="3.8" fill="url(#gIb)"/><circle cx="349.0" cy="87" r="4" fill="url(#gI)"/><circle cx="384.8" cy="87" r="4" fill="url(#gI)"/><circle cx="409.7" cy="86.3" r="2.6" fill="#c58fb6" fill-opacity="0.75"/><circle cx="418.9" cy="87" r="4" fill="url(#gI)"/><circle cx="448" cy="86.5" r="2.6" fill="#c58fb6" fill-opacity="0.75"/><circle cx="454.8" cy="87" r="4" fill="url(#gI)"/><circle cx="376" cy="86.5" r="2.6" fill="#c58fb6" fill-opacity="0.75"/><circle cx="388.7" cy="14.5" r="2" fill="#fff" stroke="#d0d0d0" stroke-width="0.6"/><circle cx="404.5" cy="14.8" r="2" fill="#fff" stroke="#d0d0d0" stroke-width="0.6"/><circle cx="428.3" cy="14.2" r="2" fill="#fff" stroke="#d0d0d0" stroke-width="0.6"/><circle cx="397.6" cy="65.2" r="2" fill="#fff" stroke="#d0d0d0" stroke-width="0.6"/><circle cx="428.8" cy="65" r="2" fill="#fff" stroke="#d0d0d0" stroke-width="0.6"/></g>
<g transform="translate(181.5,0)"><polygon points="357.0,11.4 338.0,34.6 357.0,61.8 376.5,36.6" fill="#a6a6a6" fill-opacity="1"/><polygon points="357.0,11.4 338.0,34.6 357.0,61.8 347.5,36.6" fill="#bababa" fill-opacity="1"/><polygon points="366.5,11.4 353.0,36.6 366.5,61.8 384.3,34.6" fill="#a9a9a9" fill-opacity="1"/><polygon points="366.5,11.4 353.0,36.6 366.5,61.8" fill="#a2a2a2" fill-opacity="1"/><polygon points="366.5,11.4 375.5,35.6 366.5,61.8" fill="#9e9e9e" fill-opacity="1"/><polygon points="365.0,13.4 348.0,36.1 365.0,59.8 356.0,36.6" fill="#5a5a5a" fill-opacity="1"/><polygon points="365.0,13.4 356.0,36.6 365.0,59.8 359.0,36.6" fill="#868686" fill-opacity="1"/><path d="M366.5,23.6V49.6M359.5,36.6H377.5" stroke="#7d8fc8" stroke-width="1" fill="none"/><path d="M366.5,11.400000000000002V23.6M366.5,49.6V61.8M377.5,36.6H383.5" stroke="#d4a0c4" stroke-width="1" fill="none"/><path d="M357.0,11.400000000000002V61.8" stroke="#d8b0cc" stroke-width="0.9" fill="none"/><circle cx="366.5" cy="36.6" r="5.3" fill="url(#gPb)"/><polygon points="396.6,11.4 383.0,33.6 396.6,61.8 414.6,33.6" fill="#acacac" fill-opacity="1"/><polygon points="396.6,11.4 405.6,35.6 396.6,61.8" fill="#a3a3a3" fill-opacity="1"/><path d="M396.6,23.6V49.6M389.6,36.6H407.6" stroke="#d89a8c" stroke-width="1" fill="none"/><path d="M396.6,11.400000000000002V23.6M396.6,49.6V61.8M407.6,36.6H413.6" stroke="#d4a0c4" stroke-width="1" fill="none"/><circle cx="396.6" cy="36.6" r="5.3" fill="url(#gSnb)"/><polygon points="427.2,11.4 408.2,34.6 427.2,61.8 446.7,36.6" fill="#a6a6a6" fill-opacity="1"/><polygon points="427.2,11.4 408.2,34.6 427.2,61.8 417.7,36.6" fill="#bababa" fill-opacity="1"/><polygon points="436.7,11.4 423.2,36.6 436.7,61.8 454.5,34.6" fill="#a9a9a9" fill-opacity="1"/><polygon points="436.7,11.4 423.2,36.6 436.7,61.8" fill="#a2a2a2" fill-opacity="1"/><polygon points="436.7,11.4 445.7,35.6 436.7,61.8" fill="#9e9e9e" fill-opacity="1"/><polygon points="435.2,13.4 418.2,36.1 435.2,59.8 426.2,36.6" fill="#5a5a5a" fill-opacity="1"/><polygon points="435.2,13.4 426.2,36.6 435.2,59.8 429.2,36.6" fill="#868686" fill-opacity="1"/><path d="M436.7,23.6V49.6M429.7,36.6H447.7" stroke="#7d8fc8" stroke-width="1" fill="none"/><path d="M436.7,11.400000000000002V23.6M436.7,49.6V61.8M447.7,36.6H453.7" stroke="#d4a0c4" stroke-width="1" fill="none"/><path d="M427.2,11.400000000000002V61.8" stroke="#d8b0cc" stroke-width="0.9" fill="none"/><circle cx="436.7" cy="36.6" r="5.3" fill="url(#gPb)"/><polygon points="357.0,61.8 338.5,85.0 357.0,112.2 372.5,87.0" fill="#c6c6c6" fill-opacity="1"/><polygon points="366.5,61.8 345.5,87.0 366.5,112.2 383.0,85.0" fill="#a9a9a9" fill-opacity="1"/><polygon points="366.5,61.8 345.5,87.0 366.5,112.2 357.5,87.0" fill="#b2b2b2" fill-opacity="1"/><polygon points="366.5,61.8 375.5,86.0 366.5,112.2" fill="#9f9f9f" fill-opacity="1"/><path d="M366.5,74.0V100.0M359.5,87.0H377.5" stroke="#d89a8c" stroke-width="1" fill="none"/><path d="M366.5,61.8V74.0M366.5,100.0V112.2M377.5,87.0H383.5" stroke="#d4a0c4" stroke-width="1" fill="none"/><path d="M357.0,61.8V112.2" stroke="#d8b0cc" stroke-width="0.9" fill="none"/><circle cx="366.5" cy="87.0" r="5.3" fill="url(#gSnb)"/><polygon points="396.6,61.8 383.0,84.0 396.6,112.2 414.6,84.0" fill="#acacac" fill-opacity="1"/><polygon points="396.1,62.8 381.2,83.0 387.6,86.0" fill="#5a5a5a" fill-opacity="1"/><polygon points="396.1,111.2 381.6,90.0 387.6,88.0" fill="#5a5a5a" fill-opacity="1"/><polygon points="396.6,61.8 405.6,86.0 396.6,112.2" fill="#a3a3a3" fill-opacity="1"/><path d="M396.6,74.0V100.0M389.6,87.0H407.6" stroke="#7d8fc8" stroke-width="1" fill="none"/><path d="M396.6,61.8V74.0M396.6,100.0V112.2M407.6,87.0H413.6" stroke="#d4a0c4" stroke-width="1" fill="none"/><circle cx="396.6" cy="87.0" r="5.3" fill="url(#gPb)"/><polygon points="427.2,61.8 408.7,85.0 427.2,112.2 442.7,87.0" fill="#c6c6c6" fill-opacity="1"/><polygon points="436.7,61.8 415.7,87.0 436.7,112.2 453.2,85.0" fill="#a9a9a9" fill-opacity="1"/><polygon points="436.7,61.8 415.7,87.0 436.7,112.2 427.7,87.0" fill="#b2b2b2" fill-opacity="1"/><polygon points="436.7,61.8 445.7,86.0 436.7,112.2" fill="#9f9f9f" fill-opacity="1"/><path d="M436.7,74.0V100.0M429.7,87.0H447.7" stroke="#d89a8c" stroke-width="1" fill="none"/><path d="M436.7,61.8V74.0M436.7,100.0V112.2M447.7,87.0H453.7" stroke="#d4a0c4" stroke-width="1" fill="none"/><path d="M427.2,61.8V112.2" stroke="#d8b0cc" stroke-width="0.9" fill="none"/><circle cx="436.7" cy="87.0" r="5.3" fill="url(#gSnb)"/><circle cx="357.1" cy="11.4" r="3.8" fill="url(#gIb)"/><circle cx="366.5" cy="11.4" r="4" fill="url(#gI)"/><circle cx="396.6" cy="11.4" r="4" fill="url(#gI)"/><circle cx="427.2" cy="11.4" r="3.8" fill="url(#gIb)"/><circle cx="436.7" cy="11.4" r="4" fill="url(#gI)"/><circle cx="357.1" cy="62.1" r="3.8" fill="url(#gIb)"/><circle cx="366.5" cy="62.1" r="4" fill="url(#gI)"/><circle cx="396.6" cy="62.1" r="4" fill="url(#gI)"/><circle cx="427.2" cy="62.1" r="3.8" fill="url(#gIb)"/><circle cx="436.7" cy="62.1" r="4" fill="url(#gI)"/><circle cx="357.1" cy="112.4" r="3.8" fill="url(#gIb)"/><circle cx="366.5" cy="112.4" r="4" fill="url(#gI)"/><circle cx="396.6" cy="112.4" r="4" fill="url(#gI)"/><circle cx="427.2" cy="112.4" r="3.8" fill="url(#gIb)"/><circle cx="436.7" cy="112.4" r="4" fill="url(#gI)"/><circle cx="335.4" cy="36.4" r="3.8" fill="url(#gIb)"/><circle cx="344.4" cy="36.7" r="4" fill="url(#gI)"/><circle cx="353.5" cy="36.7" r="4" fill="url(#gI)"/><circle cx="379.3" cy="36.6" r="2.6" fill="#c58fb6" fill-opacity="0.75"/><circle cx="387.9" cy="36.7" r="4" fill="url(#gI)"/><circle cx="414.8" cy="36.7" r="4" fill="url(#gI)"/><circle cx="423.3" cy="36.7" r="4" fill="url(#gI)"/><circle cx="449.3" cy="36.6" r="2.6" fill="#c58fb6" fill-opacity="0.75"/><circle cx="458.2" cy="36.7" r="4" fill="url(#gI)"/><circle cx="339.3" cy="86.7" r="3.8" fill="url(#gIb)"/><circle cx="349.0" cy="87" r="4" fill="url(#gI)"/><circle cx="384.8" cy="87" r="4" fill="url(#gI)"/><circle cx="409.7" cy="86.3" r="2.6" fill="#c58fb6" fill-opacity="0.75"/><circle cx="418.9" cy="87" r="4" fill="url(#gI)"/><circle cx="448" cy="86.5" r="2.6" fill="#c58fb6" fill-opacity="0.75"/><circle cx="454.8" cy="87" r="4" fill="url(#gI)"/><circle cx="376" cy="86.5" r="2.6" fill="#c58fb6" fill-opacity="0.75"/><circle cx="388.7" cy="14.5" r="2" fill="#fff" stroke="#d0d0d0" stroke-width="0.6"/><circle cx="404.5" cy="14.8" r="2" fill="#fff" stroke="#d0d0d0" stroke-width="0.6"/><circle cx="428.3" cy="14.2" r="2" fill="#fff" stroke="#d0d0d0" stroke-width="0.6"/><circle cx="397.6" cy="65.2" r="2" fill="#fff" stroke="#d0d0d0" stroke-width="0.6"/><circle cx="428.8" cy="65" r="2" fill="#fff" stroke="#d0d0d0" stroke-width="0.6"/></g>
<line x1="337.2" y1="137.2" x2="337.8" y2="141.1" stroke="#dfa69a" stroke-width="0.8" stroke-linecap="round"/><line x1="337.2" y1="137.2" x2="333.9" y2="139.3" stroke="#dfa69a" stroke-width="0.8" stroke-linecap="round"/><line x1="337.2" y1="137.2" x2="333.9" y2="135.1" stroke="#dfa69a" stroke-width="0.8" stroke-linecap="round"/><line x1="357.5" y1="138.3" x2="361.2" y2="136.9" stroke="#dfa69a" stroke-width="0.8" stroke-linecap="round"/><line x1="357.5" y1="138.3" x2="360.2" y2="141.1" stroke="#dfa69a" stroke-width="0.8" stroke-linecap="round"/><line x1="357.5" y1="138.3" x2="356.1" y2="141.9" stroke="#dfa69a" stroke-width="0.8" stroke-linecap="round"/><line x1="352.6" y1="126.1" x2="352.2" y2="122.2" stroke="#dfa69a" stroke-width="0.8" stroke-linecap="round"/><line x1="352.6" y1="126.1" x2="356.5" y2="126.5" stroke="#dfa69a" stroke-width="0.8" stroke-linecap="round"/><line x1="346.4" y1="119.6" x2="341.8" y2="119.1" stroke="#b4b9e2" stroke-width="0.8" stroke-linecap="round"/><line x1="346.4" y1="119.6" x2="345.3" y2="115.1" stroke="#b4b9e2" stroke-width="0.8" stroke-linecap="round"/><line x1="346.4" y1="119.6" x2="350.1" y2="116.9" stroke="#b4b9e2" stroke-width="0.8" stroke-linecap="round"/><line x1="346.4" y1="119.6" x2="347.7" y2="124.6" stroke="#8c9bd6" stroke-width="1.6" stroke-linecap="round"/><line x1="347.7" y1="124.6" x2="349.0" y2="129.7" stroke="#9c5a34" stroke-width="1.6" stroke-linecap="round"/><line x1="349.0" y1="129.7" x2="337.2" y2="137.2" stroke="#9c5a34" stroke-width="1.75" stroke-linecap="round"/><line x1="349.0" y1="129.7" x2="357.5" y2="138.3" stroke="#9c5a34" stroke-width="1.75" stroke-linecap="round"/><line x1="349.0" y1="129.7" x2="352.6" y2="126.1" stroke="#9c5a34" stroke-width="1.75" stroke-linecap="round"/><circle cx="337.8" cy="141.1" r="1.3" fill="#fff2ee" stroke="#e69a90" stroke-width="0.6"/><circle cx="333.9" cy="139.3" r="1.3" fill="#fff2ee" stroke="#e69a90" stroke-width="0.6"/><circle cx="333.9" cy="135.1" r="1.3" fill="#fff2ee" stroke="#e69a90" stroke-width="0.6"/><circle cx="361.2" cy="136.9" r="1.3" fill="#fff2ee" stroke="#e69a90" stroke-width="0.6"/><circle cx="360.2" cy="141.1" r="1.3" fill="#fff2ee" stroke="#e69a90" stroke-width="0.6"/><circle cx="356.1" cy="141.9" r="1.3" fill="#fff2ee" stroke="#e69a90" stroke-width="0.6"/><circle cx="352.2" cy="122.2" r="1.3" fill="#fff2ee" stroke="#e69a90" stroke-width="0.6"/><circle cx="356.5" cy="126.5" r="1.3" fill="#fff2ee" stroke="#e69a90" stroke-width="0.6"/><circle cx="341.8" cy="119.1" r="1.3" fill="#fff2ee" stroke="#e69a90" stroke-width="0.6"/><circle cx="345.3" cy="115.1" r="1.3" fill="#fff2ee" stroke="#e69a90" stroke-width="0.6"/><circle cx="350.1" cy="116.9" r="1.3" fill="#fff2ee" stroke="#e69a90" stroke-width="0.6"/><circle cx="337.2" cy="137.2" r="2.35" fill="#9c5a34"/><circle cx="337.2" cy="137.2" r="0.7" fill="#d8b29a"/><circle cx="357.5" cy="138.3" r="2.35" fill="#9c5a34"/><circle cx="357.5" cy="138.3" r="0.7" fill="#d8b29a"/><circle cx="352.6" cy="126.1" r="2.35" fill="#9c5a34"/><circle cx="352.6" cy="126.1" r="0.7" fill="#d8b29a"/><circle cx="349.0" cy="129.7" r="2.35" fill="#9c5a34"/><circle cx="349.0" cy="129.7" r="0.7" fill="#d8b29a"/><circle cx="346.4" cy="119.6" r="1.9" fill="#eef0fb" stroke="#8795d4" stroke-width="0.9"/>
<line x1="385.9" y1="133.9" x2="385.2" y2="137.7" stroke="#dfa69a" stroke-width="0.8" stroke-linecap="round"/><line x1="385.9" y1="133.9" x2="382.1" y2="134.8" stroke="#dfa69a" stroke-width="0.8" stroke-linecap="round"/><line x1="385.9" y1="133.9" x2="383.5" y2="130.8" stroke="#dfa69a" stroke-width="0.8" stroke-linecap="round"/><line x1="404.6" y1="141.1" x2="408.5" y2="141.0" stroke="#dfa69a" stroke-width="0.8" stroke-linecap="round"/><line x1="404.6" y1="141.1" x2="406.3" y2="144.6" stroke="#dfa69a" stroke-width="0.8" stroke-linecap="round"/><line x1="404.6" y1="141.1" x2="402.1" y2="144.1" stroke="#dfa69a" stroke-width="0.8" stroke-linecap="round"/><line x1="403.8" y1="129.4" x2="405.2" y2="125.8" stroke="#dfa69a" stroke-width="0.8" stroke-linecap="round"/><line x1="403.8" y1="129.4" x2="407.0" y2="131.6" stroke="#dfa69a" stroke-width="0.8" stroke-linecap="round"/><line x1="400.5" y1="119.9" x2="396.3" y2="117.9" stroke="#b4b9e2" stroke-width="0.8" stroke-linecap="round"/><line x1="400.5" y1="119.9" x2="400.8" y2="115.3" stroke="#b4b9e2" stroke-width="0.8" stroke-linecap="round"/><line x1="400.5" y1="119.9" x2="404.9" y2="118.6" stroke="#b4b9e2" stroke-width="0.8" stroke-linecap="round"/><line x1="400.5" y1="119.9" x2="400.1" y2="125.3" stroke="#8c9bd6" stroke-width="1.6" stroke-linecap="round"/><line x1="400.1" y1="125.3" x2="399.7" y2="130.7" stroke="#9c5a34" stroke-width="1.6" stroke-linecap="round"/><line x1="399.7" y1="130.7" x2="385.9" y2="133.9" stroke="#9c5a34" stroke-width="1.75" stroke-linecap="round"/><line x1="399.7" y1="130.7" x2="404.6" y2="141.1" stroke="#9c5a34" stroke-width="1.75" stroke-linecap="round"/><line x1="399.7" y1="130.7" x2="403.8" y2="129.4" stroke="#9c5a34" stroke-width="1.75" stroke-linecap="round"/><circle cx="385.2" cy="137.7" r="1.3" fill="#fff2ee" stroke="#e69a90" stroke-width="0.6"/><circle cx="382.1" cy="134.8" r="1.3" fill="#fff2ee" stroke="#e69a90" stroke-width="0.6"/><circle cx="383.5" cy="130.8" r="1.3" fill="#fff2ee" stroke="#e69a90" stroke-width="0.6"/><circle cx="408.5" cy="141.0" r="1.3" fill="#fff2ee" stroke="#e69a90" stroke-width="0.6"/><circle cx="406.3" cy="144.6" r="1.3" fill="#fff2ee" stroke="#e69a90" stroke-width="0.6"/><circle cx="402.1" cy="144.1" r="1.3" fill="#fff2ee" stroke="#e69a90" stroke-width="0.6"/><circle cx="405.2" cy="125.8" r="1.3" fill="#fff2ee" stroke="#e69a90" stroke-width="0.6"/><circle cx="407.0" cy="131.6" r="1.3" fill="#fff2ee" stroke="#e69a90" stroke-width="0.6"/><circle cx="396.3" cy="117.9" r="1.3" fill="#fff2ee" stroke="#e69a90" stroke-width="0.6"/><circle cx="400.8" cy="115.3" r="1.3" fill="#fff2ee" stroke="#e69a90" stroke-width="0.6"/><circle cx="404.9" cy="118.6" r="1.3" fill="#fff2ee" stroke="#e69a90" stroke-width="0.6"/><circle cx="385.9" cy="133.9" r="2.35" fill="#9c5a34"/><circle cx="385.9" cy="133.9" r="0.7" fill="#d8b29a"/><circle cx="404.6" cy="141.1" r="2.35" fill="#9c5a34"/><circle cx="404.6" cy="141.1" r="0.7" fill="#d8b29a"/><circle cx="403.8" cy="129.4" r="2.35" fill="#9c5a34"/><circle cx="403.8" cy="129.4" r="0.7" fill="#d8b29a"/><circle cx="399.7" cy="130.7" r="2.35" fill="#9c5a34"/><circle cx="399.7" cy="130.7" r="0.7" fill="#d8b29a"/><circle cx="400.5" cy="119.9" r="1.9" fill="#eef0fb" stroke="#8795d4" stroke-width="0.9"/>
<line x1="445.2" y1="139.9" x2="447.2" y2="143.3" stroke="#dfa69a" stroke-width="0.8" stroke-linecap="round"/><line x1="445.2" y1="139.9" x2="442.9" y2="143.1" stroke="#dfa69a" stroke-width="0.8" stroke-linecap="round"/><line x1="445.2" y1="139.9" x2="441.4" y2="139.1" stroke="#dfa69a" stroke-width="0.8" stroke-linecap="round"/><line x1="463.9" y1="132.9" x2="466.6" y2="130.1" stroke="#dfa69a" stroke-width="0.8" stroke-linecap="round"/><line x1="463.9" y1="132.9" x2="467.6" y2="134.2" stroke="#dfa69a" stroke-width="0.8" stroke-linecap="round"/><line x1="463.9" y1="132.9" x2="464.2" y2="136.8" stroke="#dfa69a" stroke-width="0.8" stroke-linecap="round"/><line x1="455.0" y1="124.5" x2="453.2" y2="121.0" stroke="#dfa69a" stroke-width="0.8" stroke-linecap="round"/><line x1="455.0" y1="124.5" x2="458.8" y2="123.5" stroke="#dfa69a" stroke-width="0.8" stroke-linecap="round"/><line x1="446.0" y1="120.4" x2="441.6" y2="121.8" stroke="#b4b9e2" stroke-width="0.8" stroke-linecap="round"/><line x1="446.0" y1="120.4" x2="443.1" y2="116.8" stroke="#b4b9e2" stroke-width="0.8" stroke-linecap="round"/><line x1="446.0" y1="120.4" x2="448.3" y2="116.4" stroke="#b4b9e2" stroke-width="0.8" stroke-linecap="round"/><line x1="446.0" y1="120.4" x2="449.5" y2="124.7" stroke="#8c9bd6" stroke-width="1.6" stroke-linecap="round"/><line x1="449.5" y1="124.7" x2="453.0" y2="129.0" stroke="#9c5a34" stroke-width="1.6" stroke-linecap="round"/><line x1="453.0" y1="129.0" x2="445.2" y2="139.9" stroke="#9c5a34" stroke-width="1.75" stroke-linecap="round"/><line x1="453.0" y1="129.0" x2="463.9" y2="132.9" stroke="#9c5a34" stroke-width="1.75" stroke-linecap="round"/><line x1="453.0" y1="129.0" x2="455.0" y2="124.5" stroke="#9c5a34" stroke-width="1.75" stroke-linecap="round"/><circle cx="447.2" cy="143.3" r="1.3" fill="#fff2ee" stroke="#e69a90" stroke-width="0.6"/><circle cx="442.9" cy="143.1" r="1.3" fill="#fff2ee" stroke="#e69a90" stroke-width="0.6"/><circle cx="441.4" cy="139.1" r="1.3" fill="#fff2ee" stroke="#e69a90" stroke-width="0.6"/><circle cx="466.6" cy="130.1" r="1.3" fill="#fff2ee" stroke="#e69a90" stroke-width="0.6"/><circle cx="467.6" cy="134.2" r="1.3" fill="#fff2ee" stroke="#e69a90" stroke-width="0.6"/><circle cx="464.2" cy="136.8" r="1.3" fill="#fff2ee" stroke="#e69a90" stroke-width="0.6"/><circle cx="453.2" cy="121.0" r="1.3" fill="#fff2ee" stroke="#e69a90" stroke-width="0.6"/><circle cx="458.8" cy="123.5" r="1.3" fill="#fff2ee" stroke="#e69a90" stroke-width="0.6"/><circle cx="441.6" cy="121.8" r="1.3" fill="#fff2ee" stroke="#e69a90" stroke-width="0.6"/><circle cx="443.1" cy="116.8" r="1.3" fill="#fff2ee" stroke="#e69a90" stroke-width="0.6"/><circle cx="448.3" cy="116.4" r="1.3" fill="#fff2ee" stroke="#e69a90" stroke-width="0.6"/><circle cx="445.2" cy="139.9" r="2.35" fill="#9c5a34"/><circle cx="445.2" cy="139.9" r="0.7" fill="#d8b29a"/><circle cx="463.9" cy="132.9" r="2.35" fill="#9c5a34"/><circle cx="463.9" cy="132.9" r="0.7" fill="#d8b29a"/><circle cx="455.0" cy="124.5" r="2.35" fill="#9c5a34"/><circle cx="455.0" cy="124.5" r="0.7" fill="#d8b29a"/><circle cx="453.0" cy="129.0" r="2.35" fill="#9c5a34"/><circle cx="453.0" cy="129.0" r="0.7" fill="#d8b29a"/><circle cx="446.0" cy="120.4" r="1.9" fill="#eef0fb" stroke="#8795d4" stroke-width="0.9"/>
<line x1="513.0" y1="137.5" x2="513.5" y2="141.4" stroke="#dfa69a" stroke-width="0.8" stroke-linecap="round"/><line x1="513.0" y1="137.5" x2="509.7" y2="139.6" stroke="#dfa69a" stroke-width="0.8" stroke-linecap="round"/><line x1="513.0" y1="137.5" x2="509.8" y2="135.3" stroke="#dfa69a" stroke-width="0.8" stroke-linecap="round"/><line x1="533.3" y1="138.8" x2="536.9" y2="137.4" stroke="#dfa69a" stroke-width="0.8" stroke-linecap="round"/><line x1="533.3" y1="138.8" x2="536.1" y2="141.6" stroke="#dfa69a" stroke-width="0.8" stroke-linecap="round"/><line x1="533.3" y1="138.8" x2="531.9" y2="142.4" stroke="#dfa69a" stroke-width="0.8" stroke-linecap="round"/><line x1="528.4" y1="126.9" x2="528.2" y2="123.0" stroke="#dfa69a" stroke-width="0.8" stroke-linecap="round"/><line x1="528.4" y1="126.9" x2="532.2" y2="127.6" stroke="#dfa69a" stroke-width="0.8" stroke-linecap="round"/><line x1="522.4" y1="120.4" x2="517.8" y2="119.8" stroke="#b4b9e2" stroke-width="0.8" stroke-linecap="round"/><line x1="522.4" y1="120.4" x2="521.3" y2="115.9" stroke="#b4b9e2" stroke-width="0.8" stroke-linecap="round"/><line x1="522.4" y1="120.4" x2="526.2" y2="117.8" stroke="#b4b9e2" stroke-width="0.8" stroke-linecap="round"/><line x1="522.4" y1="120.4" x2="523.5" y2="125.3" stroke="#8c9bd6" stroke-width="1.6" stroke-linecap="round"/><line x1="523.5" y1="125.3" x2="524.7" y2="130.2" stroke="#9c5a34" stroke-width="1.6" stroke-linecap="round"/><line x1="524.7" y1="130.2" x2="513.0" y2="137.5" stroke="#9c5a34" stroke-width="1.75" stroke-linecap="round"/><line x1="524.7" y1="130.2" x2="533.3" y2="138.8" stroke="#9c5a34" stroke-width="1.75" stroke-linecap="round"/><line x1="524.7" y1="130.2" x2="528.4" y2="126.9" stroke="#9c5a34" stroke-width="1.75" stroke-linecap="round"/><circle cx="513.5" cy="141.4" r="1.3" fill="#fff2ee" stroke="#e69a90" stroke-width="0.6"/><circle cx="509.7" cy="139.6" r="1.3" fill="#fff2ee" stroke="#e69a90" stroke-width="0.6"/><circle cx="509.8" cy="135.3" r="1.3" fill="#fff2ee" stroke="#e69a90" stroke-width="0.6"/><circle cx="536.9" cy="137.4" r="1.3" fill="#fff2ee" stroke="#e69a90" stroke-width="0.6"/><circle cx="536.1" cy="141.6" r="1.3" fill="#fff2ee" stroke="#e69a90" stroke-width="0.6"/><circle cx="531.9" cy="142.4" r="1.3" fill="#fff2ee" stroke="#e69a90" stroke-width="0.6"/><circle cx="528.2" cy="123.0" r="1.3" fill="#fff2ee" stroke="#e69a90" stroke-width="0.6"/><circle cx="532.2" cy="127.6" r="1.3" fill="#fff2ee" stroke="#e69a90" stroke-width="0.6"/><circle cx="517.8" cy="119.8" r="1.3" fill="#fff2ee" stroke="#e69a90" stroke-width="0.6"/><circle cx="521.3" cy="115.9" r="1.3" fill="#fff2ee" stroke="#e69a90" stroke-width="0.6"/><circle cx="526.2" cy="117.8" r="1.3" fill="#fff2ee" stroke="#e69a90" stroke-width="0.6"/><circle cx="513.0" cy="137.5" r="2.35" fill="#9c5a34"/><circle cx="513.0" cy="137.5" r="0.7" fill="#d8b29a"/><circle cx="533.3" cy="138.8" r="2.35" fill="#9c5a34"/><circle cx="533.3" cy="138.8" r="0.7" fill="#d8b29a"/><circle cx="528.4" cy="126.9" r="2.35" fill="#9c5a34"/><circle cx="528.4" cy="126.9" r="0.7" fill="#d8b29a"/><circle cx="524.7" cy="130.2" r="2.35" fill="#9c5a34"/><circle cx="524.7" cy="130.2" r="0.7" fill="#d8b29a"/><circle cx="522.4" cy="120.4" r="1.9" fill="#eef0fb" stroke="#8795d4" stroke-width="0.9"/>
<line x1="562.2" y1="134.6" x2="561.6" y2="138.4" stroke="#dfa69a" stroke-width="0.8" stroke-linecap="round"/><line x1="562.2" y1="134.6" x2="558.4" y2="135.6" stroke="#dfa69a" stroke-width="0.8" stroke-linecap="round"/><line x1="562.2" y1="134.6" x2="559.8" y2="131.6" stroke="#dfa69a" stroke-width="0.8" stroke-linecap="round"/><line x1="580.7" y1="142.0" x2="584.6" y2="142.1" stroke="#dfa69a" stroke-width="0.8" stroke-linecap="round"/><line x1="580.7" y1="142.0" x2="582.2" y2="145.6" stroke="#dfa69a" stroke-width="0.8" stroke-linecap="round"/><line x1="580.7" y1="142.0" x2="578.1" y2="144.9" stroke="#dfa69a" stroke-width="0.8" stroke-linecap="round"/><line x1="579.9" y1="129.7" x2="581.2" y2="126.0" stroke="#dfa69a" stroke-width="0.8" stroke-linecap="round"/><line x1="579.9" y1="129.7" x2="583.2" y2="131.8" stroke="#dfa69a" stroke-width="0.8" stroke-linecap="round"/><line x1="576.3" y1="120.9" x2="572.1" y2="119.1" stroke="#b4b9e2" stroke-width="0.8" stroke-linecap="round"/><line x1="576.3" y1="120.9" x2="576.4" y2="116.3" stroke="#b4b9e2" stroke-width="0.8" stroke-linecap="round"/><line x1="576.3" y1="120.9" x2="580.6" y2="119.4" stroke="#b4b9e2" stroke-width="0.8" stroke-linecap="round"/><line x1="576.3" y1="120.9" x2="576.1" y2="126.0" stroke="#8c9bd6" stroke-width="1.6" stroke-linecap="round"/><line x1="576.1" y1="126.0" x2="576.0" y2="131.0" stroke="#9c5a34" stroke-width="1.6" stroke-linecap="round"/><line x1="576.0" y1="131.0" x2="562.2" y2="134.6" stroke="#9c5a34" stroke-width="1.75" stroke-linecap="round"/><line x1="576.0" y1="131.0" x2="580.7" y2="142.0" stroke="#9c5a34" stroke-width="1.75" stroke-linecap="round"/><line x1="576.0" y1="131.0" x2="579.9" y2="129.7" stroke="#9c5a34" stroke-width="1.75" stroke-linecap="round"/><circle cx="561.6" cy="138.4" r="1.3" fill="#fff2ee" stroke="#e69a90" stroke-width="0.6"/><circle cx="558.4" cy="135.6" r="1.3" fill="#fff2ee" stroke="#e69a90" stroke-width="0.6"/><circle cx="559.8" cy="131.6" r="1.3" fill="#fff2ee" stroke="#e69a90" stroke-width="0.6"/><circle cx="584.6" cy="142.1" r="1.3" fill="#fff2ee" stroke="#e69a90" stroke-width="0.6"/><circle cx="582.2" cy="145.6" r="1.3" fill="#fff2ee" stroke="#e69a90" stroke-width="0.6"/><circle cx="578.1" cy="144.9" r="1.3" fill="#fff2ee" stroke="#e69a90" stroke-width="0.6"/><circle cx="581.2" cy="126.0" r="1.3" fill="#fff2ee" stroke="#e69a90" stroke-width="0.6"/><circle cx="583.2" cy="131.8" r="1.3" fill="#fff2ee" stroke="#e69a90" stroke-width="0.6"/><circle cx="572.1" cy="119.1" r="1.3" fill="#fff2ee" stroke="#e69a90" stroke-width="0.6"/><circle cx="576.4" cy="116.3" r="1.3" fill="#fff2ee" stroke="#e69a90" stroke-width="0.6"/><circle cx="580.6" cy="119.4" r="1.3" fill="#fff2ee" stroke="#e69a90" stroke-width="0.6"/><circle cx="562.2" cy="134.6" r="2.35" fill="#9c5a34"/><circle cx="562.2" cy="134.6" r="0.7" fill="#d8b29a"/><circle cx="580.7" cy="142.0" r="2.35" fill="#9c5a34"/><circle cx="580.7" cy="142.0" r="0.7" fill="#d8b29a"/><circle cx="579.9" cy="129.7" r="2.35" fill="#9c5a34"/><circle cx="579.9" cy="129.7" r="0.7" fill="#d8b29a"/><circle cx="576.0" cy="131.0" r="2.35" fill="#9c5a34"/><circle cx="576.0" cy="131.0" r="0.7" fill="#d8b29a"/><circle cx="576.3" cy="120.9" r="1.9" fill="#eef0fb" stroke="#8795d4" stroke-width="0.9"/>
<line x1="621.0" y1="140.4" x2="623.0" y2="143.7" stroke="#dfa69a" stroke-width="0.8" stroke-linecap="round"/><line x1="621.0" y1="140.4" x2="618.8" y2="143.6" stroke="#dfa69a" stroke-width="0.8" stroke-linecap="round"/><line x1="621.0" y1="140.4" x2="617.2" y2="139.7" stroke="#dfa69a" stroke-width="0.8" stroke-linecap="round"/><line x1="640.0" y1="133.4" x2="642.7" y2="130.6" stroke="#dfa69a" stroke-width="0.8" stroke-linecap="round"/><line x1="640.0" y1="133.4" x2="643.7" y2="134.7" stroke="#dfa69a" stroke-width="0.8" stroke-linecap="round"/><line x1="640.0" y1="133.4" x2="640.3" y2="137.3" stroke="#dfa69a" stroke-width="0.8" stroke-linecap="round"/><line x1="630.8" y1="124.8" x2="629.0" y2="121.3" stroke="#dfa69a" stroke-width="0.8" stroke-linecap="round"/><line x1="630.8" y1="124.8" x2="634.6" y2="123.9" stroke="#dfa69a" stroke-width="0.8" stroke-linecap="round"/><line x1="621.8" y1="120.9" x2="617.4" y2="122.3" stroke="#b4b9e2" stroke-width="0.8" stroke-linecap="round"/><line x1="621.8" y1="120.9" x2="618.9" y2="117.3" stroke="#b4b9e2" stroke-width="0.8" stroke-linecap="round"/><line x1="621.8" y1="120.9" x2="624.1" y2="116.9" stroke="#b4b9e2" stroke-width="0.8" stroke-linecap="round"/><line x1="621.8" y1="120.9" x2="625.2" y2="125.2" stroke="#8c9bd6" stroke-width="1.6" stroke-linecap="round"/><line x1="625.2" y1="125.2" x2="628.7" y2="129.4" stroke="#9c5a34" stroke-width="1.6" stroke-linecap="round"/><line x1="628.7" y1="129.4" x2="621.0" y2="140.4" stroke="#9c5a34" stroke-width="1.75" stroke-linecap="round"/><line x1="628.7" y1="129.4" x2="640.0" y2="133.4" stroke="#9c5a34" stroke-width="1.75" stroke-linecap="round"/><line x1="628.7" y1="129.4" x2="630.8" y2="124.8" stroke="#9c5a34" stroke-width="1.75" stroke-linecap="round"/><circle cx="623.0" cy="143.7" r="1.3" fill="#fff2ee" stroke="#e69a90" stroke-width="0.6"/><circle cx="618.8" cy="143.6" r="1.3" fill="#fff2ee" stroke="#e69a90" stroke-width="0.6"/><circle cx="617.2" cy="139.7" r="1.3" fill="#fff2ee" stroke="#e69a90" stroke-width="0.6"/><circle cx="642.7" cy="130.6" r="1.3" fill="#fff2ee" stroke="#e69a90" stroke-width="0.6"/><circle cx="643.7" cy="134.7" r="1.3" fill="#fff2ee" stroke="#e69a90" stroke-width="0.6"/><circle cx="640.3" cy="137.3" r="1.3" fill="#fff2ee" stroke="#e69a90" stroke-width="0.6"/><circle cx="629.0" cy="121.3" r="1.3" fill="#fff2ee" stroke="#e69a90" stroke-width="0.6"/><circle cx="634.6" cy="123.9" r="1.3" fill="#fff2ee" stroke="#e69a90" stroke-width="0.6"/><circle cx="617.4" cy="122.3" r="1.3" fill="#fff2ee" stroke="#e69a90" stroke-width="0.6"/><circle cx="618.9" cy="117.3" r="1.3" fill="#fff2ee" stroke="#e69a90" stroke-width="0.6"/><circle cx="624.1" cy="116.9" r="1.3" fill="#fff2ee" stroke="#e69a90" stroke-width="0.6"/><circle cx="621.0" cy="140.4" r="2.35" fill="#9c5a34"/><circle cx="621.0" cy="140.4" r="0.7" fill="#d8b29a"/><circle cx="640.0" cy="133.4" r="2.35" fill="#9c5a34"/><circle cx="640.0" cy="133.4" r="0.7" fill="#d8b29a"/><circle cx="630.8" cy="124.8" r="2.35" fill="#9c5a34"/><circle cx="630.8" cy="124.8" r="0.7" fill="#d8b29a"/><circle cx="628.7" cy="129.4" r="2.35" fill="#9c5a34"/><circle cx="628.7" cy="129.4" r="0.7" fill="#d8b29a"/><circle cx="621.8" cy="120.9" r="1.9" fill="#eef0fb" stroke="#8795d4" stroke-width="0.9"/>
<line x1="407.6" y1="192.9" x2="409.6" y2="196.3" stroke="#dfa69a" stroke-width="0.8" stroke-linecap="round"/><line x1="407.6" y1="192.9" x2="405.3" y2="196.1" stroke="#dfa69a" stroke-width="0.8" stroke-linecap="round"/><line x1="407.6" y1="192.9" x2="403.8" y2="192.1" stroke="#dfa69a" stroke-width="0.8" stroke-linecap="round"/><line x1="426.2" y1="185.6" x2="428.8" y2="182.7" stroke="#dfa69a" stroke-width="0.8" stroke-linecap="round"/><line x1="426.2" y1="185.6" x2="429.9" y2="186.8" stroke="#dfa69a" stroke-width="0.8" stroke-linecap="round"/><line x1="426.2" y1="185.6" x2="426.6" y2="189.5" stroke="#dfa69a" stroke-width="0.8" stroke-linecap="round"/><line x1="417.7" y1="177.5" x2="416.1" y2="173.9" stroke="#dfa69a" stroke-width="0.8" stroke-linecap="round"/><line x1="417.7" y1="177.5" x2="421.5" y2="176.8" stroke="#dfa69a" stroke-width="0.8" stroke-linecap="round"/><line x1="408.5" y1="173.4" x2="404.1" y2="174.8" stroke="#b4b9e2" stroke-width="0.8" stroke-linecap="round"/><line x1="408.5" y1="173.4" x2="405.6" y2="169.8" stroke="#b4b9e2" stroke-width="0.8" stroke-linecap="round"/><line x1="408.5" y1="173.4" x2="410.8" y2="169.4" stroke="#b4b9e2" stroke-width="0.8" stroke-linecap="round"/><line x1="408.5" y1="173.4" x2="411.9" y2="177.7" stroke="#8c9bd6" stroke-width="1.6" stroke-linecap="round"/><line x1="411.9" y1="177.7" x2="415.3" y2="182.0" stroke="#9c5a34" stroke-width="1.6" stroke-linecap="round"/><line x1="415.3" y1="182.0" x2="407.6" y2="192.9" stroke="#9c5a34" stroke-width="1.75" stroke-linecap="round"/><line x1="415.3" y1="182.0" x2="426.2" y2="185.6" stroke="#9c5a34" stroke-width="1.75" stroke-linecap="round"/><line x1="415.3" y1="182.0" x2="417.7" y2="177.5" stroke="#9c5a34" stroke-width="1.75" stroke-linecap="round"/><circle cx="409.6" cy="196.3" r="1.3" fill="#fff2ee" stroke="#e69a90" stroke-width="0.6"/><circle cx="405.3" cy="196.1" r="1.3" fill="#fff2ee" stroke="#e69a90" stroke-width="0.6"/><circle cx="403.8" cy="192.1" r="1.3" fill="#fff2ee" stroke="#e69a90" stroke-width="0.6"/><circle cx="428.8" cy="182.7" r="1.3" fill="#fff2ee" stroke="#e69a90" stroke-width="0.6"/><circle cx="429.9" cy="186.8" r="1.3" fill="#fff2ee" stroke="#e69a90" stroke-width="0.6"/><circle cx="426.6" cy="189.5" r="1.3" fill="#fff2ee" stroke="#e69a90" stroke-width="0.6"/><circle cx="416.1" cy="173.9" r="1.3" fill="#fff2ee" stroke="#e69a90" stroke-width="0.6"/><circle cx="421.5" cy="176.8" r="1.3" fill="#fff2ee" stroke="#e69a90" stroke-width="0.6"/><circle cx="404.1" cy="174.8" r="1.3" fill="#fff2ee" stroke="#e69a90" stroke-width="0.6"/><circle cx="405.6" cy="169.8" r="1.3" fill="#fff2ee" stroke="#e69a90" stroke-width="0.6"/><circle cx="410.8" cy="169.4" r="1.3" fill="#fff2ee" stroke="#e69a90" stroke-width="0.6"/><circle cx="407.6" cy="192.9" r="2.35" fill="#9c5a34"/><circle cx="407.6" cy="192.9" r="0.7" fill="#d8b29a"/><circle cx="426.2" cy="185.6" r="2.35" fill="#9c5a34"/><circle cx="426.2" cy="185.6" r="0.7" fill="#d8b29a"/><circle cx="417.7" cy="177.5" r="2.35" fill="#9c5a34"/><circle cx="417.7" cy="177.5" r="0.7" fill="#d8b29a"/><circle cx="415.3" cy="182.0" r="2.35" fill="#9c5a34"/><circle cx="415.3" cy="182.0" r="0.7" fill="#d8b29a"/><circle cx="408.5" cy="173.4" r="1.9" fill="#eef0fb" stroke="#8795d4" stroke-width="0.9"/>
<line x1="485.0" y1="22.1" x2="483.4" y2="18.5" stroke="#dfa69a" stroke-width="0.8" stroke-linecap="round"/><line x1="485.0" y1="22.1" x2="487.6" y2="19.2" stroke="#dfa69a" stroke-width="0.8" stroke-linecap="round"/><line x1="485.0" y1="22.1" x2="488.7" y2="23.3" stroke="#dfa69a" stroke-width="0.8" stroke-linecap="round"/><line x1="486.4" y1="42.0" x2="490.1" y2="40.8" stroke="#dfa69a" stroke-width="0.8" stroke-linecap="round"/><line x1="486.4" y1="42.0" x2="489.0" y2="44.9" stroke="#dfa69a" stroke-width="0.8" stroke-linecap="round"/><line x1="486.4" y1="42.0" x2="484.8" y2="45.6" stroke="#dfa69a" stroke-width="0.8" stroke-linecap="round"/><line x1="473.9" y1="27.7" x2="470.0" y2="27.8" stroke="#dfa69a" stroke-width="0.8" stroke-linecap="round"/><line x1="473.9" y1="27.7" x2="474.7" y2="23.9" stroke="#dfa69a" stroke-width="0.8" stroke-linecap="round"/><line x1="467.6" y1="35.0" x2="467.7" y2="39.6" stroke="#b4b9e2" stroke-width="0.8" stroke-linecap="round"/><line x1="467.6" y1="35.0" x2="463.3" y2="36.8" stroke="#b4b9e2" stroke-width="0.8" stroke-linecap="round"/><line x1="467.6" y1="35.0" x2="464.4" y2="31.7" stroke="#b4b9e2" stroke-width="0.8" stroke-linecap="round"/><line x1="467.6" y1="35.0" x2="472.2" y2="33.1" stroke="#8c9bd6" stroke-width="1.6" stroke-linecap="round"/><line x1="472.2" y1="33.1" x2="476.8" y2="31.2" stroke="#9c5a34" stroke-width="1.6" stroke-linecap="round"/><line x1="476.8" y1="31.2" x2="485.0" y2="22.1" stroke="#9c5a34" stroke-width="1.75" stroke-linecap="round"/><line x1="476.8" y1="31.2" x2="486.4" y2="42.0" stroke="#9c5a34" stroke-width="1.75" stroke-linecap="round"/><line x1="476.8" y1="31.2" x2="473.9" y2="27.7" stroke="#9c5a34" stroke-width="1.75" stroke-linecap="round"/><circle cx="483.4" cy="18.5" r="1.3" fill="#fff2ee" stroke="#e69a90" stroke-width="0.6"/><circle cx="487.6" cy="19.2" r="1.3" fill="#fff2ee" stroke="#e69a90" stroke-width="0.6"/><circle cx="488.7" cy="23.3" r="1.3" fill="#fff2ee" stroke="#e69a90" stroke-width="0.6"/><circle cx="490.1" cy="40.8" r="1.3" fill="#fff2ee" stroke="#e69a90" stroke-width="0.6"/><circle cx="489.0" cy="44.9" r="1.3" fill="#fff2ee" stroke="#e69a90" stroke-width="0.6"/><circle cx="484.8" cy="45.6" r="1.3" fill="#fff2ee" stroke="#e69a90" stroke-width="0.6"/><circle cx="470.0" cy="27.8" r="1.3" fill="#fff2ee" stroke="#e69a90" stroke-width="0.6"/><circle cx="474.7" cy="23.9" r="1.3" fill="#fff2ee" stroke="#e69a90" stroke-width="0.6"/><circle cx="467.7" cy="39.6" r="1.3" fill="#fff2ee" stroke="#e69a90" stroke-width="0.6"/><circle cx="463.3" cy="36.8" r="1.3" fill="#fff2ee" stroke="#e69a90" stroke-width="0.6"/><circle cx="464.4" cy="31.7" r="1.3" fill="#fff2ee" stroke="#e69a90" stroke-width="0.6"/><circle cx="485.0" cy="22.1" r="2.35" fill="#9c5a34"/><circle cx="485.0" cy="22.1" r="0.7" fill="#d8b29a"/><circle cx="486.4" cy="42.0" r="2.35" fill="#9c5a34"/><circle cx="486.4" cy="42.0" r="0.7" fill="#d8b29a"/><circle cx="473.9" cy="27.7" r="2.35" fill="#9c5a34"/><circle cx="473.9" cy="27.7" r="0.7" fill="#d8b29a"/><circle cx="476.8" cy="31.2" r="2.35" fill="#9c5a34"/><circle cx="476.8" cy="31.2" r="0.7" fill="#d8b29a"/><circle cx="467.6" cy="35.0" r="1.9" fill="#eef0fb" stroke="#8795d4" stroke-width="0.9"/>
<line x1="500.1" y1="30.3" x2="496.2" y2="30.2" stroke="#dfa69a" stroke-width="0.8" stroke-linecap="round"/><line x1="500.1" y1="30.3" x2="498.6" y2="26.7" stroke="#dfa69a" stroke-width="0.8" stroke-linecap="round"/><line x1="500.1" y1="30.3" x2="502.8" y2="27.5" stroke="#dfa69a" stroke-width="0.8" stroke-linecap="round"/><line x1="492.6" y1="55.7" x2="493.8" y2="59.4" stroke="#dfa69a" stroke-width="0.8" stroke-linecap="round"/><line x1="492.6" y1="55.7" x2="489.7" y2="58.3" stroke="#dfa69a" stroke-width="0.8" stroke-linecap="round"/><line x1="492.6" y1="55.7" x2="489.0" y2="54.1" stroke="#dfa69a" stroke-width="0.8" stroke-linecap="round"/><line x1="503.5" y1="45.5" x2="503.4" y2="49.4" stroke="#dfa69a" stroke-width="0.8" stroke-linecap="round"/><line x1="503.5" y1="45.5" x2="499.7" y2="44.6" stroke="#dfa69a" stroke-width="0.8" stroke-linecap="round"/><line x1="518.2" y1="47.8" x2="521.1" y2="44.2" stroke="#b4b9e2" stroke-width="0.8" stroke-linecap="round"/><line x1="518.2" y1="47.8" x2="522.6" y2="49.2" stroke="#b4b9e2" stroke-width="0.8" stroke-linecap="round"/><line x1="518.2" y1="47.8" x2="518.5" y2="52.4" stroke="#b4b9e2" stroke-width="0.8" stroke-linecap="round"/><line x1="518.2" y1="47.8" x2="512.0" y2="45.8" stroke="#8c9bd6" stroke-width="1.6" stroke-linecap="round"/><line x1="512.0" y1="45.8" x2="505.7" y2="43.8" stroke="#9c5a34" stroke-width="1.6" stroke-linecap="round"/><line x1="505.7" y1="43.8" x2="500.1" y2="30.3" stroke="#9c5a34" stroke-width="1.75" stroke-linecap="round"/><line x1="505.7" y1="43.8" x2="492.6" y2="55.7" stroke="#9c5a34" stroke-width="1.75" stroke-linecap="round"/><line x1="505.7" y1="43.8" x2="503.5" y2="45.5" stroke="#9c5a34" stroke-width="1.75" stroke-linecap="round"/><circle cx="496.2" cy="30.2" r="1.3" fill="#fff2ee" stroke="#e69a90" stroke-width="0.6"/><circle cx="498.6" cy="26.7" r="1.3" fill="#fff2ee" stroke="#e69a90" stroke-width="0.6"/><circle cx="502.8" cy="27.5" r="1.3" fill="#fff2ee" stroke="#e69a90" stroke-width="0.6"/><circle cx="493.8" cy="59.4" r="1.3" fill="#fff2ee" stroke="#e69a90" stroke-width="0.6"/><circle cx="489.7" cy="58.3" r="1.3" fill="#fff2ee" stroke="#e69a90" stroke-width="0.6"/><circle cx="489.0" cy="54.1" r="1.3" fill="#fff2ee" stroke="#e69a90" stroke-width="0.6"/><circle cx="503.4" cy="49.4" r="1.3" fill="#fff2ee" stroke="#e69a90" stroke-width="0.6"/><circle cx="499.7" cy="44.6" r="1.3" fill="#fff2ee" stroke="#e69a90" stroke-width="0.6"/><circle cx="521.1" cy="44.2" r="1.3" fill="#fff2ee" stroke="#e69a90" stroke-width="0.6"/><circle cx="522.6" cy="49.2" r="1.3" fill="#fff2ee" stroke="#e69a90" stroke-width="0.6"/><circle cx="518.5" cy="52.4" r="1.3" fill="#fff2ee" stroke="#e69a90" stroke-width="0.6"/><circle cx="500.1" cy="30.3" r="2.35" fill="#9c5a34"/><circle cx="500.1" cy="30.3" r="0.7" fill="#d8b29a"/><circle cx="492.6" cy="55.7" r="2.35" fill="#9c5a34"/><circle cx="492.6" cy="55.7" r="0.7" fill="#d8b29a"/><circle cx="503.5" cy="45.5" r="2.35" fill="#9c5a34"/><circle cx="503.5" cy="45.5" r="0.7" fill="#d8b29a"/><circle cx="505.7" cy="43.8" r="2.35" fill="#9c5a34"/><circle cx="505.7" cy="43.8" r="0.7" fill="#d8b29a"/><circle cx="518.2" cy="47.8" r="1.9" fill="#eef0fb" stroke="#8795d4" stroke-width="0.9"/>
<line x1="481.6" y1="72.2" x2="479.6" y2="68.8" stroke="#dfa69a" stroke-width="0.8" stroke-linecap="round"/><line x1="481.6" y1="72.2" x2="483.9" y2="69.0" stroke="#dfa69a" stroke-width="0.8" stroke-linecap="round"/><line x1="481.6" y1="72.2" x2="485.4" y2="73.0" stroke="#dfa69a" stroke-width="0.8" stroke-linecap="round"/><line x1="483.8" y1="93.2" x2="487.6" y2="92.2" stroke="#dfa69a" stroke-width="0.8" stroke-linecap="round"/><line x1="483.8" y1="93.2" x2="486.3" y2="96.2" stroke="#dfa69a" stroke-width="0.8" stroke-linecap="round"/><line x1="483.8" y1="93.2" x2="482.0" y2="96.7" stroke="#dfa69a" stroke-width="0.8" stroke-linecap="round"/><line x1="471.6" y1="79.2" x2="467.8" y2="79.8" stroke="#dfa69a" stroke-width="0.8" stroke-linecap="round"/><line x1="471.6" y1="79.2" x2="471.8" y2="75.3" stroke="#dfa69a" stroke-width="0.8" stroke-linecap="round"/><line x1="464.6" y1="85.7" x2="464.6" y2="90.3" stroke="#b4b9e2" stroke-width="0.8" stroke-linecap="round"/><line x1="464.6" y1="85.7" x2="460.3" y2="87.3" stroke="#b4b9e2" stroke-width="0.8" stroke-linecap="round"/><line x1="464.6" y1="85.7" x2="461.5" y2="82.3" stroke="#b4b9e2" stroke-width="0.8" stroke-linecap="round"/><line x1="464.6" y1="85.7" x2="469.6" y2="83.8" stroke="#8c9bd6" stroke-width="1.6" stroke-linecap="round"/><line x1="469.6" y1="83.8" x2="474.6" y2="81.9" stroke="#9c5a34" stroke-width="1.6" stroke-linecap="round"/><line x1="474.6" y1="81.9" x2="481.6" y2="72.2" stroke="#9c5a34" stroke-width="1.75" stroke-linecap="round"/><line x1="474.6" y1="81.9" x2="483.8" y2="93.2" stroke="#9c5a34" stroke-width="1.75" stroke-linecap="round"/><line x1="474.6" y1="81.9" x2="471.6" y2="79.2" stroke="#9c5a34" stroke-width="1.75" stroke-linecap="round"/><circle cx="479.6" cy="68.8" r="1.3" fill="#fff2ee" stroke="#e69a90" stroke-width="0.6"/><circle cx="483.9" cy="69.0" r="1.3" fill="#fff2ee" stroke="#e69a90" stroke-width="0.6"/><circle cx="485.4" cy="73.0" r="1.3" fill="#fff2ee" stroke="#e69a90" stroke-width="0.6"/><circle cx="487.6" cy="92.2" r="1.3" fill="#fff2ee" stroke="#e69a90" stroke-width="0.6"/><circle cx="486.3" cy="96.2" r="1.3" fill="#fff2ee" stroke="#e69a90" stroke-width="0.6"/><circle cx="482.0" cy="96.7" r="1.3" fill="#fff2ee" stroke="#e69a90" stroke-width="0.6"/><circle cx="467.8" cy="79.8" r="1.3" fill="#fff2ee" stroke="#e69a90" stroke-width="0.6"/><circle cx="471.8" cy="75.3" r="1.3" fill="#fff2ee" stroke="#e69a90" stroke-width="0.6"/><circle cx="464.6" cy="90.3" r="1.3" fill="#fff2ee" stroke="#e69a90" stroke-width="0.6"/><circle cx="460.3" cy="87.3" r="1.3" fill="#fff2ee" stroke="#e69a90" stroke-width="0.6"/><circle cx="461.5" cy="82.3" r="1.3" fill="#fff2ee" stroke="#e69a90" stroke-width="0.6"/><circle cx="481.6" cy="72.2" r="2.35" fill="#9c5a34"/><circle cx="481.6" cy="72.2" r="0.7" fill="#d8b29a"/><circle cx="483.8" cy="93.2" r="2.35" fill="#9c5a34"/><circle cx="483.8" cy="93.2" r="0.7" fill="#d8b29a"/><circle cx="471.6" cy="79.2" r="2.35" fill="#9c5a34"/><circle cx="471.6" cy="79.2" r="0.7" fill="#d8b29a"/><circle cx="474.6" cy="81.9" r="2.35" fill="#9c5a34"/><circle cx="474.6" cy="81.9" r="0.7" fill="#d8b29a"/><circle cx="464.6" cy="85.7" r="1.9" fill="#eef0fb" stroke="#8795d4" stroke-width="0.9"/>
<line x1="502.2" y1="78.4" x2="498.3" y2="78.1" stroke="#dfa69a" stroke-width="0.8" stroke-linecap="round"/><line x1="502.2" y1="78.4" x2="500.9" y2="74.7" stroke="#dfa69a" stroke-width="0.8" stroke-linecap="round"/><line x1="502.2" y1="78.4" x2="505.0" y2="75.7" stroke="#dfa69a" stroke-width="0.8" stroke-linecap="round"/><line x1="494.8" y1="103.7" x2="496.1" y2="107.4" stroke="#dfa69a" stroke-width="0.8" stroke-linecap="round"/><line x1="494.8" y1="103.7" x2="492.0" y2="106.4" stroke="#dfa69a" stroke-width="0.8" stroke-linecap="round"/><line x1="494.8" y1="103.7" x2="491.2" y2="102.3" stroke="#dfa69a" stroke-width="0.8" stroke-linecap="round"/><line x1="505.0" y1="93.8" x2="505.4" y2="97.7" stroke="#dfa69a" stroke-width="0.8" stroke-linecap="round"/><line x1="505.0" y1="93.8" x2="501.1" y2="93.4" stroke="#dfa69a" stroke-width="0.8" stroke-linecap="round"/><line x1="520.0" y1="96.2" x2="523.0" y2="92.7" stroke="#b4b9e2" stroke-width="0.8" stroke-linecap="round"/><line x1="520.0" y1="96.2" x2="524.4" y2="97.7" stroke="#b4b9e2" stroke-width="0.8" stroke-linecap="round"/><line x1="520.0" y1="96.2" x2="520.2" y2="100.8" stroke="#b4b9e2" stroke-width="0.8" stroke-linecap="round"/><line x1="520.0" y1="96.2" x2="513.5" y2="94.0" stroke="#8c9bd6" stroke-width="1.6" stroke-linecap="round"/><line x1="513.5" y1="94.0" x2="507.0" y2="91.8" stroke="#9c5a34" stroke-width="1.6" stroke-linecap="round"/><line x1="507.0" y1="91.8" x2="502.2" y2="78.4" stroke="#9c5a34" stroke-width="1.75" stroke-linecap="round"/><line x1="507.0" y1="91.8" x2="494.8" y2="103.7" stroke="#9c5a34" stroke-width="1.75" stroke-linecap="round"/><line x1="507.0" y1="91.8" x2="505.0" y2="93.8" stroke="#9c5a34" stroke-width="1.75" stroke-linecap="round"/><circle cx="498.3" cy="78.1" r="1.3" fill="#fff2ee" stroke="#e69a90" stroke-width="0.6"/><circle cx="500.9" cy="74.7" r="1.3" fill="#fff2ee" stroke="#e69a90" stroke-width="0.6"/><circle cx="505.0" cy="75.7" r="1.3" fill="#fff2ee" stroke="#e69a90" stroke-width="0.6"/><circle cx="496.1" cy="107.4" r="1.3" fill="#fff2ee" stroke="#e69a90" stroke-width="0.6"/><circle cx="492.0" cy="106.4" r="1.3" fill="#fff2ee" stroke="#e69a90" stroke-width="0.6"/><circle cx="491.2" cy="102.3" r="1.3" fill="#fff2ee" stroke="#e69a90" stroke-width="0.6"/><circle cx="505.4" cy="97.7" r="1.3" fill="#fff2ee" stroke="#e69a90" stroke-width="0.6"/><circle cx="501.1" cy="93.4" r="1.3" fill="#fff2ee" stroke="#e69a90" stroke-width="0.6"/><circle cx="523.0" cy="92.7" r="1.3" fill="#fff2ee" stroke="#e69a90" stroke-width="0.6"/><circle cx="524.4" cy="97.7" r="1.3" fill="#fff2ee" stroke="#e69a90" stroke-width="0.6"/><circle cx="520.2" cy="100.8" r="1.3" fill="#fff2ee" stroke="#e69a90" stroke-width="0.6"/><circle cx="502.2" cy="78.4" r="2.35" fill="#9c5a34"/><circle cx="502.2" cy="78.4" r="0.7" fill="#d8b29a"/><circle cx="494.8" cy="103.7" r="2.35" fill="#9c5a34"/><circle cx="494.8" cy="103.7" r="0.7" fill="#d8b29a"/><circle cx="505.0" cy="93.8" r="2.35" fill="#9c5a34"/><circle cx="505.0" cy="93.8" r="0.7" fill="#d8b29a"/><circle cx="507.0" cy="91.8" r="2.35" fill="#9c5a34"/><circle cx="507.0" cy="91.8" r="0.7" fill="#d8b29a"/><circle cx="520.0" cy="96.2" r="1.9" fill="#eef0fb" stroke="#8795d4" stroke-width="0.9"/>
<circle cx="346.6" cy="159.6" r="5.7" fill="#a2a2fa"/>
<circle cx="346.6" cy="179.4" r="5.7" fill="#fa7a52"/>
<circle cx="346.6" cy="194.5" r="3.7" fill="#efefef"/>
<line x1="535.1" y1="164.8" x2="525.3" y2="156.7" stroke="#000" stroke-width="2.2"/><polygon points="520.3,152.5 527.5,154.0 523.1,159.3" fill="#000"/>
<line x1="552.6" y1="159.4" x2="552.6" y2="140.6" stroke="#000" stroke-width="2.9"/><polygon points="552.6,133.8 556.3,140.6 548.9,140.6" fill="#000"/>
<line x1="585.7" y1="166.7" x2="592.4" y2="156.7" stroke="#000" stroke-width="2.2"/><polygon points="596.0,151.3 595.2,158.6 589.6,154.8" fill="#000"/>
<line x1="562.3" y1="163.7" x2="574.6" y2="168.1" stroke="#14b04c" stroke-width="3"/>
<circle cx="562.3" cy="163.7" r="5.7" fill="#14b04c"/><circle cx="574.6" cy="168.1" r="5.4" fill="#14b04c"/>
<line x1="594.8" y1="189.7" x2="603.8" y2="178.3" stroke="#14b04c" stroke-width="3"/><line x1="594.8" y1="189.7" x2="581.7" y2="190.4" stroke="#14b04c" stroke-width="3"/>
<circle cx="603.8" cy="178.3" r="5.3" fill="#12a8f0"/><circle cx="581.7" cy="190.4" r="5.5" fill="#12a8f0"/><circle cx="594.8" cy="189.7" r="5.7" fill="#14b04c"/>
<path d="M594.8,189.7L601.8,180.8" stroke="#14b04c" stroke-width="3"/>
</g>
<g font-family="'Liberation Sans', Arial, sans-serif" font-weight="700" filter="url(#b3)">
<text x="308.4" y="33" font-size="22.9" fill="#111" stroke="#111" stroke-width="0.6" textLength="14.4" lengthAdjust="spacingAndGlyphs">b</text>
<text x="361.5" y="159.3" font-size="10.4" fill="#111">Pb</text>
<text x="362.3" y="179.9" font-size="10.4" fill="#111">Sn</text>
<text x="358.2" y="200.6" font-size="10.4" fill="#111">Cs, FA</text>
<text x="447.5" y="180.7" font-size="10.4" fill="#111">t-BUA</text>
<text x="530.8" y="182.6" font-size="10.4" fill="#f08232">hv</text>
<text x="548.6" y="182.6" font-size="10.4" fill="#14b04c">O<tspan font-size="6.5" dy="2">2</tspan></text>
<text x="608.3" y="200" font-size="10.4" fill="#12a8f0">H<tspan font-size="6.5" dy="2">2</tspan><tspan dy="-2">O</tspan></text>
</g>
<!-- panel a -->
<g filter="url(#b5)">
<g fill="none" stroke="#5e5e5e" stroke-width="1.35" stroke-linejoin="round" stroke-linecap="round"><polygon points="113.3,14.1 119.7,15.8 122.3,21.0 118.8,25.1 112.9,23.7 110.1,18.9"/><polyline points="112.9,23.7 109.2,28.3 112.4,33.3 109.2,37.4"/><line x1="113.3" y1="14.1" x2="111.5" y2="9.4"/><line x1="119.7" y1="15.8" x2="123.2" y2="11.4"/></g><circle cx="111.5" cy="9.4" r="1.9" fill="#dc4468"/><circle cx="123.2" cy="11.4" r="1.9" fill="#dc4468"/><circle cx="109.2" cy="37.4" r="1.6" fill="#4a58d4"/>
<g fill="none" stroke="#5e5e5e" stroke-width="1.35" stroke-linejoin="round" stroke-linecap="round"><polygon points="136.1,14.6 142.5,16.3 145.1,21.5 141.6,25.6 135.7,24.2 132.9,19.4"/><polyline points="135.7,24.2 132.0,28.8 135.2,33.8 132.0,37.9"/><line x1="136.1" y1="14.6" x2="134.3" y2="9.9"/><line x1="142.5" y1="16.3" x2="146.0" y2="11.9"/></g><circle cx="134.3" cy="9.9" r="1.9" fill="#dc4468"/><circle cx="146.0" cy="11.9" r="1.9" fill="#dc4468"/><circle cx="132.0" cy="37.9" r="1.6" fill="#4a58d4"/>
<g fill="none" stroke="#5e5e5e" stroke-width="1.35" stroke-linejoin="round" stroke-linecap="round"><polygon points="161.4,15.1 167.8,16.8 170.4,22.0 166.9,26.1 161.0,24.7 158.2,19.9"/><polyline points="161.0,24.7 157.3,29.3 160.5,34.3 157.3,38.4"/><line x1="161.4" y1="15.1" x2="159.6" y2="10.4"/><line x1="167.8" y1="16.8" x2="171.3" y2="12.4"/></g><circle cx="159.6" cy="10.4" r="1.9" fill="#dc4468"/><circle cx="171.3" cy="12.4" r="1.9" fill="#dc4468"/><circle cx="157.3" cy="38.4" r="1.6" fill="#4a58d4"/>
<g fill="none" stroke="#5e5e5e" stroke-width="1.35" stroke-linejoin="round" stroke-linecap="round"><polygon points="188.5,14.9 194.9,16.6 197.5,21.8 194.0,25.9 188.1,24.5 185.3,19.7"/><polyline points="188.1,24.5 184.4,29.1 187.6,34.1 184.4,38.2"/><line x1="188.5" y1="14.9" x2="186.7" y2="10.2"/><line x1="194.9" y1="16.6" x2="198.4" y2="12.2"/></g><circle cx="186.7" cy="10.2" r="1.9" fill="#dc4468"/><circle cx="198.4" cy="12.2" r="1.9" fill="#dc4468"/><circle cx="184.4" cy="38.2" r="1.6" fill="#4a58d4"/>
<g fill="none" stroke="#5e5e5e" stroke-width="1.35" stroke-linejoin="round" stroke-linecap="round"><polygon points="209.2,17.3 215.6,19.0 218.2,24.2 214.7,28.3 208.8,26.9 206.0,22.1"/><polyline points="208.8,26.9 205.1,31.5 208.3,36.5 205.1,40.6"/><line x1="209.2" y1="17.3" x2="207.4" y2="12.6"/><line x1="215.6" y1="19.0" x2="219.1" y2="14.6"/></g><circle cx="207.4" cy="12.6" r="1.9" fill="#dc4468"/><circle cx="219.1" cy="14.6" r="1.9" fill="#dc4468"/><circle cx="205.1" cy="40.6" r="1.6" fill="#4a58d4"/>
<g fill="none" stroke="#5e5e5e" stroke-width="1.35" stroke-linejoin="round" stroke-linecap="round"><polygon points="233.6,18.0 240.0,19.7 242.6,24.9 239.1,29.0 233.2,27.6 230.4,22.8"/><polyline points="233.2,27.6 229.5,32.2 232.7,37.2 229.5,41.3"/><line x1="233.6" y1="18.0" x2="231.8" y2="13.3"/><line x1="240.0" y1="19.7" x2="243.5" y2="15.3"/></g><circle cx="231.8" cy="13.3" r="1.9" fill="#dc4468"/><circle cx="243.5" cy="15.3" r="1.9" fill="#dc4468"/><circle cx="229.5" cy="41.3" r="1.6" fill="#4a58d4"/>
<g fill="none" stroke="#5e5e5e" stroke-width="1.35" stroke-linejoin="round" stroke-linecap="round"><polygon points="115.9,89.7 109.5,88.0 106.9,82.8 110.4,78.7 116.3,80.1 119.1,84.9"/><polyline points="116.3,80.1 120.0,75.5 116.8,70.5 120.0,66.4"/><line x1="115.9" y1="89.7" x2="117.7" y2="94.4"/><line x1="109.5" y1="88.0" x2="106.0" y2="92.4"/></g><circle cx="117.7" cy="94.4" r="1.9" fill="#dc4468"/><circle cx="106.0" cy="92.4" r="1.9" fill="#dc4468"/><circle cx="120.0" cy="66.4" r="1.6" fill="#4a58d4"/>
<g fill="none" stroke="#5e5e5e" stroke-width="1.35" stroke-linejoin="round" stroke-linecap="round"><polygon points="142.9,89.7 136.5,88.0 133.9,82.8 137.4,78.7 143.3,80.1 146.1,84.9"/><polyline points="143.3,80.1 147.0,75.5 143.8,70.5 147.0,66.4"/><line x1="142.9" y1="89.7" x2="144.7" y2="94.4"/><line x1="136.5" y1="88.0" x2="133.0" y2="92.4"/></g><circle cx="144.7" cy="94.4" r="1.9" fill="#dc4468"/><circle cx="133.0" cy="92.4" r="1.9" fill="#dc4468"/><circle cx="147.0" cy="66.4" r="1.6" fill="#4a58d4"/>
<g fill="none" stroke="#5e5e5e" stroke-width="1.35" stroke-linejoin="round" stroke-linecap="round"><polygon points="166.7,90.3 160.3,88.6 157.7,83.4 161.2,79.3 167.1,80.7 169.9,85.5"/><polyline points="167.1,80.7 170.8,76.1 167.6,71.1 170.8,67.0"/><line x1="166.7" y1="90.3" x2="168.5" y2="95.0"/><line x1="160.3" y1="88.6" x2="156.8" y2="93.0"/></g><circle cx="168.5" cy="95.0" r="1.9" fill="#dc4468"/><circle cx="156.8" cy="93.0" r="1.9" fill="#dc4468"/><circle cx="170.8" cy="67.0" r="1.6" fill="#4a58d4"/>
<g fill="none" stroke="#5e5e5e" stroke-width="1.35" stroke-linejoin="round" stroke-linecap="round"><polygon points="191.7,90.7 185.3,89.0 182.7,83.8 186.2,79.7 192.1,81.1 194.9,85.9"/><polyline points="192.1,81.1 195.8,76.5 192.6,71.5 195.8,67.4"/><line x1="191.7" y1="90.7" x2="193.5" y2="95.4"/><line x1="185.3" y1="89.0" x2="181.8" y2="93.4"/></g><circle cx="193.5" cy="95.4" r="1.9" fill="#dc4468"/><circle cx="181.8" cy="93.4" r="1.9" fill="#dc4468"/><circle cx="195.8" cy="67.4" r="1.6" fill="#4a58d4"/>
<g fill="none" stroke="#5e5e5e" stroke-width="1.35" stroke-linejoin="round" stroke-linecap="round"><polygon points="217.5,88.2 211.1,86.5 208.5,81.3 212.0,77.2 217.9,78.6 220.7,83.4"/><polyline points="217.9,78.6 221.6,74.0 218.4,69.0 221.6,64.9"/><line x1="217.5" y1="88.2" x2="219.3" y2="92.9"/><line x1="211.1" y1="86.5" x2="207.6" y2="90.9"/></g><circle cx="219.3" cy="92.9" r="1.9" fill="#dc4468"/><circle cx="207.6" cy="90.9" r="1.9" fill="#dc4468"/><circle cx="221.6" cy="64.9" r="1.6" fill="#4a58d4"/>
<g fill="none" stroke="#5e5e5e" stroke-width="1.35" stroke-linejoin="round" stroke-linecap="round"><polygon points="237.4,90.7 231.0,89.0 228.4,83.8 231.9,79.7 237.8,81.1 240.6,85.9"/><polyline points="237.8,81.1 241.5,76.5 238.3,71.5 241.5,67.4"/><line x1="237.4" y1="90.7" x2="239.2" y2="95.4"/><line x1="231.0" y1="89.0" x2="227.5" y2="93.4"/></g><circle cx="239.2" cy="95.4" r="1.9" fill="#dc4468"/><circle cx="227.5" cy="93.4" r="1.9" fill="#dc4468"/><circle cx="241.5" cy="67.4" r="1.6" fill="#4a58d4"/>
<polygon points="104.9,30.0 86.2,49.3 104.9,68.6 123.2,49.3" fill="#7a94e6" fill-opacity="0.63"/><polygon points="104.9,30.0 86.2,49.3 110.3,52.1" fill="#7192e8" fill-opacity="0.84"/><polygon points="104.9,30.0 110.3,52.1 123.2,49.3" fill="#86a8f4" fill-opacity="0.84"/><polygon points="104.9,68.6 86.2,49.3 110.3,52.1" fill="#6e82de" fill-opacity="0.84"/><polygon points="104.9,68.6 110.3,52.1 123.2,49.3" fill="#7794ea" fill-opacity="0.84"/><path d="M104.9,30.0L86.2,49.3L104.9,68.6L123.2,49.3ZM104.9,30.0L110.3,52.1L104.9,68.6M86.2,49.3L110.3,52.1L123.2,49.3" fill="none" stroke="#c6d8fb" stroke-opacity="0.85" stroke-width="0.7" stroke-linejoin="round"/><path d="M104.9,30.0L99.5,46.5L104.9,68.6M86.2,49.3L99.5,46.5L123.2,49.3" fill="none" stroke="#d4e2fc" stroke-opacity="0.45" stroke-width="0.6"/><circle cx="104.9" cy="49.3" r="2.7" fill="#a06ad4" fill-opacity="0.6"/><circle cx="99.5" cy="46.5" r="1.5" fill="#58b4c4" fill-opacity="0.7"/><polygon points="141.7,31.0 123.2,49.3 141.1,67.6 158.5,49.5" fill="#7a94e6" fill-opacity="0.63"/><polygon points="141.7,31.0 123.2,49.3 146.5,51.9" fill="#7192e8" fill-opacity="0.84"/><polygon points="141.7,31.0 146.5,51.9 158.5,49.5" fill="#86a8f4" fill-opacity="0.84"/><polygon points="141.1,67.6 123.2,49.3 146.5,51.9" fill="#6e82de" fill-opacity="0.84"/><polygon points="141.1,67.6 146.5,51.9 158.5,49.5" fill="#7794ea" fill-opacity="0.84"/><path d="M141.7,31.0L123.2,49.3L141.1,67.6L158.5,49.5ZM141.7,31.0L146.5,51.9L141.1,67.6M123.2,49.3L146.5,51.9L158.5,49.5" fill="none" stroke="#c6d8fb" stroke-opacity="0.85" stroke-width="0.7" stroke-linejoin="round"/><path d="M141.7,31.0L136.3,46.7L141.1,67.6M123.2,49.3L136.3,46.7L158.5,49.5" fill="none" stroke="#d4e2fc" stroke-opacity="0.45" stroke-width="0.6"/><circle cx="141.4" cy="49.3" r="2.7" fill="#a06ad4" fill-opacity="0.6"/><circle cx="136.3" cy="46.7" r="1.5" fill="#58b4c4" fill-opacity="0.7"/><polygon points="175.6,32.0 158.5,49.5 175.6,67.6 192.0,49.8" fill="#7a94e6" fill-opacity="0.63"/><polygon points="175.6,32.0 158.5,49.5 180.5,52.3" fill="#7192e8" fill-opacity="0.84"/><polygon points="175.6,32.0 180.5,52.3 192.0,49.8" fill="#86a8f4" fill-opacity="0.84"/><polygon points="175.6,67.6 158.5,49.5 180.5,52.3" fill="#6e82de" fill-opacity="0.84"/><polygon points="175.6,67.6 180.5,52.3 192.0,49.8" fill="#7794ea" fill-opacity="0.84"/><path d="M175.6,32.0L158.5,49.5L175.6,67.6L192.0,49.8ZM175.6,32.0L180.5,52.3L175.6,67.6M158.5,49.5L180.5,52.3L192.0,49.8" fill="none" stroke="#c6d8fb" stroke-opacity="0.85" stroke-width="0.7" stroke-linejoin="round"/><path d="M175.6,32.0L170.7,47.3L175.6,67.6M158.5,49.5L170.7,47.3L192.0,49.8" fill="none" stroke="#d4e2fc" stroke-opacity="0.45" stroke-width="0.6"/><circle cx="175.6" cy="49.8" r="2.7" fill="#a06ad4" fill-opacity="0.6"/><circle cx="170.7" cy="47.3" r="1.5" fill="#58b4c4" fill-opacity="0.7"/><polygon points="209.1,32.5 192.0,49.8 206.0,67.3 224.0,50.0" fill="#7a94e6" fill-opacity="0.63"/><polygon points="209.1,32.5 192.0,49.8 212.2,52.3" fill="#7192e8" fill-opacity="0.84"/><polygon points="209.1,32.5 212.2,52.3 224.0,50.0" fill="#86a8f4" fill-opacity="0.84"/><polygon points="206.0,67.3 192.0,49.8 212.2,52.3" fill="#6e82de" fill-opacity="0.84"/><polygon points="206.0,67.3 212.2,52.3 224.0,50.0" fill="#7794ea" fill-opacity="0.84"/><path d="M209.1,32.5L192.0,49.8L206.0,67.3L224.0,50.0ZM209.1,32.5L212.2,52.3L206.0,67.3M192.0,49.8L212.2,52.3L224.0,50.0" fill="none" stroke="#c6d8fb" stroke-opacity="0.85" stroke-width="0.7" stroke-linejoin="round"/><path d="M209.1,32.5L202.9,47.5L206.0,67.3M192.0,49.8L202.9,47.5L224.0,50.0" fill="none" stroke="#d4e2fc" stroke-opacity="0.45" stroke-width="0.6"/><circle cx="207.6" cy="49.9" r="2.7" fill="#a06ad4" fill-opacity="0.6"/><circle cx="202.9" cy="47.5" r="1.5" fill="#58b4c4" fill-opacity="0.7"/>
<circle cx="104.9" cy="30.0" r="2.0" fill="url(#gG)"/><circle cx="104.9" cy="68.6" r="2.0" fill="url(#gG)"/><circle cx="86.2" cy="49.3" r="2.0" fill="url(#gG)"/><circle cx="123.2" cy="49.3" r="2.0" fill="url(#gG)"/><circle cx="110.3" cy="52.1" r="2.0" fill="url(#gG)"/><circle cx="141.7" cy="31.0" r="2.0" fill="url(#gG)"/><circle cx="141.1" cy="67.6" r="2.0" fill="url(#gG)"/><circle cx="158.5" cy="49.5" r="2.0" fill="url(#gG)"/><circle cx="146.5" cy="51.9" r="2.0" fill="url(#gG)"/><circle cx="175.6" cy="32.0" r="2.0" fill="url(#gG)"/><circle cx="175.6" cy="67.6" r="2.0" fill="url(#gG)"/><circle cx="192.0" cy="49.8" r="2.0" fill="url(#gG)"/><circle cx="180.5" cy="52.3" r="2.0" fill="url(#gG)"/><circle cx="209.1" cy="32.5" r="2.0" fill="url(#gG)"/><circle cx="206.0" cy="67.3" r="2.0" fill="url(#gG)"/><circle cx="224.0" cy="50.0" r="2.0" fill="url(#gG)"/><circle cx="212.2" cy="52.3" r="2.0" fill="url(#gG)"/>
<polygon points="113.7,31.5 92.9,52.4 113.7,73.1 133.2,52.3" fill="#7a94e6" fill-opacity="0.63"/><polygon points="113.7,31.5 92.9,52.4 119.5,55.3" fill="#7192e8" fill-opacity="0.84"/><polygon points="113.7,31.5 119.5,55.3 133.2,52.3" fill="#86a8f4" fill-opacity="0.84"/><polygon points="113.7,73.1 92.9,52.4 119.5,55.3" fill="#6e82de" fill-opacity="0.84"/><polygon points="113.7,73.1 119.5,55.3 133.2,52.3" fill="#7794ea" fill-opacity="0.84"/><path d="M113.7,31.5L92.9,52.4L113.7,73.1L133.2,52.3ZM113.7,31.5L119.5,55.3L113.7,73.1M92.9,52.4L119.5,55.3L133.2,52.3" fill="none" stroke="#c6d8fb" stroke-opacity="0.85" stroke-width="0.7" stroke-linejoin="round"/><path d="M113.7,31.5L107.9,49.3L113.7,73.1M92.9,52.4L107.9,49.3L133.2,52.3" fill="none" stroke="#d4e2fc" stroke-opacity="0.45" stroke-width="0.6"/><circle cx="113.7" cy="52.3" r="2.7" fill="#a06ad4" fill-opacity="0.6"/><circle cx="107.9" cy="49.3" r="1.5" fill="#58b4c4" fill-opacity="0.7"/><polygon points="152.8,32.1 133.2,52.3 152.2,72.1 170.8,52.2" fill="#7a94e6" fill-opacity="0.63"/><polygon points="152.8,32.1 133.2,52.3 158.0,54.9" fill="#7192e8" fill-opacity="0.84"/><polygon points="152.8,32.1 158.0,54.9 170.8,52.2" fill="#86a8f4" fill-opacity="0.84"/><polygon points="152.2,72.1 133.2,52.3 158.0,54.9" fill="#6e82de" fill-opacity="0.84"/><polygon points="152.2,72.1 158.0,54.9 170.8,52.2" fill="#7794ea" fill-opacity="0.84"/><path d="M152.8,32.1L133.2,52.3L152.2,72.1L170.8,52.2ZM152.8,32.1L158.0,54.9L152.2,72.1M133.2,52.3L158.0,54.9L170.8,52.2" fill="none" stroke="#c6d8fb" stroke-opacity="0.85" stroke-width="0.7" stroke-linejoin="round"/><path d="M152.8,32.1L147.0,49.3L152.2,72.1M133.2,52.3L147.0,49.3L170.8,52.2" fill="none" stroke="#d4e2fc" stroke-opacity="0.45" stroke-width="0.6"/><circle cx="152.5" cy="52.1" r="2.7" fill="#a06ad4" fill-opacity="0.6"/><circle cx="147.0" cy="49.3" r="1.5" fill="#58b4c4" fill-opacity="0.7"/><polygon points="189.4,32.5 170.8,52.2 188.8,71.5 206.1,52.2" fill="#7a94e6" fill-opacity="0.63"/><polygon points="189.4,32.5 170.8,52.2 194.2,54.6" fill="#7192e8" fill-opacity="0.84"/><polygon points="189.4,32.5 194.2,54.6 206.1,52.2" fill="#86a8f4" fill-opacity="0.84"/><polygon points="188.8,71.5 170.8,52.2 194.2,54.6" fill="#6e82de" fill-opacity="0.84"/><polygon points="188.8,71.5 194.2,54.6 206.1,52.2" fill="#7794ea" fill-opacity="0.84"/><path d="M189.4,32.5L170.8,52.2L188.8,71.5L206.1,52.2ZM189.4,32.5L194.2,54.6L188.8,71.5M170.8,52.2L194.2,54.6L206.1,52.2" fill="none" stroke="#c6d8fb" stroke-opacity="0.85" stroke-width="0.7" stroke-linejoin="round"/><path d="M189.4,32.5L184.0,49.4L188.8,71.5M170.8,52.2L184.0,49.4L206.1,52.2" fill="none" stroke="#d4e2fc" stroke-opacity="0.45" stroke-width="0.6"/><circle cx="189.1" cy="52.0" r="2.7" fill="#a06ad4" fill-opacity="0.6"/><circle cx="184.0" cy="49.4" r="1.5" fill="#58b4c4" fill-opacity="0.7"/><polygon points="223.9,33.5 206.1,52.2 221.3,71.1 240.0,52.2" fill="#7a94e6" fill-opacity="0.63"/><polygon points="223.9,33.5 206.1,52.2 227.5,54.8" fill="#7192e8" fill-opacity="0.84"/><polygon points="223.9,33.5 227.5,54.8 240.0,52.2" fill="#86a8f4" fill-opacity="0.84"/><polygon points="221.3,71.1 206.1,52.2 227.5,54.8" fill="#6e82de" fill-opacity="0.84"/><polygon points="221.3,71.1 227.5,54.8 240.0,52.2" fill="#7794ea" fill-opacity="0.84"/><path d="M223.9,33.5L206.1,52.2L221.3,71.1L240.0,52.2ZM223.9,33.5L227.5,54.8L221.3,71.1M206.1,52.2L227.5,54.8L240.0,52.2" fill="none" stroke="#c6d8fb" stroke-opacity="0.85" stroke-width="0.7" stroke-linejoin="round"/><path d="M223.9,33.5L217.7,49.8L221.3,71.1M206.1,52.2L217.7,49.8L240.0,52.2" fill="none" stroke="#d4e2fc" stroke-opacity="0.45" stroke-width="0.6"/><circle cx="222.6" cy="52.3" r="2.7" fill="#a06ad4" fill-opacity="0.6"/><circle cx="217.7" cy="49.8" r="1.5" fill="#58b4c4" fill-opacity="0.7"/>
<circle cx="113.7" cy="31.5" r="2.0" fill="url(#gG)"/><circle cx="113.7" cy="73.1" r="2.0" fill="url(#gG)"/><circle cx="92.9" cy="52.4" r="2.0" fill="url(#gG)"/><circle cx="133.2" cy="52.3" r="2.0" fill="url(#gG)"/><circle cx="119.5" cy="55.3" r="2.0" fill="url(#gG)"/><circle cx="152.8" cy="32.1" r="2.0" fill="url(#gG)"/><circle cx="152.2" cy="72.1" r="2.0" fill="url(#gG)"/><circle cx="170.8" cy="52.2" r="2.0" fill="url(#gG)"/><circle cx="158.0" cy="54.9" r="2.0" fill="url(#gG)"/><circle cx="189.4" cy="32.5" r="2.0" fill="url(#gG)"/><circle cx="188.8" cy="71.5" r="2.0" fill="url(#gG)"/><circle cx="206.1" cy="52.2" r="2.0" fill="url(#gG)"/><circle cx="194.2" cy="54.6" r="2.0" fill="url(#gG)"/><circle cx="223.9" cy="33.5" r="2.0" fill="url(#gG)"/><circle cx="221.3" cy="71.1" r="2.0" fill="url(#gG)"/><circle cx="240.0" cy="52.2" r="2.0" fill="url(#gG)"/><circle cx="227.5" cy="54.8" r="2.0" fill="url(#gG)"/>
<polygon points="123.2,32.5 100.9,54.8 123.2,77.8 144.7,54.8" fill="#7a94e6" fill-opacity="0.63"/><polygon points="123.2,32.5 100.9,54.8 129.5,57.3" fill="#7192e8" fill-opacity="0.84"/><polygon points="123.2,32.5 129.5,57.3 144.7,54.8" fill="#86a8f4" fill-opacity="0.84"/><polygon points="123.2,77.8 100.9,54.8 129.5,57.3" fill="#6e82de" fill-opacity="0.84"/><polygon points="123.2,77.8 129.5,57.3 144.7,54.8" fill="#7794ea" fill-opacity="0.84"/><path d="M123.2,32.5L100.9,54.8L123.2,77.8L144.7,54.8ZM123.2,32.5L129.5,57.3L123.2,77.8M100.9,54.8L129.5,57.3L144.7,54.8" fill="none" stroke="#c6d8fb" stroke-opacity="0.85" stroke-width="0.7" stroke-linejoin="round"/><path d="M123.2,32.5L116.9,53.0L123.2,77.8M100.9,54.8L116.9,53.0L144.7,54.8" fill="none" stroke="#d4e2fc" stroke-opacity="0.45" stroke-width="0.6"/><circle cx="123.2" cy="55.1" r="2.7" fill="#a06ad4" fill-opacity="0.6"/><circle cx="116.9" cy="53.0" r="1.5" fill="#58b4c4" fill-opacity="0.7"/><polygon points="165.8,32.5 144.7,54.8 165.4,76.8 185.7,54.8" fill="#7a94e6" fill-opacity="0.63"/><polygon points="165.8,32.5 144.7,54.8 173.6,56.9" fill="#7192e8" fill-opacity="0.84"/><polygon points="165.8,32.5 173.6,56.9 185.7,54.8" fill="#86a8f4" fill-opacity="0.84"/><polygon points="165.4,76.8 144.7,54.8 173.6,56.9" fill="#6e82de" fill-opacity="0.84"/><polygon points="165.4,76.8 173.6,56.9 185.7,54.8" fill="#7794ea" fill-opacity="0.84"/><path d="M165.8,32.5L144.7,54.8L165.4,76.8L185.7,54.8ZM165.8,32.5L173.6,56.9L165.4,76.8M144.7,54.8L173.6,56.9L185.7,54.8" fill="none" stroke="#c6d8fb" stroke-opacity="0.85" stroke-width="0.7" stroke-linejoin="round"/><path d="M165.8,32.5L157.6,52.4L165.4,76.8M144.7,54.8L157.6,52.4L185.7,54.8" fill="none" stroke="#d4e2fc" stroke-opacity="0.45" stroke-width="0.6"/><circle cx="165.6" cy="54.6" r="2.7" fill="#a06ad4" fill-opacity="0.6"/><circle cx="157.6" cy="52.4" r="1.5" fill="#58b4c4" fill-opacity="0.7"/><polygon points="205.6,33.5 185.7,54.8 203.0,76.1 223.3,55.2" fill="#7a94e6" fill-opacity="0.63"/><polygon points="205.6,33.5 185.7,54.8 214.2,56.9" fill="#7192e8" fill-opacity="0.84"/><polygon points="205.6,33.5 214.2,56.9 223.3,55.2" fill="#86a8f4" fill-opacity="0.84"/><polygon points="203.0,76.1 185.7,54.8 214.2,56.9" fill="#6e82de" fill-opacity="0.84"/><polygon points="203.0,76.1 214.2,56.9 223.3,55.2" fill="#7794ea" fill-opacity="0.84"/><path d="M205.6,33.5L185.7,54.8L203.0,76.1L223.3,55.2ZM205.6,33.5L214.2,56.9L203.0,76.1M185.7,54.8L214.2,56.9L223.3,55.2" fill="none" stroke="#c6d8fb" stroke-opacity="0.85" stroke-width="0.7" stroke-linejoin="round"/><path d="M205.6,33.5L194.4,52.7L203.0,76.1M185.7,54.8L194.4,52.7L223.3,55.2" fill="none" stroke="#d4e2fc" stroke-opacity="0.45" stroke-width="0.6"/><circle cx="204.3" cy="54.8" r="2.7" fill="#a06ad4" fill-opacity="0.6"/><circle cx="194.4" cy="52.7" r="1.5" fill="#58b4c4" fill-opacity="0.7"/><polygon points="242.2,34.5 223.3,55.2 238.5,75.1 257.8,54.8" fill="#7a94e6" fill-opacity="0.63"/><polygon points="242.2,34.5 223.3,55.2 252.1,56.9" fill="#7192e8" fill-opacity="0.84"/><polygon points="242.2,34.5 252.1,56.9 257.8,54.8" fill="#86a8f4" fill-opacity="0.84"/><polygon points="238.5,75.1 223.3,55.2 252.1,56.9" fill="#6e82de" fill-opacity="0.84"/><polygon points="238.5,75.1 252.1,56.9 257.8,54.8" fill="#7794ea" fill-opacity="0.84"/><path d="M242.2,34.5L223.3,55.2L238.5,75.1L257.8,54.8ZM242.2,34.5L252.1,56.9L238.5,75.1M223.3,55.2L252.1,56.9L257.8,54.8" fill="none" stroke="#c6d8fb" stroke-opacity="0.85" stroke-width="0.7" stroke-linejoin="round"/><path d="M242.2,34.5L228.6,52.7L238.5,75.1M223.3,55.2L228.6,52.7L257.8,54.8" fill="none" stroke="#d4e2fc" stroke-opacity="0.45" stroke-width="0.6"/><circle cx="240.3" cy="54.8" r="2.7" fill="#a06ad4" fill-opacity="0.6"/><circle cx="228.6" cy="52.7" r="1.5" fill="#58b4c4" fill-opacity="0.7"/>
<circle cx="123.2" cy="32.5" r="2.0" fill="url(#gG)"/><circle cx="123.2" cy="77.8" r="2.0" fill="url(#gG)"/><circle cx="100.9" cy="54.8" r="2.0" fill="url(#gG)"/><circle cx="144.7" cy="54.8" r="2.0" fill="url(#gG)"/><circle cx="129.5" cy="57.3" r="2.0" fill="url(#gG)"/><circle cx="165.8" cy="32.5" r="2.0" fill="url(#gG)"/><circle cx="165.4" cy="76.8" r="2.0" fill="url(#gG)"/><circle cx="185.7" cy="54.8" r="2.0" fill="url(#gG)"/><circle cx="173.6" cy="56.9" r="2.0" fill="url(#gG)"/><circle cx="205.6" cy="33.5" r="2.0" fill="url(#gG)"/><circle cx="203.0" cy="76.1" r="2.0" fill="url(#gG)"/><circle cx="223.3" cy="55.2" r="2.0" fill="url(#gG)"/><circle cx="214.2" cy="56.9" r="2.0" fill="url(#gG)"/><circle cx="242.2" cy="34.5" r="2.0" fill="url(#gG)"/><circle cx="238.5" cy="75.1" r="2.0" fill="url(#gG)"/><circle cx="257.8" cy="54.8" r="2.0" fill="url(#gG)"/><circle cx="252.1" cy="56.9" r="2.0" fill="url(#gG)"/>
<polygon points="106.5,131.0 88.7,150.0 106.5,167.0 123.8,147.5" fill="#7a94e6" fill-opacity="0.63"/><polygon points="106.5,131.0 88.7,150.0 111.6,151.6" fill="#7192e8" fill-opacity="0.84"/><polygon points="106.5,131.0 111.6,151.6 123.8,147.5" fill="#86a8f4" fill-opacity="0.84"/><polygon points="106.5,167.0 88.7,150.0 111.6,151.6" fill="#6e82de" fill-opacity="0.84"/><polygon points="106.5,167.0 111.6,151.6 123.8,147.5" fill="#7794ea" fill-opacity="0.84"/><path d="M106.5,131.0L88.7,150.0L106.5,167.0L123.8,147.5ZM106.5,131.0L111.6,151.6L106.5,167.0M88.7,150.0L111.6,151.6L123.8,147.5" fill="none" stroke="#c6d8fb" stroke-opacity="0.85" stroke-width="0.7" stroke-linejoin="round"/><path d="M106.5,131.0L101.4,146.4L106.5,167.0M88.7,150.0L101.4,146.4L123.8,147.5" fill="none" stroke="#d4e2fc" stroke-opacity="0.45" stroke-width="0.6"/><circle cx="106.5" cy="149.0" r="2.7" fill="#a06ad4" fill-opacity="0.6"/><circle cx="101.4" cy="146.4" r="1.5" fill="#58b4c4" fill-opacity="0.7"/><polygon points="141.1,129.0 123.8,147.5 141.1,164.5 157.9,145.0" fill="#7a94e6" fill-opacity="0.63"/><polygon points="141.1,129.0 123.8,147.5 146.0,149.3" fill="#7192e8" fill-opacity="0.84"/><polygon points="141.1,129.0 146.0,149.3 157.9,145.0" fill="#86a8f4" fill-opacity="0.84"/><polygon points="141.1,164.5 123.8,147.5 146.0,149.3" fill="#6e82de" fill-opacity="0.84"/><polygon points="141.1,164.5 146.0,149.3 157.9,145.0" fill="#7794ea" fill-opacity="0.84"/><path d="M141.1,129.0L123.8,147.5L141.1,164.5L157.9,145.0ZM141.1,129.0L146.0,149.3L141.1,164.5M123.8,147.5L146.0,149.3L157.9,145.0" fill="none" stroke="#c6d8fb" stroke-opacity="0.85" stroke-width="0.7" stroke-linejoin="round"/><path d="M141.1,129.0L136.2,144.2L141.1,164.5M123.8,147.5L136.2,144.2L157.9,145.0" fill="none" stroke="#d4e2fc" stroke-opacity="0.45" stroke-width="0.6"/><circle cx="141.1" cy="146.8" r="2.7" fill="#a06ad4" fill-opacity="0.6"/><circle cx="136.2" cy="144.2" r="1.5" fill="#58b4c4" fill-opacity="0.7"/><polygon points="174.6,127.0 157.9,145.0 174.6,162.0 190.1,142.7" fill="#7a94e6" fill-opacity="0.63"/><polygon points="174.6,127.0 157.9,145.0 179.3,146.9" fill="#7192e8" fill-opacity="0.84"/><polygon points="174.6,127.0 179.3,146.9 190.1,142.7" fill="#86a8f4" fill-opacity="0.84"/><polygon points="174.6,162.0 157.9,145.0 179.3,146.9" fill="#6e82de" fill-opacity="0.84"/><polygon points="174.6,162.0 179.3,146.9 190.1,142.7" fill="#7794ea" fill-opacity="0.84"/><path d="M174.6,127.0L157.9,145.0L174.6,162.0L190.1,142.7ZM174.6,127.0L179.3,146.9L174.6,162.0M157.9,145.0L179.3,146.9L190.1,142.7" fill="none" stroke="#c6d8fb" stroke-opacity="0.85" stroke-width="0.7" stroke-linejoin="round"/><path d="M174.6,127.0L169.9,142.1L174.6,162.0M157.9,145.0L169.9,142.1L190.1,142.7" fill="none" stroke="#d4e2fc" stroke-opacity="0.45" stroke-width="0.6"/><circle cx="174.6" cy="144.5" r="2.7" fill="#a06ad4" fill-opacity="0.6"/><circle cx="169.9" cy="142.1" r="1.5" fill="#58b4c4" fill-opacity="0.7"/><polygon points="205.6,125.0 190.1,142.7 205.6,159.5 221.0,140.5" fill="#7a94e6" fill-opacity="0.63"/><polygon points="205.6,125.0 190.1,142.7 210.1,144.6" fill="#7192e8" fill-opacity="0.84"/><polygon points="205.6,125.0 210.1,144.6 221.0,140.5" fill="#86a8f4" fill-opacity="0.84"/><polygon points="205.6,159.5 190.1,142.7 210.1,144.6" fill="#6e82de" fill-opacity="0.84"/><polygon points="205.6,159.5 210.1,144.6 221.0,140.5" fill="#7794ea" fill-opacity="0.84"/><path d="M205.6,125.0L190.1,142.7L205.6,159.5L221.0,140.5ZM205.6,125.0L210.1,144.6L205.6,159.5M190.1,142.7L210.1,144.6L221.0,140.5" fill="none" stroke="#c6d8fb" stroke-opacity="0.85" stroke-width="0.7" stroke-linejoin="round"/><path d="M205.6,125.0L201.1,139.9L205.6,159.5M190.1,142.7L201.1,139.9L221.0,140.5" fill="none" stroke="#d4e2fc" stroke-opacity="0.45" stroke-width="0.6"/><circle cx="205.6" cy="142.2" r="2.7" fill="#a06ad4" fill-opacity="0.6"/><circle cx="201.1" cy="139.9" r="1.5" fill="#58b4c4" fill-opacity="0.7"/>
<circle cx="106.5" cy="131.0" r="2.0" fill="url(#gG)"/><circle cx="106.5" cy="167.0" r="2.0" fill="url(#gG)"/><circle cx="88.7" cy="150.0" r="2.0" fill="url(#gG)"/><circle cx="123.8" cy="147.5" r="2.0" fill="url(#gG)"/><circle cx="111.6" cy="151.6" r="2.0" fill="url(#gG)"/><circle cx="141.1" cy="129.0" r="2.0" fill="url(#gG)"/><circle cx="141.1" cy="164.5" r="2.0" fill="url(#gG)"/><circle cx="157.9" cy="145.0" r="2.0" fill="url(#gG)"/><circle cx="146.0" cy="149.3" r="2.0" fill="url(#gG)"/><circle cx="174.6" cy="127.0" r="2.0" fill="url(#gG)"/><circle cx="174.6" cy="162.0" r="2.0" fill="url(#gG)"/><circle cx="190.1" cy="142.7" r="2.0" fill="url(#gG)"/><circle cx="179.3" cy="146.9" r="2.0" fill="url(#gG)"/><circle cx="205.6" cy="125.0" r="2.0" fill="url(#gG)"/><circle cx="205.6" cy="159.5" r="2.0" fill="url(#gG)"/><circle cx="221.0" cy="140.5" r="2.0" fill="url(#gG)"/><circle cx="210.1" cy="144.6" r="2.0" fill="url(#gG)"/>
<polygon points="106.5,94.1 87.9,112.4 106.5,131.0 123.8,111.5" fill="#7a94e6" fill-opacity="0.63"/><polygon points="106.5,94.1 87.9,112.4 111.7,115.2" fill="#7192e8" fill-opacity="0.84"/><polygon points="106.5,94.1 111.7,115.2 123.8,111.5" fill="#86a8f4" fill-opacity="0.84"/><polygon points="106.5,131.0 87.9,112.4 111.7,115.2" fill="#6e82de" fill-opacity="0.84"/><polygon points="106.5,131.0 111.7,115.2 123.8,111.5" fill="#7794ea" fill-opacity="0.84"/><path d="M106.5,94.1L87.9,112.4L106.5,131.0L123.8,111.5ZM106.5,94.1L111.7,115.2L106.5,131.0M87.9,112.4L111.7,115.2L123.8,111.5" fill="none" stroke="#c6d8fb" stroke-opacity="0.85" stroke-width="0.7" stroke-linejoin="round"/><path d="M106.5,94.1L101.3,109.9L106.5,131.0M87.9,112.4L101.3,109.9L123.8,111.5" fill="none" stroke="#d4e2fc" stroke-opacity="0.45" stroke-width="0.6"/><circle cx="106.5" cy="112.5" r="2.7" fill="#a06ad4" fill-opacity="0.6"/><circle cx="101.3" cy="109.9" r="1.5" fill="#58b4c4" fill-opacity="0.7"/><polygon points="141.1,92.7 123.8,111.5 141.1,129.0 157.9,110.2" fill="#7a94e6" fill-opacity="0.63"/><polygon points="141.1,92.7 123.8,111.5 146.0,113.4" fill="#7192e8" fill-opacity="0.84"/><polygon points="141.1,92.7 146.0,113.4 157.9,110.2" fill="#86a8f4" fill-opacity="0.84"/><polygon points="141.1,129.0 123.8,111.5 146.0,113.4" fill="#6e82de" fill-opacity="0.84"/><polygon points="141.1,129.0 146.0,113.4 157.9,110.2" fill="#7794ea" fill-opacity="0.84"/><path d="M141.1,92.7L123.8,111.5L141.1,129.0L157.9,110.2ZM141.1,92.7L146.0,113.4L141.1,129.0M123.8,111.5L146.0,113.4L157.9,110.2" fill="none" stroke="#c6d8fb" stroke-opacity="0.85" stroke-width="0.7" stroke-linejoin="round"/><path d="M141.1,92.7L136.2,108.3L141.1,129.0M123.8,111.5L136.2,108.3L157.9,110.2" fill="none" stroke="#d4e2fc" stroke-opacity="0.45" stroke-width="0.6"/><circle cx="141.1" cy="110.8" r="2.7" fill="#a06ad4" fill-opacity="0.6"/><circle cx="136.2" cy="108.3" r="1.5" fill="#58b4c4" fill-opacity="0.7"/><polygon points="174.6,91.5 157.9,110.2 174.6,127.0 190.1,109.0" fill="#7a94e6" fill-opacity="0.63"/><polygon points="174.6,91.5 157.9,110.2 179.3,111.7" fill="#7192e8" fill-opacity="0.84"/><polygon points="174.6,91.5 179.3,111.7 190.1,109.0" fill="#86a8f4" fill-opacity="0.84"/><polygon points="174.6,127.0 157.9,110.2 179.3,111.7" fill="#6e82de" fill-opacity="0.84"/><polygon points="174.6,127.0 179.3,111.7 190.1,109.0" fill="#7794ea" fill-opacity="0.84"/><path d="M174.6,91.5L157.9,110.2L174.6,127.0L190.1,109.0ZM174.6,91.5L179.3,111.7L174.6,127.0M157.9,110.2L179.3,111.7L190.1,109.0" fill="none" stroke="#c6d8fb" stroke-opacity="0.85" stroke-width="0.7" stroke-linejoin="round"/><path d="M174.6,91.5L169.9,106.8L174.6,127.0M157.9,110.2L169.9,106.8L190.1,109.0" fill="none" stroke="#d4e2fc" stroke-opacity="0.45" stroke-width="0.6"/><circle cx="174.6" cy="109.2" r="2.7" fill="#a06ad4" fill-opacity="0.6"/><circle cx="169.9" cy="106.8" r="1.5" fill="#58b4c4" fill-opacity="0.7"/><polygon points="205.6,90.7 190.1,109.0 205.6,125.0 221.0,108.0" fill="#7a94e6" fill-opacity="0.63"/><polygon points="205.6,90.7 190.1,109.0 210.1,110.2" fill="#7192e8" fill-opacity="0.84"/><polygon points="205.6,90.7 210.1,110.2 221.0,108.0" fill="#86a8f4" fill-opacity="0.84"/><polygon points="205.6,125.0 190.1,109.0 210.1,110.2" fill="#6e82de" fill-opacity="0.84"/><polygon points="205.6,125.0 210.1,110.2 221.0,108.0" fill="#7794ea" fill-opacity="0.84"/><path d="M205.6,90.7L190.1,109.0L205.6,125.0L221.0,108.0ZM205.6,90.7L210.1,110.2L205.6,125.0M190.1,109.0L210.1,110.2L221.0,108.0" fill="none" stroke="#c6d8fb" stroke-opacity="0.85" stroke-width="0.7" stroke-linejoin="round"/><path d="M205.6,90.7L201.1,105.5L205.6,125.0M190.1,109.0L201.1,105.5L221.0,108.0" fill="none" stroke="#d4e2fc" stroke-opacity="0.45" stroke-width="0.6"/><circle cx="205.6" cy="107.8" r="2.7" fill="#a06ad4" fill-opacity="0.6"/><circle cx="201.1" cy="105.5" r="1.5" fill="#58b4c4" fill-opacity="0.7"/>
<circle cx="106.5" cy="94.1" r="2.0" fill="url(#gG)"/><circle cx="106.5" cy="131.0" r="2.0" fill="url(#gG)"/><circle cx="87.9" cy="112.4" r="2.0" fill="url(#gG)"/><circle cx="123.8" cy="111.5" r="2.0" fill="url(#gG)"/><circle cx="111.7" cy="115.2" r="2.0" fill="url(#gG)"/><circle cx="141.1" cy="92.7" r="2.0" fill="url(#gG)"/><circle cx="141.1" cy="129.0" r="2.0" fill="url(#gG)"/><circle cx="157.9" cy="110.2" r="2.0" fill="url(#gG)"/><circle cx="146.0" cy="113.4" r="2.0" fill="url(#gG)"/><circle cx="174.6" cy="91.5" r="2.0" fill="url(#gG)"/><circle cx="174.6" cy="127.0" r="2.0" fill="url(#gG)"/><circle cx="190.1" cy="109.0" r="2.0" fill="url(#gG)"/><circle cx="179.3" cy="111.7" r="2.0" fill="url(#gG)"/><circle cx="205.6" cy="90.7" r="2.0" fill="url(#gG)"/><circle cx="205.6" cy="125.0" r="2.0" fill="url(#gG)"/><circle cx="221.0" cy="108.0" r="2.0" fill="url(#gG)"/><circle cx="210.1" cy="110.2" r="2.0" fill="url(#gG)"/>
<polygon points="115.1,138.2 96.0,158.5 115.1,177.4 134.0,155.7" fill="#7a94e6" fill-opacity="0.63"/><polygon points="115.1,138.2 96.0,158.5 120.6,160.7" fill="#7192e8" fill-opacity="0.84"/><polygon points="115.1,138.2 120.6,160.7 134.0,155.7" fill="#86a8f4" fill-opacity="0.84"/><polygon points="115.1,177.4 96.0,158.5 120.6,160.7" fill="#6e82de" fill-opacity="0.84"/><polygon points="115.1,177.4 120.6,160.7 134.0,155.7" fill="#7794ea" fill-opacity="0.84"/><path d="M115.1,138.2L96.0,158.5L115.1,177.4L134.0,155.7ZM115.1,138.2L120.6,160.7L115.1,177.4M96.0,158.5L120.6,160.7L134.0,155.7" fill="none" stroke="#c6d8fb" stroke-opacity="0.85" stroke-width="0.7" stroke-linejoin="round"/><path d="M115.1,138.2L109.6,155.0L115.1,177.4M96.0,158.5L109.6,155.0L134.0,155.7" fill="none" stroke="#d4e2fc" stroke-opacity="0.45" stroke-width="0.6"/><circle cx="115.1" cy="157.8" r="2.7" fill="#a06ad4" fill-opacity="0.6"/><circle cx="109.6" cy="155.0" r="1.5" fill="#58b4c4" fill-opacity="0.7"/><polygon points="153.2,134.7 134.0,155.7 152.8,172.7 170.8,152.0" fill="#7a94e6" fill-opacity="0.63"/><polygon points="153.2,134.7 134.0,155.7 158.3,156.5" fill="#7192e8" fill-opacity="0.84"/><polygon points="153.2,134.7 158.3,156.5 170.8,152.0" fill="#86a8f4" fill-opacity="0.84"/><polygon points="152.8,172.7 134.0,155.7 158.3,156.5" fill="#6e82de" fill-opacity="0.84"/><polygon points="152.8,172.7 158.3,156.5 170.8,152.0" fill="#7794ea" fill-opacity="0.84"/><path d="M153.2,134.7L134.0,155.7L152.8,172.7L170.8,152.0ZM153.2,134.7L158.3,156.5L152.8,172.7M134.0,155.7L158.3,156.5L170.8,152.0" fill="none" stroke="#c6d8fb" stroke-opacity="0.85" stroke-width="0.7" stroke-linejoin="round"/><path d="M153.2,134.7L147.7,150.9L152.8,172.7M134.0,155.7L147.7,150.9L170.8,152.0" fill="none" stroke="#d4e2fc" stroke-opacity="0.45" stroke-width="0.6"/><circle cx="153.0" cy="153.7" r="2.7" fill="#a06ad4" fill-opacity="0.6"/><circle cx="147.7" cy="150.9" r="1.5" fill="#58b4c4" fill-opacity="0.7"/><polygon points="189.4,132.1 170.8,152.0 187.8,168.2 204.8,148.7" fill="#7a94e6" fill-opacity="0.63"/><polygon points="189.4,132.1 170.8,152.0 193.5,152.7" fill="#7192e8" fill-opacity="0.84"/><polygon points="189.4,132.1 193.5,152.7 204.8,148.7" fill="#86a8f4" fill-opacity="0.84"/><polygon points="187.8,168.2 170.8,152.0 193.5,152.7" fill="#6e82de" fill-opacity="0.84"/><polygon points="187.8,168.2 193.5,152.7 204.8,148.7" fill="#7794ea" fill-opacity="0.84"/><path d="M189.4,132.1L170.8,152.0L187.8,168.2L204.8,148.7ZM189.4,132.1L193.5,152.7L187.8,168.2M170.8,152.0L193.5,152.7L204.8,148.7" fill="none" stroke="#c6d8fb" stroke-opacity="0.85" stroke-width="0.7" stroke-linejoin="round"/><path d="M189.4,132.1L183.7,147.6L187.8,168.2M170.8,152.0L183.7,147.6L204.8,148.7" fill="none" stroke="#d4e2fc" stroke-opacity="0.45" stroke-width="0.6"/><circle cx="188.6" cy="150.1" r="2.7" fill="#a06ad4" fill-opacity="0.6"/><circle cx="183.7" cy="147.6" r="1.5" fill="#58b4c4" fill-opacity="0.7"/><polygon points="221.3,129.3 204.8,148.7 220.7,165.2 237.5,146.0" fill="#7a94e6" fill-opacity="0.63"/><polygon points="221.3,129.3 204.8,148.7 225.7,149.7" fill="#7192e8" fill-opacity="0.84"/><polygon points="221.3,129.3 225.7,149.7 237.5,146.0" fill="#86a8f4" fill-opacity="0.84"/><polygon points="220.7,165.2 204.8,148.7 225.7,149.7" fill="#6e82de" fill-opacity="0.84"/><polygon points="220.7,165.2 225.7,149.7 237.5,146.0" fill="#7794ea" fill-opacity="0.84"/><path d="M221.3,129.3L204.8,148.7L220.7,165.2L237.5,146.0ZM221.3,129.3L225.7,149.7L220.7,165.2M204.8,148.7L225.7,149.7L237.5,146.0" fill="none" stroke="#c6d8fb" stroke-opacity="0.85" stroke-width="0.7" stroke-linejoin="round"/><path d="M221.3,129.3L216.3,144.8L220.7,165.2M204.8,148.7L216.3,144.8L237.5,146.0" fill="none" stroke="#d4e2fc" stroke-opacity="0.45" stroke-width="0.6"/><circle cx="221.0" cy="147.2" r="2.7" fill="#a06ad4" fill-opacity="0.6"/><circle cx="216.3" cy="144.8" r="1.5" fill="#58b4c4" fill-opacity="0.7"/>
<circle cx="115.1" cy="138.2" r="2.0" fill="url(#gG)"/><circle cx="115.1" cy="177.4" r="2.0" fill="url(#gG)"/><circle cx="96.0" cy="158.5" r="2.0" fill="url(#gG)"/><circle cx="134.0" cy="155.7" r="2.0" fill="url(#gG)"/><circle cx="120.6" cy="160.7" r="2.0" fill="url(#gG)"/><circle cx="153.2" cy="134.7" r="2.0" fill="url(#gG)"/><circle cx="152.8" cy="172.7" r="2.0" fill="url(#gG)"/><circle cx="170.8" cy="152.0" r="2.0" fill="url(#gG)"/><circle cx="158.3" cy="156.5" r="2.0" fill="url(#gG)"/><circle cx="189.4" cy="132.1" r="2.0" fill="url(#gG)"/><circle cx="187.8" cy="168.2" r="2.0" fill="url(#gG)"/><circle cx="204.8" cy="148.7" r="2.0" fill="url(#gG)"/><circle cx="193.5" cy="152.7" r="2.0" fill="url(#gG)"/><circle cx="221.3" cy="129.3" r="2.0" fill="url(#gG)"/><circle cx="220.7" cy="165.2" r="2.0" fill="url(#gG)"/><circle cx="237.5" cy="146.0" r="2.0" fill="url(#gG)"/><circle cx="225.7" cy="149.7" r="2.0" fill="url(#gG)"/>
<polygon points="115.1,97.6 95.4,118.5 115.1,138.2 134.0,116.7" fill="#7a94e6" fill-opacity="0.63"/><polygon points="115.1,97.6 95.4,118.5 120.7,120.8" fill="#7192e8" fill-opacity="0.84"/><polygon points="115.1,97.6 120.7,120.8 134.0,116.7" fill="#86a8f4" fill-opacity="0.84"/><polygon points="115.1,138.2 95.4,118.5 120.7,120.8" fill="#6e82de" fill-opacity="0.84"/><polygon points="115.1,138.2 120.7,120.8 134.0,116.7" fill="#7794ea" fill-opacity="0.84"/><path d="M115.1,97.6L95.4,118.5L115.1,138.2L134.0,116.7ZM115.1,97.6L120.7,120.8L115.1,138.2M95.4,118.5L120.7,120.8L134.0,116.7" fill="none" stroke="#c6d8fb" stroke-opacity="0.85" stroke-width="0.7" stroke-linejoin="round"/><path d="M115.1,97.6L109.5,115.0L115.1,138.2M95.4,118.5L109.5,115.0L134.0,116.7" fill="none" stroke="#d4e2fc" stroke-opacity="0.45" stroke-width="0.6"/><circle cx="115.1" cy="117.9" r="2.7" fill="#a06ad4" fill-opacity="0.6"/><circle cx="109.5" cy="115.0" r="1.5" fill="#58b4c4" fill-opacity="0.7"/><polygon points="152.8,96.2 134.0,116.7 153.2,134.7 170.8,114.5" fill="#7a94e6" fill-opacity="0.63"/><polygon points="152.8,96.2 134.0,116.7 158.3,118.2" fill="#7192e8" fill-opacity="0.84"/><polygon points="152.8,96.2 158.3,118.2 170.8,114.5" fill="#86a8f4" fill-opacity="0.84"/><polygon points="153.2,134.7 134.0,116.7 158.3,118.2" fill="#6e82de" fill-opacity="0.84"/><polygon points="153.2,134.7 158.3,118.2 170.8,114.5" fill="#7794ea" fill-opacity="0.84"/><path d="M152.8,96.2L134.0,116.7L153.2,134.7L170.8,114.5ZM152.8,96.2L158.3,118.2L153.2,134.7M134.0,116.7L158.3,118.2L170.8,114.5" fill="none" stroke="#c6d8fb" stroke-opacity="0.85" stroke-width="0.7" stroke-linejoin="round"/><path d="M152.8,96.2L147.7,112.7L153.2,134.7M134.0,116.7L147.7,112.7L170.8,114.5" fill="none" stroke="#d4e2fc" stroke-opacity="0.45" stroke-width="0.6"/><circle cx="153.0" cy="115.4" r="2.7" fill="#a06ad4" fill-opacity="0.6"/><circle cx="147.7" cy="112.7" r="1.5" fill="#58b4c4" fill-opacity="0.7"/><polygon points="187.8,94.7 170.8,114.5 189.4,132.1 205.5,112.3" fill="#7a94e6" fill-opacity="0.63"/><polygon points="187.8,94.7 170.8,114.5 193.6,116.0" fill="#7192e8" fill-opacity="0.84"/><polygon points="187.8,94.7 193.6,116.0 205.5,112.3" fill="#86a8f4" fill-opacity="0.84"/><polygon points="189.4,132.1 170.8,114.5 193.6,116.0" fill="#6e82de" fill-opacity="0.84"/><polygon points="189.4,132.1 193.6,116.0 205.5,112.3" fill="#7794ea" fill-opacity="0.84"/><path d="M187.8,94.7L170.8,114.5L189.4,132.1L205.5,112.3ZM187.8,94.7L193.6,116.0L189.4,132.1M170.8,114.5L193.6,116.0L205.5,112.3" fill="none" stroke="#c6d8fb" stroke-opacity="0.85" stroke-width="0.7" stroke-linejoin="round"/><path d="M187.8,94.7L183.6,110.8L189.4,132.1M170.8,114.5L183.6,110.8L205.5,112.3" fill="none" stroke="#d4e2fc" stroke-opacity="0.45" stroke-width="0.6"/><circle cx="188.6" cy="113.4" r="2.7" fill="#a06ad4" fill-opacity="0.6"/><circle cx="183.6" cy="110.8" r="1.5" fill="#58b4c4" fill-opacity="0.7"/><polygon points="223.3,93.1 205.5,112.3 221.3,129.3 238.0,110.5" fill="#7a94e6" fill-opacity="0.63"/><polygon points="223.3,93.1 205.5,112.3 227.0,113.6" fill="#7192e8" fill-opacity="0.84"/><polygon points="223.3,93.1 227.0,113.6 238.0,110.5" fill="#86a8f4" fill-opacity="0.84"/><polygon points="221.3,129.3 205.5,112.3 227.0,113.6" fill="#6e82de" fill-opacity="0.84"/><polygon points="221.3,129.3 227.0,113.6 238.0,110.5" fill="#7794ea" fill-opacity="0.84"/><path d="M223.3,93.1L205.5,112.3L221.3,129.3L238.0,110.5ZM223.3,93.1L227.0,113.6L221.3,129.3M205.5,112.3L227.0,113.6L238.0,110.5" fill="none" stroke="#c6d8fb" stroke-opacity="0.85" stroke-width="0.7" stroke-linejoin="round"/><path d="M223.3,93.1L217.6,108.8L221.3,129.3M205.5,112.3L217.6,108.8L238.0,110.5" fill="none" stroke="#d4e2fc" stroke-opacity="0.45" stroke-width="0.6"/><circle cx="222.3" cy="111.2" r="2.7" fill="#a06ad4" fill-opacity="0.6"/><circle cx="217.6" cy="108.8" r="1.5" fill="#58b4c4" fill-opacity="0.7"/>
<circle cx="115.1" cy="97.6" r="2.0" fill="url(#gG)"/><circle cx="115.1" cy="138.2" r="2.0" fill="url(#gG)"/><circle cx="95.4" cy="118.5" r="2.0" fill="url(#gG)"/><circle cx="134.0" cy="116.7" r="2.0" fill="url(#gG)"/><circle cx="120.7" cy="120.8" r="2.0" fill="url(#gG)"/><circle cx="152.8" cy="96.2" r="2.0" fill="url(#gG)"/><circle cx="153.2" cy="134.7" r="2.0" fill="url(#gG)"/><circle cx="170.8" cy="114.5" r="2.0" fill="url(#gG)"/><circle cx="158.3" cy="118.2" r="2.0" fill="url(#gG)"/><circle cx="187.8" cy="94.7" r="2.0" fill="url(#gG)"/><circle cx="189.4" cy="132.1" r="2.0" fill="url(#gG)"/><circle cx="205.5" cy="112.3" r="2.0" fill="url(#gG)"/><circle cx="193.6" cy="116.0" r="2.0" fill="url(#gG)"/><circle cx="223.3" cy="93.1" r="2.0" fill="url(#gG)"/><circle cx="221.3" cy="129.3" r="2.0" fill="url(#gG)"/><circle cx="238.0" cy="110.5" r="2.0" fill="url(#gG)"/><circle cx="227.0" cy="113.6" r="2.0" fill="url(#gG)"/>
<polygon points="126.4,145.9 104.9,169.9 126.4,189.6 147.2,165.8" fill="#7a94e6" fill-opacity="0.63"/><polygon points="126.4,145.9 104.9,169.9 132.5,173.9" fill="#7192e8" fill-opacity="0.84"/><polygon points="126.4,145.9 132.5,173.9 147.2,165.8" fill="#86a8f4" fill-opacity="0.84"/><polygon points="126.4,189.6 104.9,169.9 132.5,173.9" fill="#6e82de" fill-opacity="0.84"/><polygon points="126.4,189.6 132.5,173.9 147.2,165.8" fill="#7794ea" fill-opacity="0.84"/><path d="M126.4,145.9L104.9,169.9L126.4,189.6L147.2,165.8ZM126.4,145.9L132.5,173.9L126.4,189.6M104.9,169.9L132.5,173.9L147.2,165.8" fill="none" stroke="#c6d8fb" stroke-opacity="0.85" stroke-width="0.7" stroke-linejoin="round"/><path d="M126.4,145.9L120.3,161.6L126.4,189.6M104.9,169.9L120.3,161.6L147.2,165.8" fill="none" stroke="#d4e2fc" stroke-opacity="0.45" stroke-width="0.6"/><circle cx="126.4" cy="167.8" r="2.7" fill="#a06ad4" fill-opacity="0.6"/><circle cx="120.3" cy="161.6" r="1.5" fill="#58b4c4" fill-opacity="0.7"/><polygon points="167.1,143.5 147.2,165.8 167.1,184.5 186.8,161.8" fill="#7a94e6" fill-opacity="0.63"/><polygon points="167.1,143.5 147.2,165.8 175.2,169.3" fill="#7192e8" fill-opacity="0.84"/><polygon points="167.1,143.5 175.2,169.3 186.8,161.8" fill="#86a8f4" fill-opacity="0.84"/><polygon points="167.1,184.5 147.2,165.8 175.2,169.3" fill="#6e82de" fill-opacity="0.84"/><polygon points="167.1,184.5 175.2,169.3 186.8,161.8" fill="#7794ea" fill-opacity="0.84"/><path d="M167.1,143.5L147.2,165.8L167.1,184.5L186.8,161.8ZM167.1,143.5L175.2,169.3L167.1,184.5M147.2,165.8L175.2,169.3L186.8,161.8" fill="none" stroke="#c6d8fb" stroke-opacity="0.85" stroke-width="0.7" stroke-linejoin="round"/><path d="M167.1,143.5L159.0,158.7L167.1,184.5M147.2,165.8L159.0,158.7L186.8,161.8" fill="none" stroke="#d4e2fc" stroke-opacity="0.45" stroke-width="0.6"/><circle cx="167.1" cy="164.0" r="2.7" fill="#a06ad4" fill-opacity="0.6"/><circle cx="159.0" cy="158.7" r="1.5" fill="#58b4c4" fill-opacity="0.7"/><polygon points="205.0,139.8 186.8,161.8 204.4,179.4 223.3,158.1" fill="#7a94e6" fill-opacity="0.63"/><polygon points="205.0,139.8 186.8,161.8 214.6,165.2" fill="#7192e8" fill-opacity="0.84"/><polygon points="205.0,139.8 214.6,165.2 223.3,158.1" fill="#86a8f4" fill-opacity="0.84"/><polygon points="204.4,179.4 186.8,161.8 214.6,165.2" fill="#6e82de" fill-opacity="0.84"/><polygon points="204.4,179.4 214.6,165.2 223.3,158.1" fill="#7794ea" fill-opacity="0.84"/><path d="M205.0,139.8L186.8,161.8L204.4,179.4L223.3,158.1ZM205.0,139.8L214.6,165.2L204.4,179.4M186.8,161.8L214.6,165.2L223.3,158.1" fill="none" stroke="#c6d8fb" stroke-opacity="0.85" stroke-width="0.7" stroke-linejoin="round"/><path d="M205.0,139.8L194.8,154.0L204.4,179.4M186.8,161.8L194.8,154.0L223.3,158.1" fill="none" stroke="#d4e2fc" stroke-opacity="0.45" stroke-width="0.6"/><circle cx="204.7" cy="159.6" r="2.7" fill="#a06ad4" fill-opacity="0.6"/><circle cx="194.8" cy="154.0" r="1.5" fill="#58b4c4" fill-opacity="0.7"/><polygon points="240.6,137.4 223.3,158.1 240.2,175.4 257.2,155.1" fill="#7a94e6" fill-opacity="0.63"/><polygon points="240.6,137.4 223.3,158.1 251.3,161.1" fill="#7192e8" fill-opacity="0.84"/><polygon points="240.6,137.4 251.3,161.1 257.2,155.1" fill="#86a8f4" fill-opacity="0.84"/><polygon points="240.2,175.4 223.3,158.1 251.3,161.1" fill="#6e82de" fill-opacity="0.84"/><polygon points="240.2,175.4 251.3,161.1 257.2,155.1" fill="#7794ea" fill-opacity="0.84"/><path d="M240.6,137.4L223.3,158.1L240.2,175.4L257.2,155.1ZM240.6,137.4L251.3,161.1L240.2,175.4M223.3,158.1L251.3,161.1L257.2,155.1" fill="none" stroke="#c6d8fb" stroke-opacity="0.85" stroke-width="0.7" stroke-linejoin="round"/><path d="M240.6,137.4L229.5,151.7L240.2,175.4M223.3,158.1L229.5,151.7L257.2,155.1" fill="none" stroke="#d4e2fc" stroke-opacity="0.45" stroke-width="0.6"/><circle cx="240.4" cy="156.4" r="2.7" fill="#a06ad4" fill-opacity="0.6"/><circle cx="229.5" cy="151.7" r="1.5" fill="#58b4c4" fill-opacity="0.7"/>
<circle cx="126.4" cy="145.9" r="2.0" fill="url(#gG)"/><circle cx="126.4" cy="189.6" r="2.0" fill="url(#gG)"/><circle cx="104.9" cy="169.9" r="2.0" fill="url(#gG)"/><circle cx="147.2" cy="165.8" r="2.0" fill="url(#gG)"/><circle cx="132.5" cy="173.9" r="2.0" fill="url(#gG)"/><circle cx="167.1" cy="143.5" r="2.0" fill="url(#gG)"/><circle cx="167.1" cy="184.5" r="2.0" fill="url(#gG)"/><circle cx="186.8" cy="161.8" r="2.0" fill="url(#gG)"/><circle cx="175.2" cy="169.3" r="2.0" fill="url(#gG)"/><circle cx="205.0" cy="139.8" r="2.0" fill="url(#gG)"/><circle cx="204.4" cy="179.4" r="2.0" fill="url(#gG)"/><circle cx="223.3" cy="158.1" r="2.0" fill="url(#gG)"/><circle cx="214.6" cy="165.2" r="2.0" fill="url(#gG)"/><circle cx="240.6" cy="137.4" r="2.0" fill="url(#gG)"/><circle cx="240.2" cy="175.4" r="2.0" fill="url(#gG)"/><circle cx="257.2" cy="155.1" r="2.0" fill="url(#gG)"/><circle cx="251.3" cy="161.1" r="2.0" fill="url(#gG)"/>
<polygon points="125.8,102.9 104.5,125.6 126.4,145.9 147.2,123.2" fill="#7a94e6" fill-opacity="0.63"/><polygon points="125.8,102.9 104.5,125.6 132.3,128.0" fill="#7192e8" fill-opacity="0.84"/><polygon points="125.8,102.9 132.3,128.0 147.2,123.2" fill="#86a8f4" fill-opacity="0.84"/><polygon points="126.4,145.9 104.5,125.6 132.3,128.0" fill="#6e82de" fill-opacity="0.84"/><polygon points="126.4,145.9 132.3,128.0 147.2,123.2" fill="#7794ea" fill-opacity="0.84"/><path d="M125.8,102.9L104.5,125.6L126.4,145.9L147.2,123.2ZM125.8,102.9L132.3,128.0L126.4,145.9M104.5,125.6L132.3,128.0L147.2,123.2" fill="none" stroke="#c6d8fb" stroke-opacity="0.85" stroke-width="0.7" stroke-linejoin="round"/><path d="M125.8,102.9L119.9,120.8L126.4,145.9M104.5,125.6L119.9,120.8L147.2,123.2" fill="none" stroke="#d4e2fc" stroke-opacity="0.45" stroke-width="0.6"/><circle cx="126.1" cy="124.4" r="2.7" fill="#a06ad4" fill-opacity="0.6"/><circle cx="119.9" cy="120.8" r="1.5" fill="#58b4c4" fill-opacity="0.7"/><polygon points="167.5,100.8 147.2,123.2 167.1,143.5 187.2,121.1" fill="#7a94e6" fill-opacity="0.63"/><polygon points="167.5,100.8 147.2,123.2 175.6,125.6" fill="#7192e8" fill-opacity="0.84"/><polygon points="167.5,100.8 175.6,125.6 187.2,121.1" fill="#86a8f4" fill-opacity="0.84"/><polygon points="167.1,143.5 147.2,123.2 175.6,125.6" fill="#6e82de" fill-opacity="0.84"/><polygon points="167.1,143.5 175.6,125.6 187.2,121.1" fill="#7794ea" fill-opacity="0.84"/><path d="M167.5,100.8L147.2,123.2L167.1,143.5L187.2,121.1ZM167.5,100.8L175.6,125.6L167.1,143.5M147.2,123.2L175.6,125.6L187.2,121.1" fill="none" stroke="#c6d8fb" stroke-opacity="0.85" stroke-width="0.7" stroke-linejoin="round"/><path d="M167.5,100.8L159.0,118.7L167.1,143.5M147.2,123.2L159.0,118.7L187.2,121.1" fill="none" stroke="#d4e2fc" stroke-opacity="0.45" stroke-width="0.6"/><circle cx="167.3" cy="122.2" r="2.7" fill="#a06ad4" fill-opacity="0.6"/><circle cx="159.0" cy="118.7" r="1.5" fill="#58b4c4" fill-opacity="0.7"/><polygon points="206.0,99.2 187.2,121.1 205.0,139.8 224.3,118.5" fill="#7a94e6" fill-opacity="0.63"/><polygon points="206.0,99.2 187.2,121.1 215.8,123.2" fill="#7192e8" fill-opacity="0.84"/><polygon points="206.0,99.2 215.8,123.2 224.3,118.5" fill="#86a8f4" fill-opacity="0.84"/><polygon points="205.0,139.8 187.2,121.1 215.8,123.2" fill="#6e82de" fill-opacity="0.84"/><polygon points="205.0,139.8 215.8,123.2 224.3,118.5" fill="#7794ea" fill-opacity="0.84"/><path d="M206.0,99.2L187.2,121.1L205.0,139.8L224.3,118.5ZM206.0,99.2L215.8,123.2L205.0,139.8M187.2,121.1L215.8,123.2L224.3,118.5" fill="none" stroke="#c6d8fb" stroke-opacity="0.85" stroke-width="0.7" stroke-linejoin="round"/><path d="M206.0,99.2L195.2,115.8L205.0,139.8M187.2,121.1L195.2,115.8L224.3,118.5" fill="none" stroke="#d4e2fc" stroke-opacity="0.45" stroke-width="0.6"/><circle cx="205.5" cy="119.5" r="2.7" fill="#a06ad4" fill-opacity="0.6"/><circle cx="195.2" cy="115.8" r="1.5" fill="#58b4c4" fill-opacity="0.7"/><polygon points="242.2,98.2 224.3,118.5 240.6,137.4 258.8,116.5" fill="#7a94e6" fill-opacity="0.63"/><polygon points="242.2,98.2 224.3,118.5 252.7,121.1" fill="#7192e8" fill-opacity="0.84"/><polygon points="242.2,98.2 252.7,121.1 258.8,116.5" fill="#86a8f4" fill-opacity="0.84"/><polygon points="240.6,137.4 224.3,118.5 252.7,121.1" fill="#6e82de" fill-opacity="0.84"/><polygon points="240.6,137.4 252.7,121.1 258.8,116.5" fill="#7794ea" fill-opacity="0.84"/><path d="M242.2,98.2L224.3,118.5L240.6,137.4L258.8,116.5ZM242.2,98.2L252.7,121.1L240.6,137.4M224.3,118.5L252.7,121.1L258.8,116.5" fill="none" stroke="#c6d8fb" stroke-opacity="0.85" stroke-width="0.7" stroke-linejoin="round"/><path d="M242.2,98.2L230.1,114.5L240.6,137.4M224.3,118.5L230.1,114.5L258.8,116.5" fill="none" stroke="#d4e2fc" stroke-opacity="0.45" stroke-width="0.6"/><circle cx="241.4" cy="117.8" r="2.7" fill="#a06ad4" fill-opacity="0.6"/><circle cx="230.1" cy="114.5" r="1.5" fill="#58b4c4" fill-opacity="0.7"/>
<circle cx="125.8" cy="102.9" r="2.0" fill="url(#gG)"/><circle cx="126.4" cy="145.9" r="2.0" fill="url(#gG)"/><circle cx="104.5" cy="125.6" r="2.0" fill="url(#gG)"/><circle cx="147.2" cy="123.2" r="2.0" fill="url(#gG)"/><circle cx="132.3" cy="128.0" r="2.0" fill="url(#gG)"/><circle cx="167.5" cy="100.8" r="2.0" fill="url(#gG)"/><circle cx="167.1" cy="143.5" r="2.0" fill="url(#gG)"/><circle cx="187.2" cy="121.1" r="2.0" fill="url(#gG)"/><circle cx="175.6" cy="125.6" r="2.0" fill="url(#gG)"/><circle cx="206.0" cy="99.2" r="2.0" fill="url(#gG)"/><circle cx="205.0" cy="139.8" r="2.0" fill="url(#gG)"/><circle cx="224.3" cy="118.5" r="2.0" fill="url(#gG)"/><circle cx="215.8" cy="123.2" r="2.0" fill="url(#gG)"/><circle cx="242.2" cy="98.2" r="2.0" fill="url(#gG)"/><circle cx="240.6" cy="137.4" r="2.0" fill="url(#gG)"/><circle cx="258.8" cy="116.5" r="2.0" fill="url(#gG)"/><circle cx="252.7" cy="121.1" r="2.0" fill="url(#gG)"/>
<circle cx="140.7" cy="139.4" r="5.6" fill="url(#gA)"/>
<circle cx="178.6" cy="137.4" r="5.6" fill="url(#gA)"/>
<circle cx="214.6" cy="134.7" r="5.6" fill="url(#gA)"/>
<g fill="none" stroke="#807e78" stroke-width="1.7" stroke-linejoin="round" stroke-linecap="round"><polygon points="78.1,196 86.7,193.2 92.4,198.8 90.9,206.7 83,208.8 77.1,203.9"/><polyline points="92.4,198.8 100.1,194.5 107.3,200.9 113.7,198.1"/><line x1="78.1" y1="196" x2="73.2" y2="191.7"/><line x1="77.1" y1="203.9" x2="70.7" y2="207.3"/></g>
<circle cx="73.2" cy="191.7" r="2.3" fill="#e26484"/><circle cx="70.7" cy="207.3" r="2.3" fill="#e26484"/><circle cx="113.7" cy="198.1" r="2.1" fill="#7484e2"/>
<circle cx="171.5" cy="202.4" r="6" fill="url(#gA)"/>
<circle cx="203.9" cy="203" r="3.4" fill="#d256ea"/>
<circle cx="238" cy="202" r="2.6" fill="#52c452"/>
</g>
<g font-family="'Liberation Sans', Arial, sans-serif" font-weight="700" filter="url(#b3)">
<text x="41.2" y="33.3" font-size="24.6" fill="#111" stroke="#111" stroke-width="0.4" textLength="12.4" lengthAdjust="spacingAndGlyphs">a</text>
<text x="60.8" y="56.4" font-size="14.5" fill="#6f92ea">2D</text>
<text x="60.8" y="140.2" font-size="14.5" fill="#6f92ea">3D</text>
<text x="120" y="206.7" font-size="11" fill="#222">DAH<tspan font-size="8" dy="-4">+</tspan></text>
<text x="182" y="206.7" font-size="11" fill="#222">A<tspan font-size="8" dy="-4">+</tspan></text>
<text x="212" y="206.7" font-size="11" fill="#222">B<tspan font-size="7" dy="-4">2+</tspan></text>
<text x="244.4" y="206.7" font-size="11" fill="#222">I<tspan font-size="8" dy="-4">-</tspan></text>
</g>
</svg>
<div class="cap">
<div class="ln j" style="top:602.1px"><b>Fig. 5.</b><span class="sp"></span>(a) The 2D/3D heterojunction by DAH<sup>+</sup> image [<span class="r">145</span>]. Copyright 2023 American Chemical Society. (b) The 2D/3D heterojunction by t-BUA image [<span class="r">146</span>].</div>
<div class="ln j" style="top:619.7px">Copyright 2018 American Chemical Society. (c) and (d) Schematic diagram of the in-situ crosslinking reaction [<span class="r">147</span>,<span class="r">148</span>]. Copyright 2019 Wiley-Blackwell and 2024</div>
<div class="ln" style="top:637.2px">American Chemical Society.</div>
</div>
</body></html>
